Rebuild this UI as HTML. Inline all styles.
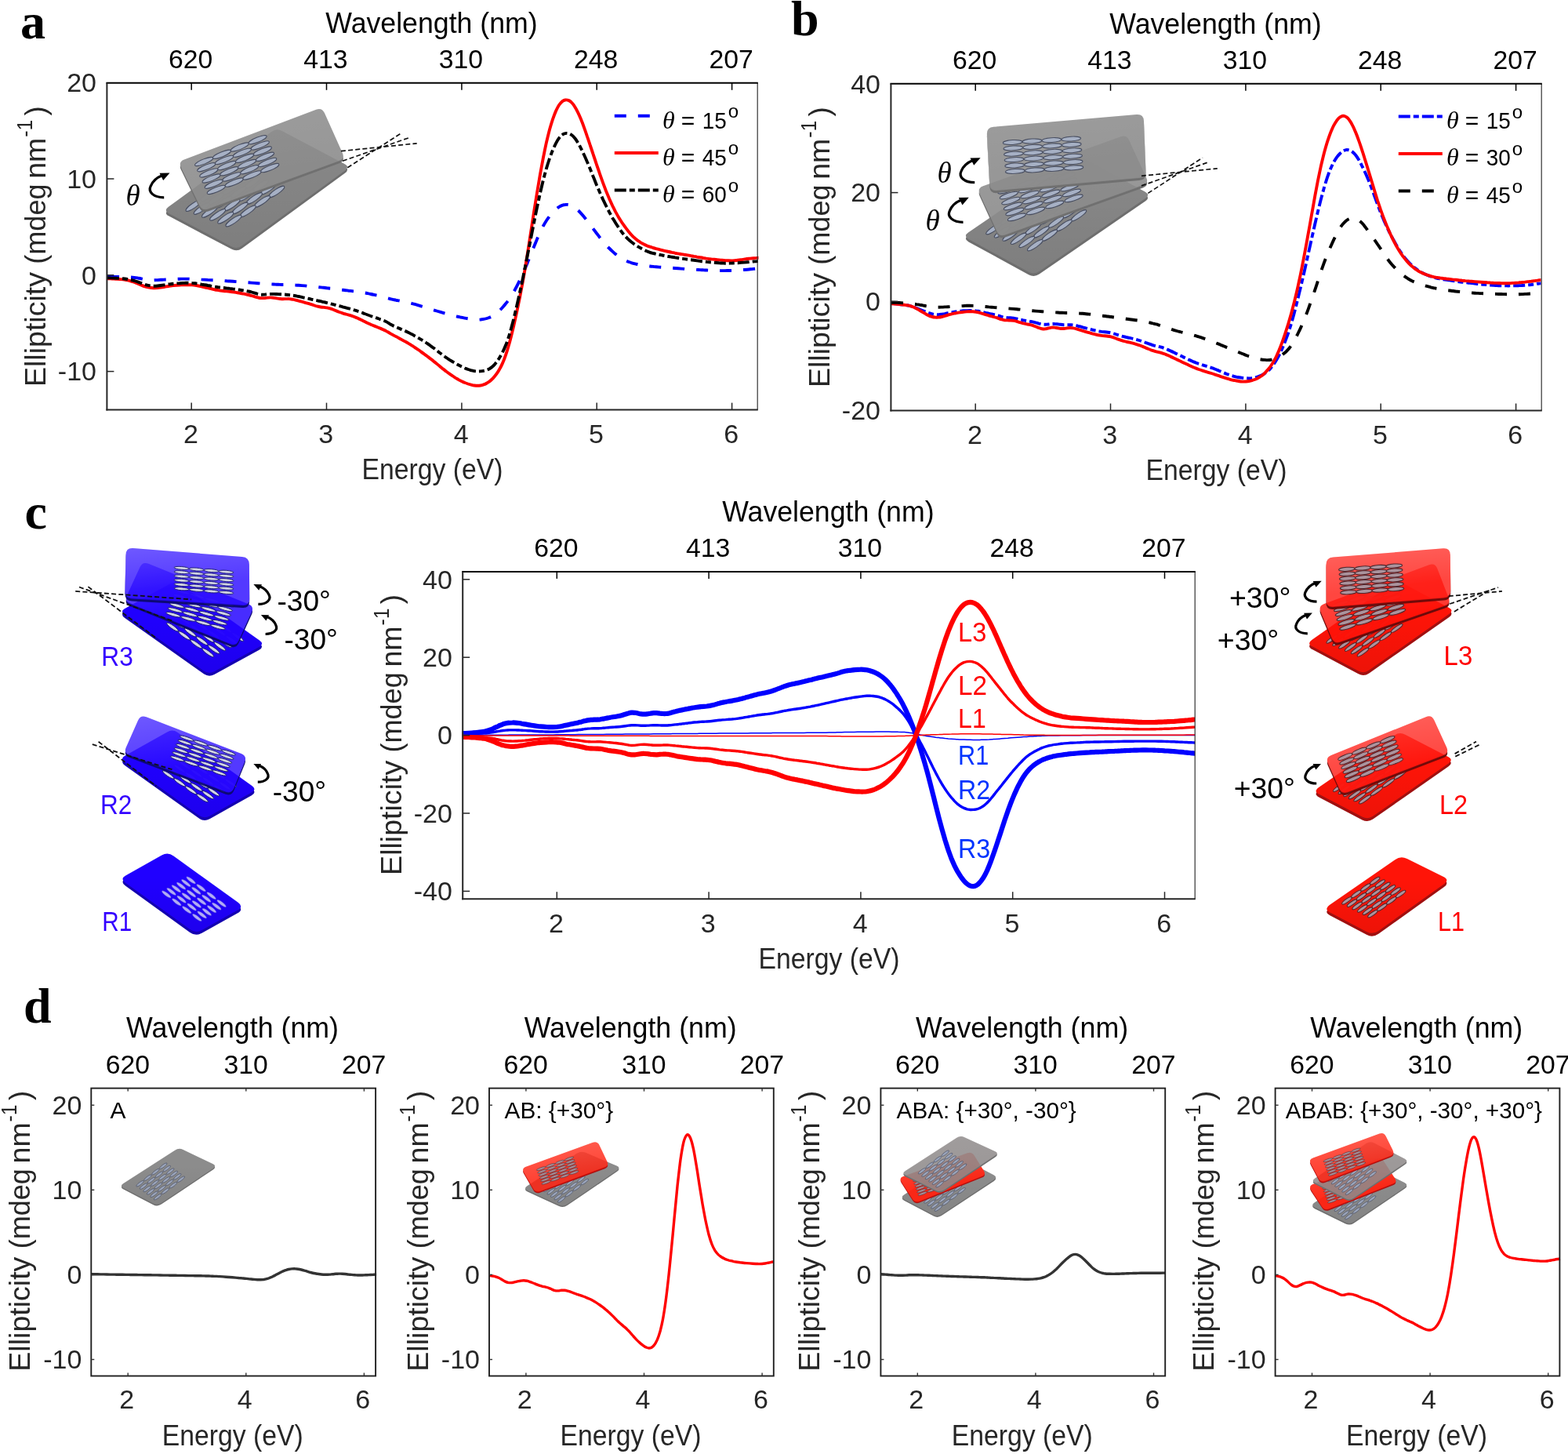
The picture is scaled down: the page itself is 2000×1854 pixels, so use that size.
<!DOCTYPE html>
<html lang="en"><head><meta charset="utf-8"><title>Ellipticity spectra of twisted stacks</title>
<style>
html,body{margin:0;padding:0;background:#fff;}
body{width:2000px;height:1854px;overflow:hidden;font-family:'Liberation Sans',sans-serif;}
svg{display:block;}
text{white-space:pre;}
</style></head><body>
<svg width="2000" height="1854" viewBox="0 0 2000 1854">
<rect x="0" y="0" width="2000" height="1854" fill="#ffffff"/>
<text x="26.0" y="48.5" font-family="'Liberation Serif', serif" font-size="64" text-anchor="start" fill="#000" font-weight="bold">a</text>
<defs><linearGradient id="shine" x1="0" y1="0" x2="0.25" y2="1"><stop offset="0" stop-color="#fff" stop-opacity="1"/><stop offset="0.75" stop-color="#fff" stop-opacity="0"/></linearGradient><linearGradient id="shade" x1="0" y1="0" x2="0" y2="1"><stop offset="0.3" stop-color="#000" stop-opacity="0"/><stop offset="1" stop-color="#000" stop-opacity="1"/></linearGradient></defs>
<path d="M215.5 272.2Q208.4 268.5 214.9 263.8L346.3 167.9Q352.7 163.2 359.8 166.9L439.4 208.9Q446.4 212.7 440.0 217.4L308.6 313.3Q302.2 318.0 295.1 314.2Z" transform="translate(0 3.4)" fill="#6e6e6e"/>
<path d="M215.5 272.2Q208.4 268.5 214.9 263.8L346.3 167.9Q352.7 163.2 359.8 166.9L439.4 208.9Q446.4 212.7 440.0 217.4L308.6 313.3Q302.2 318.0 295.1 314.2Z" fill="#868686" opacity="1"/>
<path d="M215.5 272.2Q208.4 268.5 214.9 263.8L346.3 167.9Q352.7 163.2 359.8 166.9L439.4 208.9Q446.4 212.7 440.0 217.4L308.6 313.3Q302.2 318.0 295.1 314.2Z" fill="url(#shade)" opacity="0.06"/>
<mask id="m1" maskUnits="userSpaceOnUse" x="142.8" y="34.5" width="420.0" height="420.0"><rect x="142.8" y="34.5" width="420.0" height="420.0" fill="#fff"/><path d="M230.9 213.5Q227.4 206.4 234.9 203.5L403.2 139.7Q410.6 136.8 413.9 144.1L436.9 195.3Q440.1 202.6 432.6 205.3L265.5 266.4Q257.9 269.1 254.4 261.9Z" fill="#333"/></mask>
<g fill="#a6b0c4" stroke="#474d60" stroke-width="1.0" opacity="1.0" mask="url(#m1)"><ellipse cx="352.8" cy="244.5" rx="12.0" ry="3.1" transform="rotate(-34.2 352.8 244.5)"/><ellipse cx="334.5" cy="256.9" rx="12.0" ry="3.1" transform="rotate(-34.2 334.5 256.9)"/><ellipse cx="316.3" cy="269.3" rx="12.0" ry="3.1" transform="rotate(-34.2 316.3 269.3)"/><ellipse cx="298.0" cy="281.6" rx="12.0" ry="3.1" transform="rotate(-34.2 298.0 281.6)"/><ellipse cx="342.6" cy="240.6" rx="12.0" ry="3.1" transform="rotate(-34.2 342.6 240.6)"/><ellipse cx="324.3" cy="253.0" rx="12.0" ry="3.1" transform="rotate(-34.2 324.3 253.0)"/><ellipse cx="306.1" cy="265.4" rx="12.0" ry="3.1" transform="rotate(-34.2 306.1 265.4)"/><ellipse cx="287.8" cy="277.7" rx="12.0" ry="3.1" transform="rotate(-34.2 287.8 277.7)"/><ellipse cx="332.4" cy="236.7" rx="12.0" ry="3.1" transform="rotate(-34.2 332.4 236.7)"/><ellipse cx="314.2" cy="249.1" rx="12.0" ry="3.1" transform="rotate(-34.2 314.2 249.1)"/><ellipse cx="295.9" cy="261.4" rx="12.0" ry="3.1" transform="rotate(-34.2 295.9 261.4)"/><ellipse cx="277.7" cy="273.8" rx="12.0" ry="3.1" transform="rotate(-34.2 277.7 273.8)"/><ellipse cx="322.3" cy="232.8" rx="12.0" ry="3.1" transform="rotate(-34.2 322.3 232.8)"/><ellipse cx="304.0" cy="245.1" rx="12.0" ry="3.1" transform="rotate(-34.2 304.0 245.1)"/><ellipse cx="285.7" cy="257.5" rx="12.0" ry="3.1" transform="rotate(-34.2 285.7 257.5)"/><ellipse cx="267.5" cy="269.9" rx="12.0" ry="3.1" transform="rotate(-34.2 267.5 269.9)"/><ellipse cx="312.1" cy="228.8" rx="12.0" ry="3.1" transform="rotate(-34.2 312.1 228.8)"/><ellipse cx="293.8" cy="241.2" rx="12.0" ry="3.1" transform="rotate(-34.2 293.8 241.2)"/><ellipse cx="275.6" cy="253.6" rx="12.0" ry="3.1" transform="rotate(-34.2 275.6 253.6)"/><ellipse cx="257.3" cy="266.0" rx="12.0" ry="3.1" transform="rotate(-34.2 257.3 266.0)"/><ellipse cx="301.9" cy="224.9" rx="12.0" ry="3.1" transform="rotate(-34.2 301.9 224.9)"/><ellipse cx="283.7" cy="237.3" rx="12.0" ry="3.1" transform="rotate(-34.2 283.7 237.3)"/><ellipse cx="265.4" cy="249.7" rx="12.0" ry="3.1" transform="rotate(-34.2 265.4 249.7)"/><ellipse cx="247.1" cy="262.1" rx="12.0" ry="3.1" transform="rotate(-34.2 247.1 262.1)"/></g>
<mask id="m2" maskUnits="userSpaceOnUse" x="219.4" y="128.8" width="228.7" height="148.3"><rect x="219.4" y="128.8" width="228.7" height="148.3" fill="#fff"/><path d="M230.9 213.5Q227.4 206.4 234.9 203.5L403.2 139.7Q410.6 136.8 413.9 144.1L436.9 195.3Q440.1 202.6 432.6 205.3L265.5 266.4Q257.9 269.1 254.4 261.9Z" fill="#000" transform="translate(0 -0.8)"/></mask>
<g mask="url(#m2)"><path d="M230.9 213.5Q227.4 206.4 234.9 203.5L403.2 139.7Q410.6 136.8 413.9 144.1L436.9 195.3Q440.1 202.6 432.6 205.3L265.5 266.4Q257.9 269.1 254.4 261.9Z" transform="translate(0 3.0)" fill="#707070" opacity="1"/></g>
<path d="M230.9 213.5Q227.4 206.4 234.9 203.5L403.2 139.7Q410.6 136.8 413.9 144.1L436.9 195.3Q440.1 202.6 432.6 205.3L265.5 266.4Q257.9 269.1 254.4 261.9Z" fill="#8c8c8c" opacity="0.9"/>
<path d="M230.9 213.5Q227.4 206.4 234.9 203.5L403.2 139.7Q410.6 136.8 413.9 144.1L436.9 195.3Q440.1 202.6 432.6 205.3L265.5 266.4Q257.9 269.1 254.4 261.9Z" fill="url(#shine)" opacity="0.05"/>
<g fill="#a6b0c4" stroke="#474d60" stroke-width="1.0" opacity="1.0"><ellipse cx="260.2" cy="206.0" rx="12.5" ry="3.1" transform="rotate(-22.1 260.2 206.0)"/><ellipse cx="283.0" cy="196.8" rx="12.5" ry="3.1" transform="rotate(-22.1 283.0 196.8)"/><ellipse cx="305.8" cy="187.5" rx="12.5" ry="3.1" transform="rotate(-22.1 305.8 187.5)"/><ellipse cx="328.6" cy="178.2" rx="12.5" ry="3.1" transform="rotate(-22.1 328.6 178.2)"/><ellipse cx="263.3" cy="213.2" rx="12.5" ry="3.1" transform="rotate(-22.1 263.3 213.2)"/><ellipse cx="286.1" cy="203.9" rx="12.5" ry="3.1" transform="rotate(-22.1 286.1 203.9)"/><ellipse cx="309.0" cy="194.7" rx="12.5" ry="3.1" transform="rotate(-22.1 309.0 194.7)"/><ellipse cx="331.8" cy="185.4" rx="12.5" ry="3.1" transform="rotate(-22.1 331.8 185.4)"/><ellipse cx="266.4" cy="220.4" rx="12.5" ry="3.1" transform="rotate(-22.1 266.4 220.4)"/><ellipse cx="289.3" cy="211.1" rx="12.5" ry="3.1" transform="rotate(-22.1 289.3 211.1)"/><ellipse cx="312.1" cy="201.8" rx="12.5" ry="3.1" transform="rotate(-22.1 312.1 201.8)"/><ellipse cx="334.9" cy="192.6" rx="12.5" ry="3.1" transform="rotate(-22.1 334.9 192.6)"/><ellipse cx="269.6" cy="227.5" rx="12.5" ry="3.1" transform="rotate(-22.1 269.6 227.5)"/><ellipse cx="292.4" cy="218.3" rx="12.5" ry="3.1" transform="rotate(-22.1 292.4 218.3)"/><ellipse cx="315.2" cy="209.0" rx="12.5" ry="3.1" transform="rotate(-22.1 315.2 209.0)"/><ellipse cx="338.0" cy="199.8" rx="12.5" ry="3.1" transform="rotate(-22.1 338.0 199.8)"/><ellipse cx="272.7" cy="234.7" rx="12.5" ry="3.1" transform="rotate(-22.1 272.7 234.7)"/><ellipse cx="295.5" cy="225.4" rx="12.5" ry="3.1" transform="rotate(-22.1 295.5 225.4)"/><ellipse cx="318.3" cy="216.2" rx="12.5" ry="3.1" transform="rotate(-22.1 318.3 216.2)"/><ellipse cx="341.2" cy="206.9" rx="12.5" ry="3.1" transform="rotate(-22.1 341.2 206.9)"/><ellipse cx="275.8" cy="241.9" rx="12.5" ry="3.1" transform="rotate(-22.1 275.8 241.9)"/><ellipse cx="298.7" cy="232.6" rx="12.5" ry="3.1" transform="rotate(-22.1 298.7 232.6)"/><ellipse cx="321.5" cy="223.4" rx="12.5" ry="3.1" transform="rotate(-22.1 321.5 223.4)"/><ellipse cx="344.3" cy="214.1" rx="12.5" ry="3.1" transform="rotate(-22.1 344.3 214.1)"/></g>
<line x1="434.9" y1="192.7" x2="531.7" y2="182.8" stroke="#111" stroke-width="1.7" stroke-dasharray="6 3.2"/>
<line x1="437.0" y1="205.3" x2="521.2" y2="175.8" stroke="#111" stroke-width="1.7" stroke-dasharray="6 3.2"/>
<line x1="443.3" y1="213.7" x2="510.7" y2="170.5" stroke="#111" stroke-width="1.7" stroke-dasharray="6 3.2"/>
<path d="M209.2 251.8 C195.9 251.8 188.4 244.9 192.2 237.3 C194.7 231.0 201.0 226.0 206.7 223.7" fill="none" stroke="#000" stroke-width="3.2"/>
<path d="M216.5 220.4 L203.5 220.7 L208.2 230.0 Z" fill="#000"/>
<text x="160.5" y="262.0" font-family="'Liberation Serif', serif" font-size="37" text-anchor="start" fill="#000" font-style="italic">θ</text>
<path d="M137.0 352.6C137.7 352.6 139.7 352.6 141.0 352.7C142.4 352.7 143.7 352.7 145.0 352.8C146.4 352.8 147.7 352.8 149.0 352.9C150.4 352.9 151.7 352.9 153.0 353.0C154.4 353.0 155.7 353.0 157.0 353.1C158.4 353.1 159.7 353.2 161.0 353.2C162.4 353.3 163.7 353.4 165.0 353.4C166.4 353.5 167.7 353.6 169.0 353.7C170.4 353.8 171.7 353.9 173.0 354.1C174.4 354.3 175.7 354.5 177.0 354.8C178.4 355.0 179.7 355.3 181.0 355.6C182.4 355.9 183.7 356.2 185.0 356.4C186.4 356.6 187.7 356.9 189.0 357.0C190.4 357.1 191.7 357.2 193.0 357.3C194.4 357.3 195.7 357.3 197.0 357.2C198.4 357.2 199.7 357.1 201.0 357.1C202.4 357.0 203.7 356.9 205.0 356.8C206.4 356.8 207.7 356.7 209.0 356.6C210.4 356.6 211.7 356.5 213.0 356.5C214.4 356.4 215.7 356.3 217.0 356.3C218.4 356.2 219.7 356.1 221.0 356.1C222.4 356.0 223.7 355.9 225.0 355.9C226.4 355.8 227.7 355.8 229.0 355.7C230.4 355.7 231.7 355.6 233.0 355.6C234.4 355.6 235.7 355.6 237.0 355.6C238.4 355.6 239.7 355.6 241.0 355.6C242.4 355.7 243.7 355.7 245.0 355.7C246.4 355.8 247.7 355.9 249.0 355.9C250.4 356.0 251.7 356.1 253.0 356.1C254.4 356.2 255.7 356.3 257.0 356.4C258.4 356.4 259.7 356.5 261.0 356.6C262.4 356.7 263.7 356.8 265.0 356.9C266.4 356.9 267.7 357.0 269.0 357.1C270.4 357.2 271.7 357.2 273.0 357.3C274.4 357.4 275.7 357.5 277.0 357.5C278.4 357.6 279.7 357.7 281.0 357.8C282.4 357.9 283.7 357.9 285.0 358.0C286.4 358.1 287.7 358.2 289.0 358.3C290.4 358.4 291.7 358.5 293.0 358.5C294.4 358.6 295.7 358.7 297.0 358.8C298.4 358.9 299.7 359.0 301.0 359.1C302.4 359.2 303.7 359.3 305.0 359.4C306.4 359.5 307.7 359.6 309.0 359.7C310.4 359.8 311.7 359.9 313.0 360.0C314.4 360.1 315.7 360.2 317.0 360.3C318.4 360.4 319.7 360.5 321.0 360.6C322.4 360.7 323.7 360.8 325.0 360.9C326.4 361.0 327.7 361.1 329.0 361.2C330.4 361.3 331.7 361.4 333.0 361.5C334.4 361.6 335.7 361.7 337.0 361.7C338.4 361.8 339.7 361.9 341.0 362.0C342.4 362.1 343.7 362.2 345.0 362.3C346.4 362.3 347.7 362.4 349.0 362.5C350.4 362.6 351.7 362.6 353.0 362.7C354.4 362.8 355.7 362.8 357.0 362.9C358.4 362.9 359.7 363.0 361.0 363.0C362.4 363.0 363.7 363.1 365.0 363.1C366.4 363.2 367.7 363.2 369.0 363.2C370.4 363.3 371.7 363.3 373.0 363.4C374.4 363.5 375.7 363.5 377.0 363.6C378.4 363.7 379.7 363.7 381.0 363.8C382.4 363.9 383.7 364.0 385.0 364.1C386.4 364.2 387.7 364.3 389.0 364.4C390.4 364.5 391.7 364.7 393.0 364.8C394.4 364.9 395.7 365.0 397.0 365.2C398.4 365.3 399.7 365.4 401.0 365.6C402.4 365.7 403.7 365.8 405.0 366.0C406.4 366.1 407.7 366.3 409.0 366.4C410.4 366.5 411.7 366.7 413.0 366.8C414.4 367.0 415.7 367.1 417.0 367.3C418.4 367.4 419.7 367.6 421.0 367.8C422.4 367.9 423.7 368.1 425.0 368.2C426.4 368.4 427.7 368.6 429.0 368.7C430.4 368.9 431.7 369.1 433.0 369.2C434.4 369.4 435.7 369.6 437.0 369.7C438.4 369.9 439.7 370.1 441.0 370.2C442.4 370.4 443.7 370.5 445.0 370.7C446.4 370.8 447.7 371.0 449.0 371.1C450.4 371.3 451.7 371.4 453.0 371.5C454.4 371.7 455.7 371.9 457.0 372.0C458.4 372.2 459.7 372.4 461.0 372.6C462.4 372.9 463.7 373.1 465.0 373.4C466.4 373.6 467.7 373.9 469.0 374.1C470.4 374.4 471.7 374.7 473.0 375.0C474.4 375.3 475.7 375.6 477.0 375.9C478.4 376.2 479.7 376.5 481.0 376.8C482.4 377.2 483.7 377.5 485.0 377.8C486.4 378.2 487.7 378.5 489.0 378.9C490.4 379.2 491.7 379.6 493.0 379.9C494.4 380.3 495.7 380.6 497.0 381.0C498.4 381.3 499.7 381.6 501.0 381.9C502.4 382.2 503.7 382.4 505.0 382.7C506.4 382.9 507.7 383.2 509.0 383.4C510.4 383.7 511.7 383.9 513.0 384.2C514.4 384.4 515.7 384.7 517.0 384.9C518.4 385.2 519.7 385.5 521.0 385.8C522.4 386.1 523.7 386.4 525.0 386.8C526.4 387.1 527.7 387.5 529.0 387.9C530.4 388.3 531.7 388.7 533.0 389.1C534.4 389.5 535.7 389.9 537.0 390.3C538.4 390.7 539.7 391.1 541.0 391.6C542.4 392.0 543.7 392.4 545.0 392.8C546.4 393.2 547.7 393.6 549.0 394.0C550.4 394.4 551.7 394.9 553.0 395.3C554.4 395.7 555.7 396.1 557.0 396.5C558.4 396.9 559.7 397.3 561.0 397.7C562.4 398.1 563.7 398.5 565.0 398.9C566.4 399.3 567.7 399.7 569.0 400.1C570.4 400.4 571.7 400.8 573.0 401.1C574.4 401.5 575.7 401.8 577.0 402.1C578.4 402.4 579.7 402.8 581.0 403.1C582.4 403.4 583.7 403.7 585.0 404.0C586.4 404.3 587.7 404.6 589.0 404.8C590.4 405.1 591.7 405.4 593.0 405.6C594.4 405.9 595.7 406.1 597.0 406.3C598.4 406.5 599.7 406.8 601.0 407.0C602.4 407.2 603.7 407.3 605.0 407.5C606.4 407.6 607.7 407.7 609.0 407.7C610.4 407.7 611.7 407.6 613.0 407.5C614.4 407.3 615.7 407.1 617.0 406.9C618.4 406.7 619.7 406.4 621.0 406.0C622.4 405.6 623.7 405.2 625.0 404.6C626.4 404.0 627.7 403.4 629.0 402.6C630.4 401.8 631.7 400.8 633.0 399.8C634.4 398.7 635.7 397.5 637.0 396.2C638.4 394.9 639.7 393.5 641.0 392.0C642.4 390.5 643.7 389.0 645.0 387.3C646.4 385.7 647.7 384.0 649.0 382.1C650.4 380.2 651.7 378.2 653.0 376.1C654.4 373.9 655.7 371.6 657.0 369.1C658.4 366.7 659.7 364.1 661.0 361.4C662.4 358.7 663.7 355.9 665.0 353.0C666.4 350.1 667.7 347.1 669.0 344.0C670.4 340.9 671.7 337.6 673.0 334.4C674.4 331.2 675.7 327.9 677.0 324.6C678.4 321.3 679.7 318.0 681.0 314.7C682.4 311.5 683.7 308.0 685.0 304.9C686.4 301.7 687.7 298.6 689.0 295.7C690.4 292.9 691.7 290.3 693.0 287.9C694.4 285.5 695.7 283.4 697.0 281.3C698.4 279.3 699.7 277.4 701.0 275.7C702.4 273.9 703.7 272.3 705.0 270.9C706.4 269.5 707.7 268.2 709.0 267.0C710.4 265.8 711.7 264.8 713.0 263.9C714.4 263.1 715.7 262.4 717.0 261.9C718.4 261.4 719.7 261.1 721.0 261.0C722.4 260.8 723.7 260.9 725.0 261.1C726.4 261.2 727.7 261.6 729.0 262.1C730.4 262.7 731.7 263.5 733.0 264.4C734.4 265.4 735.7 266.6 737.0 267.8C738.4 269.1 739.7 270.5 741.0 272.0C742.4 273.4 743.7 275.0 745.0 276.6C746.4 278.2 747.7 279.9 749.0 281.6C750.4 283.3 751.7 285.1 753.0 286.9C754.4 288.6 755.7 290.4 757.0 292.2C758.4 293.9 759.7 295.7 761.0 297.5C762.4 299.2 763.7 301.0 765.0 302.7C766.4 304.4 767.7 306.0 769.0 307.6C770.4 309.2 771.7 310.7 773.0 312.2C774.4 313.7 775.7 315.2 777.0 316.5C778.4 317.9 779.7 319.2 781.0 320.4C782.4 321.7 783.7 322.8 785.0 323.9C786.4 325.0 787.7 326.0 789.0 327.0C790.4 327.9 791.7 328.8 793.0 329.6C794.4 330.3 795.7 331.1 797.0 331.8C798.4 332.4 799.7 333.0 801.0 333.6C802.4 334.1 803.7 334.6 805.0 335.0C806.4 335.4 807.7 335.8 809.0 336.1C810.4 336.5 811.7 336.8 813.0 337.0C814.4 337.3 815.7 337.6 817.0 337.8C818.4 338.0 819.7 338.2 821.0 338.4C822.4 338.6 823.7 338.8 825.0 339.0C826.4 339.2 827.7 339.3 829.0 339.5C830.4 339.7 831.7 339.8 833.0 339.9C834.4 340.1 835.7 340.2 837.0 340.3C838.4 340.4 839.7 340.5 841.0 340.6C842.4 340.7 843.7 340.8 845.0 340.9C846.4 341.0 847.7 341.1 849.0 341.2C850.4 341.3 851.7 341.4 853.0 341.5C854.4 341.5 855.7 341.6 857.0 341.7C858.4 341.8 859.7 341.9 861.0 342.0C862.4 342.1 863.7 342.2 865.0 342.3C866.4 342.4 867.7 342.5 869.0 342.6C870.4 342.7 871.7 342.8 873.0 342.9C874.4 343.0 875.7 343.1 877.0 343.1C878.4 343.2 879.7 343.3 881.0 343.4C882.4 343.5 883.7 343.6 885.0 343.6C886.4 343.7 887.7 343.8 889.0 343.9C890.4 344.0 891.7 344.0 893.0 344.1C894.4 344.2 895.7 344.2 897.0 344.3C898.4 344.4 899.7 344.5 901.0 344.5C902.4 344.6 903.7 344.7 905.0 344.7C906.4 344.8 907.7 344.8 909.0 344.9C910.4 344.9 911.7 345.0 913.0 345.0C914.4 345.0 915.7 345.1 917.0 345.1C918.4 345.1 919.7 345.1 921.0 345.1C922.4 345.1 923.7 345.1 925.0 345.1C926.4 345.1 927.7 345.0 929.0 345.0C930.4 345.0 931.7 344.9 933.0 344.9C934.4 344.8 935.7 344.7 937.0 344.7C938.4 344.6 939.7 344.5 941.0 344.5C942.4 344.4 943.7 344.3 945.0 344.2C946.4 344.1 947.7 344.1 949.0 344.0C950.4 343.9 951.7 343.8 953.0 343.7C954.4 343.6 955.7 343.5 957.0 343.3C958.4 343.2 959.7 343.1 961.0 342.9C962.4 342.8 964.0 342.6 965.0 342.5C966.0 342.5 966.7 342.4 967.0 342.4" fill="none" stroke="#0000ff" stroke-width="3.9" stroke-dasharray="15 15" stroke-linejoin="round"/>
<path d="M137.0 355.2C137.7 355.3 139.7 355.3 141.0 355.4C142.4 355.5 143.7 355.5 145.0 355.6C146.4 355.7 147.7 355.8 149.0 355.8C150.4 355.9 151.7 356.0 153.0 356.1C154.4 356.2 155.7 356.3 157.0 356.4C158.4 356.6 159.7 356.7 161.0 357.0C162.4 357.2 163.7 357.5 165.0 357.8C166.4 358.2 167.7 358.6 169.0 359.1C170.4 359.5 171.7 360.0 173.0 360.6C174.4 361.1 175.7 361.7 177.0 362.2C178.4 362.8 179.7 363.4 181.0 363.9C182.4 364.5 183.7 365.0 185.0 365.4C186.4 365.8 187.7 366.1 189.0 366.4C190.4 366.6 191.7 366.8 193.0 367.0C194.4 367.1 195.7 367.2 197.0 367.2C198.4 367.2 199.7 367.2 201.0 367.1C202.4 367.0 203.7 366.8 205.0 366.6C206.4 366.4 207.7 366.2 209.0 366.0C210.4 365.7 211.7 365.5 213.0 365.2C214.4 365.0 215.7 364.8 217.0 364.6C218.4 364.4 219.7 364.3 221.0 364.1C222.4 364.0 223.7 363.9 225.0 363.8C226.4 363.7 227.7 363.6 229.0 363.5C230.4 363.4 231.7 363.4 233.0 363.3C234.4 363.2 235.7 363.2 237.0 363.2C238.4 363.1 239.7 363.1 241.0 363.1C242.4 363.2 243.7 363.2 245.0 363.3C246.4 363.4 247.7 363.5 249.0 363.7C250.4 363.9 251.7 364.2 253.0 364.5C254.4 364.8 255.7 365.1 257.0 365.4C258.4 365.7 259.7 366.0 261.0 366.3C262.4 366.6 263.7 366.9 265.0 367.2C266.4 367.6 267.7 367.9 269.0 368.2C270.4 368.5 271.7 368.8 273.0 369.1C274.4 369.4 275.7 369.7 277.0 369.9C278.4 370.2 279.7 370.4 281.0 370.6C282.4 370.7 283.7 370.9 285.0 371.0C286.4 371.2 287.7 371.3 289.0 371.4C290.4 371.5 291.7 371.6 293.0 371.8C294.4 372.0 295.7 372.1 297.0 372.3C298.4 372.5 299.7 372.7 301.0 372.9C302.4 373.1 303.7 373.4 305.0 373.6C306.4 373.8 307.7 374.1 309.0 374.3C310.4 374.6 311.7 374.8 313.0 375.1C314.4 375.4 315.7 375.7 317.0 376.0C318.4 376.3 319.7 376.7 321.0 377.1C322.4 377.4 323.7 377.9 325.0 378.3C326.4 378.7 327.7 379.1 329.0 379.4C330.4 379.7 331.7 380.0 333.0 380.1C334.4 380.2 335.7 380.2 337.0 380.1C338.4 380.0 339.7 379.7 341.0 379.6C342.4 379.5 343.7 379.4 345.0 379.4C346.4 379.4 347.7 379.6 349.0 379.8C350.4 379.9 351.7 380.2 353.0 380.4C354.4 380.6 355.7 380.9 357.0 381.0C358.4 381.1 359.7 381.2 361.0 381.2C362.4 381.2 363.7 381.1 365.0 381.1C366.4 381.1 367.7 381.0 369.0 381.1C370.4 381.3 371.7 381.5 373.0 381.7C374.4 382.0 375.7 382.3 377.0 382.6C378.4 382.9 379.7 383.2 381.0 383.6C382.4 383.9 383.7 384.3 385.0 384.7C386.4 385.0 387.7 385.4 389.0 385.8C390.4 386.2 391.7 386.5 393.0 386.9C394.4 387.4 395.7 387.8 397.0 388.2C398.4 388.7 399.7 389.1 401.0 389.5C402.4 390.0 403.7 390.4 405.0 390.7C406.4 391.1 407.7 391.3 409.0 391.5C410.4 391.7 411.7 391.8 413.0 391.9C414.4 392.1 415.7 392.2 417.0 392.4C418.4 392.7 419.7 393.0 421.0 393.4C422.4 393.8 423.7 394.3 425.0 394.8C426.4 395.4 427.7 395.9 429.0 396.4C430.4 397.0 431.7 397.5 433.0 398.0C434.4 398.5 435.7 398.9 437.0 399.3C438.4 399.8 439.7 400.2 441.0 400.5C442.4 400.9 443.7 401.3 445.0 401.7C446.4 402.1 447.7 402.5 449.0 402.9C450.4 403.4 451.7 403.9 453.0 404.4C454.4 404.9 455.7 405.5 457.0 406.1C458.4 406.7 459.7 407.4 461.0 408.0C462.4 408.7 463.7 409.4 465.0 410.0C466.4 410.7 467.7 411.4 469.0 412.0C470.4 412.6 471.7 413.2 473.0 413.8C474.4 414.3 475.7 414.9 477.0 415.4C478.4 416.0 479.7 416.5 481.0 417.0C482.4 417.6 483.7 418.1 485.0 418.6C486.4 419.2 487.7 419.8 489.0 420.4C490.4 421.0 491.7 421.7 493.0 422.4C494.4 423.2 495.7 424.0 497.0 424.7C498.4 425.5 499.7 426.3 501.0 427.0C502.4 427.7 503.7 428.4 505.0 429.1C506.4 429.8 507.7 430.5 509.0 431.2C510.4 432.0 511.7 432.7 513.0 433.4C514.4 434.1 515.7 434.8 517.0 435.6C518.4 436.3 519.7 437.1 521.0 437.9C522.4 438.7 523.7 439.5 525.0 440.4C526.4 441.2 527.7 442.1 529.0 443.0C530.4 443.9 531.7 444.8 533.0 445.7C534.4 446.6 535.7 447.5 537.0 448.5C538.4 449.4 539.7 450.4 541.0 451.4C542.4 452.4 543.7 453.3 545.0 454.3C546.4 455.3 547.7 456.3 549.0 457.4C550.4 458.4 551.7 459.5 553.0 460.6C554.4 461.6 555.7 462.7 557.0 463.8C558.4 464.9 559.7 466.0 561.0 467.1C562.4 468.2 563.7 469.3 565.0 470.4C566.4 471.4 567.7 472.5 569.0 473.5C570.4 474.5 571.7 475.5 573.0 476.4C574.4 477.4 575.7 478.3 577.0 479.2C578.4 480.1 579.7 481.0 581.0 481.9C582.4 482.7 583.7 483.5 585.0 484.2C586.4 484.9 587.7 485.6 589.0 486.3C590.4 486.9 591.7 487.5 593.0 488.0C594.4 488.5 595.7 489.0 597.0 489.5C598.4 489.9 599.7 490.3 601.0 490.7C602.4 491.0 603.7 491.3 605.0 491.5C606.4 491.7 607.7 491.9 609.0 491.8C610.4 491.8 611.7 491.7 613.0 491.5C614.4 491.3 615.7 490.9 617.0 490.4C618.4 489.9 619.7 489.3 621.0 488.5C622.4 487.8 623.7 486.9 625.0 485.9C626.4 484.8 627.7 483.6 629.0 482.2C630.4 480.7 631.7 479.1 633.0 477.2C634.4 475.4 635.7 473.4 637.0 471.0C638.4 468.7 639.7 466.1 641.0 463.1C642.4 460.1 643.7 456.8 645.0 452.9C646.4 449.0 647.7 444.7 649.0 440.0C650.4 435.3 651.7 430.1 653.0 424.7C654.4 419.3 655.7 413.6 657.0 407.6C658.4 401.6 659.7 395.4 661.0 388.9C662.4 382.4 663.7 375.8 665.0 368.7C666.4 361.7 667.7 354.4 669.0 346.7C670.4 339.0 671.7 330.7 673.0 322.4C674.4 314.0 675.7 305.1 677.0 296.5C678.4 287.9 679.7 279.1 681.0 270.6C682.4 262.2 683.7 253.8 685.0 245.7C686.4 237.6 687.7 229.7 689.0 222.1C690.4 214.6 691.7 207.4 693.0 200.6C694.4 193.8 695.7 187.3 697.0 181.4C698.4 175.5 699.7 170.1 701.0 165.2C702.4 160.3 703.7 156.0 705.0 152.1C706.4 148.1 707.7 144.6 709.0 141.6C710.4 138.6 711.7 136.0 713.0 134.0C714.4 132.0 715.7 130.5 717.0 129.4C718.4 128.4 719.7 127.8 721.0 127.5C722.4 127.3 723.7 127.4 725.0 127.9C726.4 128.5 727.7 129.3 729.0 130.6C730.4 131.9 731.7 133.7 733.0 135.8C734.4 137.9 735.7 140.4 737.0 143.1C738.4 145.9 739.7 148.9 741.0 152.1C742.4 155.4 743.7 159.0 745.0 162.6C746.4 166.3 747.7 170.2 749.0 174.1C750.4 178.0 751.7 182.0 753.0 186.0C754.4 190.0 755.7 194.0 757.0 198.0C758.4 202.0 759.7 206.0 761.0 210.0C762.4 213.9 763.7 217.8 765.0 221.6C766.4 225.5 767.7 229.3 769.0 232.9C770.4 236.6 771.7 240.1 773.0 243.5C774.4 246.8 775.7 250.0 777.0 253.1C778.4 256.2 779.7 259.1 781.0 261.9C782.4 264.7 783.7 267.4 785.0 269.9C786.4 272.4 787.7 274.7 789.0 276.9C790.4 279.2 791.7 281.2 793.0 283.3C794.4 285.3 795.7 287.2 797.0 289.0C798.4 290.9 799.7 292.7 801.0 294.3C802.4 296.0 803.7 297.6 805.0 299.1C806.4 300.5 807.7 301.9 809.0 303.1C810.4 304.3 811.7 305.4 813.0 306.4C814.4 307.4 815.7 308.2 817.0 309.1C818.4 309.9 819.7 310.6 821.0 311.3C822.4 312.0 823.7 312.7 825.0 313.2C826.4 313.8 827.7 314.3 829.0 314.7C830.4 315.2 831.7 315.6 833.0 316.0C834.4 316.3 835.7 316.7 837.0 317.1C838.4 317.4 839.7 317.8 841.0 318.1C842.4 318.5 843.7 318.8 845.0 319.1C846.4 319.5 847.7 319.8 849.0 320.1C850.4 320.4 851.7 320.7 853.0 321.0C854.4 321.3 855.7 321.6 857.0 321.9C858.4 322.1 859.7 322.4 861.0 322.7C862.4 322.9 863.7 323.2 865.0 323.4C866.4 323.6 867.7 323.9 869.0 324.1C870.4 324.3 871.7 324.5 873.0 324.8C874.4 325.0 875.7 325.2 877.0 325.4C878.4 325.7 879.7 325.9 881.0 326.1C882.4 326.4 883.7 326.6 885.0 326.9C886.4 327.1 887.7 327.3 889.0 327.6C890.4 327.8 891.7 328.1 893.0 328.3C894.4 328.5 895.7 328.7 897.0 329.0C898.4 329.2 899.7 329.4 901.0 329.6C902.4 329.8 903.7 329.9 905.0 330.1C906.4 330.3 907.7 330.4 909.0 330.6C910.4 330.7 911.7 330.9 913.0 331.0C914.4 331.2 915.7 331.3 917.0 331.4C918.4 331.5 919.7 331.7 921.0 331.8C922.4 331.9 923.7 332.0 925.0 332.1C926.4 332.2 927.7 332.3 929.0 332.3C930.4 332.4 931.7 332.4 933.0 332.4C934.4 332.4 935.7 332.3 937.0 332.2C938.4 332.1 939.7 332.0 941.0 331.8C942.4 331.6 943.7 331.4 945.0 331.2C946.4 331.1 947.7 330.8 949.0 330.6C950.4 330.4 951.7 330.2 953.0 330.0C954.4 329.9 955.7 329.7 957.0 329.6C958.4 329.4 959.7 329.3 961.0 329.2C962.4 329.1 963.9 328.9 965.0 328.9C966.1 328.8 967.1 328.7 967.5 328.7" fill="none" stroke="#ff0000" stroke-width="3.9" stroke-linejoin="round"/>
<path d="M137.0 354.2C137.7 354.2 139.7 354.3 141.0 354.4C142.4 354.4 143.7 354.5 145.0 354.6C146.4 354.6 147.7 354.7 149.0 354.8C150.4 354.8 151.7 354.9 153.0 355.0C154.4 355.1 155.7 355.2 157.0 355.3C158.4 355.4 159.7 355.5 161.0 355.7C162.4 355.9 163.7 356.1 165.0 356.4C166.4 356.6 167.7 356.9 169.0 357.3C170.4 357.7 171.7 358.1 173.0 358.5C174.4 358.9 175.7 359.4 177.0 359.9C178.4 360.4 179.7 360.9 181.0 361.4C182.4 361.9 183.7 362.4 185.0 362.8C186.4 363.2 187.7 363.6 189.0 363.9C190.4 364.2 191.7 364.4 193.0 364.5C194.4 364.7 195.7 364.7 197.0 364.7C198.4 364.7 199.7 364.6 201.0 364.5C202.4 364.4 203.7 364.2 205.0 364.0C206.4 363.8 207.7 363.6 209.0 363.4C210.4 363.2 211.7 362.9 213.0 362.7C214.4 362.5 215.7 362.3 217.0 362.2C218.4 362.0 219.7 361.9 221.0 361.7C222.4 361.6 223.7 361.5 225.0 361.4C226.4 361.3 227.7 361.2 229.0 361.2C230.4 361.1 231.7 361.0 233.0 360.9C234.4 360.9 235.7 360.8 237.0 360.8C238.4 360.8 239.7 360.7 241.0 360.8C242.4 360.8 243.7 360.8 245.0 360.9C246.4 360.9 247.7 361.0 249.0 361.2C250.4 361.4 251.7 361.6 253.0 361.8C254.4 362.0 255.7 362.3 257.0 362.6C258.4 362.8 259.7 363.1 261.0 363.3C262.4 363.5 263.7 363.7 265.0 364.0C266.4 364.2 267.7 364.4 269.0 364.7C270.4 364.9 271.7 365.1 273.0 365.4C274.4 365.6 275.7 365.8 277.0 366.0C278.4 366.2 279.7 366.4 281.0 366.5C282.4 366.7 283.7 366.9 285.0 367.0C286.4 367.2 287.7 367.3 289.0 367.5C290.4 367.6 291.7 367.7 293.0 367.9C294.4 368.0 295.7 368.2 297.0 368.4C298.4 368.5 299.7 368.7 301.0 368.9C302.4 369.1 303.7 369.3 305.0 369.5C306.4 369.7 307.7 369.9 309.0 370.1C310.4 370.3 311.7 370.5 313.0 370.7C314.4 371.0 315.7 371.2 317.0 371.5C318.4 371.8 319.7 372.1 321.0 372.5C322.4 372.9 323.7 373.3 325.0 373.7C326.4 374.2 327.7 374.6 329.0 375.0C330.4 375.3 331.7 375.6 333.0 375.7C334.4 375.8 335.7 375.7 337.0 375.6C338.4 375.5 339.7 375.2 341.0 375.1C342.4 375.0 343.7 374.9 345.0 374.9C346.4 374.8 347.7 374.9 349.0 374.9C350.4 374.9 351.7 375.0 353.0 375.0C354.4 375.1 355.7 375.1 357.0 375.2C358.4 375.3 359.7 375.3 361.0 375.4C362.4 375.5 363.7 375.6 365.0 375.7C366.4 375.8 367.7 375.9 369.0 376.1C370.4 376.2 371.7 376.4 373.0 376.6C374.4 376.8 375.7 377.0 377.0 377.2C378.4 377.5 379.7 377.8 381.0 378.0C382.4 378.3 383.7 378.6 385.0 378.9C386.4 379.2 387.7 379.6 389.0 379.8C390.4 380.1 391.7 380.4 393.0 380.7C394.4 381.0 395.7 381.3 397.0 381.6C398.4 381.9 399.7 382.1 401.0 382.4C402.4 382.7 403.7 383.0 405.0 383.3C406.4 383.6 407.7 383.9 409.0 384.2C410.4 384.5 411.7 384.9 413.0 385.2C414.4 385.5 415.7 385.8 417.0 386.1C418.4 386.5 419.7 386.8 421.0 387.1C422.4 387.5 423.7 387.8 425.0 388.1C426.4 388.5 427.7 388.8 429.0 389.2C430.4 389.5 431.7 389.9 433.0 390.2C434.4 390.6 435.7 390.9 437.0 391.3C438.4 391.6 439.7 392.0 441.0 392.3C442.4 392.7 443.7 393.1 445.0 393.4C446.4 393.8 447.7 394.2 449.0 394.5C450.4 394.9 451.7 395.3 453.0 395.7C454.4 396.1 455.7 396.5 457.0 397.0C458.4 397.4 459.7 397.9 461.0 398.4C462.4 398.9 463.7 399.5 465.0 400.0C466.4 400.5 467.7 401.0 469.0 401.5C470.4 402.0 471.7 402.5 473.0 403.0C474.4 403.5 475.7 403.9 477.0 404.4C478.4 404.8 479.7 405.3 481.0 405.7C482.4 406.2 483.7 406.6 485.0 407.1C486.4 407.5 487.7 408.0 489.0 408.6C490.4 409.1 491.7 409.7 493.0 410.4C494.4 411.2 495.7 412.1 497.0 412.9C498.4 413.6 499.7 414.4 501.0 415.1C502.4 415.8 503.7 416.3 505.0 416.9C506.4 417.5 507.7 418.1 509.0 418.6C510.4 419.2 511.7 419.8 513.0 420.4C514.4 420.9 515.7 421.5 517.0 422.1C518.4 422.7 519.7 423.4 521.0 424.0C522.4 424.7 523.7 425.4 525.0 426.1C526.4 426.8 527.7 427.5 529.0 428.3C530.4 429.0 531.7 429.8 533.0 430.5C534.4 431.3 535.7 432.1 537.0 432.9C538.4 433.7 539.7 434.6 541.0 435.4C542.4 436.3 543.7 437.1 545.0 438.0C546.4 438.9 547.7 439.8 549.0 440.8C550.4 441.7 551.7 442.7 553.0 443.7C554.4 444.7 555.7 445.8 557.0 446.8C558.4 447.9 559.7 448.9 561.0 450.0C562.4 451.0 563.7 452.0 565.0 453.0C566.4 454.0 567.7 455.0 569.0 455.9C570.4 456.8 571.7 457.7 573.0 458.6C574.4 459.4 575.7 460.2 577.0 461.0C578.4 461.8 579.7 462.6 581.0 463.4C582.4 464.1 583.7 464.9 585.0 465.6C586.4 466.3 587.7 467.0 589.0 467.6C590.4 468.3 591.7 468.9 593.0 469.5C594.4 470.0 595.7 470.6 597.0 471.0C598.4 471.5 599.7 471.9 601.0 472.3C602.4 472.6 603.7 472.9 605.0 473.1C606.4 473.3 607.7 473.5 609.0 473.5C610.4 473.6 611.7 473.5 613.0 473.4C614.4 473.3 615.7 473.2 617.0 472.9C618.4 472.6 619.7 472.3 621.0 471.8C622.4 471.3 623.7 470.7 625.0 469.8C626.4 469.0 627.7 468.0 629.0 466.7C630.4 465.4 631.7 463.9 633.0 462.1C634.4 460.4 635.7 458.4 637.0 456.2C638.4 454.0 639.7 451.8 641.0 449.1C642.4 446.5 643.7 443.7 645.0 440.3C646.4 437.0 647.7 433.2 649.0 429.0C650.4 424.8 651.7 420.0 653.0 415.0C654.4 410.0 655.7 404.6 657.0 399.1C658.4 393.6 659.7 387.8 661.0 381.9C662.4 376.0 663.7 369.9 665.0 363.7C666.4 357.5 667.7 351.1 669.0 344.6C670.4 338.0 671.7 331.3 673.0 324.6C674.4 317.9 675.7 311.1 677.0 304.4C678.4 297.6 679.7 290.8 681.0 284.1C682.4 277.5 683.7 270.8 685.0 264.5C686.4 258.1 687.7 252.0 689.0 246.1C690.4 240.2 691.7 234.5 693.0 229.3C694.4 224.0 695.7 219.1 697.0 214.6C698.4 210.0 699.7 205.9 701.0 202.0C702.4 198.2 703.7 194.7 705.0 191.5C706.4 188.3 707.7 185.3 709.0 182.8C710.4 180.2 711.7 178.0 713.0 176.2C714.4 174.4 715.7 173.0 717.0 172.0C718.4 170.9 719.7 170.4 721.0 170.1C722.4 169.7 723.7 169.8 725.0 170.1C726.4 170.4 727.7 171.1 729.0 172.0C730.4 173.0 731.7 174.3 733.0 175.9C734.4 177.5 735.7 179.6 737.0 181.8C738.4 184.0 739.7 186.6 741.0 189.2C742.4 191.9 743.7 194.6 745.0 197.5C746.4 200.4 747.7 203.4 749.0 206.5C750.4 209.6 751.7 212.9 753.0 216.1C754.4 219.4 755.7 222.8 757.0 226.1C758.4 229.4 759.7 232.8 761.0 236.0C762.4 239.2 763.7 242.2 765.0 245.3C766.4 248.3 767.7 251.2 769.0 254.1C770.4 257.0 771.7 259.8 773.0 262.4C774.4 265.1 775.7 267.7 777.0 270.2C778.4 272.7 779.7 275.1 781.0 277.4C782.4 279.7 783.7 281.9 785.0 284.0C786.4 286.2 787.7 288.2 789.0 290.2C790.4 292.1 791.7 294.0 793.0 295.7C794.4 297.5 795.7 299.1 797.0 300.6C798.4 302.1 799.7 303.5 801.0 304.8C802.4 306.0 803.7 307.2 805.0 308.3C806.4 309.4 807.7 310.4 809.0 311.3C810.4 312.3 811.7 313.2 813.0 314.0C814.4 314.8 815.7 315.6 817.0 316.3C818.4 317.1 819.7 317.8 821.0 318.4C822.4 319.1 823.7 319.7 825.0 320.3C826.4 320.9 827.7 321.4 829.0 321.8C830.4 322.3 831.7 322.6 833.0 323.0C834.4 323.3 835.7 323.6 837.0 323.9C838.4 324.2 839.7 324.5 841.0 324.8C842.4 325.0 843.7 325.3 845.0 325.5C846.4 325.8 847.7 326.0 849.0 326.3C850.4 326.5 851.7 326.8 853.0 327.0C854.4 327.2 855.7 327.5 857.0 327.7C858.4 327.9 859.7 328.1 861.0 328.4C862.4 328.6 863.7 328.8 865.0 329.0C866.4 329.2 867.7 329.4 869.0 329.6C870.4 329.8 871.7 329.9 873.0 330.1C874.4 330.3 875.7 330.5 877.0 330.7C878.4 330.9 879.7 331.1 881.0 331.3C882.4 331.4 883.7 331.6 885.0 331.8C886.4 332.0 887.7 332.2 889.0 332.4C890.4 332.6 891.7 332.7 893.0 332.9C894.4 333.1 895.7 333.3 897.0 333.4C898.4 333.6 899.7 333.7 901.0 333.9C902.4 334.0 903.7 334.2 905.0 334.3C906.4 334.4 907.7 334.5 909.0 334.7C910.4 334.8 911.7 334.9 913.0 335.0C914.4 335.1 915.7 335.2 917.0 335.3C918.4 335.4 919.7 335.5 921.0 335.5C922.4 335.6 923.7 335.6 925.0 335.7C926.4 335.7 927.7 335.7 929.0 335.7C930.4 335.7 931.7 335.6 933.0 335.6C934.4 335.5 935.7 335.5 937.0 335.4C938.4 335.3 939.7 335.2 941.0 335.2C942.4 335.1 943.7 335.0 945.0 334.9C946.4 334.8 947.7 334.7 949.0 334.6C950.4 334.5 951.7 334.4 953.0 334.3C954.4 334.2 955.7 334.1 957.0 333.9C958.4 333.8 959.7 333.7 961.0 333.5C962.4 333.4 963.9 333.2 965.0 333.2C966.1 333.1 967.1 333.0 967.5 333.0" fill="none" stroke="#000" stroke-width="3.9" stroke-dasharray="15 4 7 4" stroke-linejoin="round"/>
<g>
<line x1="966.2" y1="105.8" x2="966.2" y2="522.6" stroke="#333" stroke-width="1.2"/>
<line x1="135.4" y1="105.8" x2="966.8" y2="105.8" stroke="#000" stroke-width="2.0"/>
<line x1="136.4" y1="105.8" x2="136.4" y2="523.6" stroke="#262626" stroke-width="2.0"/>
<line x1="135.4" y1="522.6" x2="966.8" y2="522.6" stroke="#262626" stroke-width="2.0"/>
<line x1="244.2" y1="522.6" x2="244.2" y2="513.6" stroke="#262626" stroke-width="1.5"/>
<line x1="244.2" y1="105.8" x2="244.2" y2="114.8" stroke="#000" stroke-width="1.5"/>
<text x="243.4" y="565.1" font-family="'Liberation Sans', sans-serif" font-size="34" text-anchor="middle" fill="#262626">2</text>
<text x="243.2" y="87.1" font-family="'Liberation Sans', sans-serif" font-size="34" text-anchor="middle" fill="#000" textLength="56.3" lengthAdjust="spacingAndGlyphs">620</text>
<line x1="416.5" y1="522.6" x2="416.5" y2="513.6" stroke="#262626" stroke-width="1.5"/>
<line x1="416.5" y1="105.8" x2="416.5" y2="114.8" stroke="#000" stroke-width="1.5"/>
<text x="415.7" y="565.1" font-family="'Liberation Sans', sans-serif" font-size="34" text-anchor="middle" fill="#262626">3</text>
<text x="415.5" y="87.1" font-family="'Liberation Sans', sans-serif" font-size="34" text-anchor="middle" fill="#000" textLength="56.3" lengthAdjust="spacingAndGlyphs">413</text>
<line x1="588.9" y1="522.6" x2="588.9" y2="513.6" stroke="#262626" stroke-width="1.5"/>
<line x1="588.9" y1="105.8" x2="588.9" y2="114.8" stroke="#000" stroke-width="1.5"/>
<text x="588.1" y="565.1" font-family="'Liberation Sans', sans-serif" font-size="34" text-anchor="middle" fill="#262626">4</text>
<text x="587.9" y="87.1" font-family="'Liberation Sans', sans-serif" font-size="34" text-anchor="middle" fill="#000" textLength="56.3" lengthAdjust="spacingAndGlyphs">310</text>
<line x1="761.2" y1="522.6" x2="761.2" y2="513.6" stroke="#262626" stroke-width="1.5"/>
<line x1="761.2" y1="105.8" x2="761.2" y2="114.8" stroke="#000" stroke-width="1.5"/>
<text x="760.5" y="565.1" font-family="'Liberation Sans', sans-serif" font-size="34" text-anchor="middle" fill="#262626">5</text>
<text x="760.2" y="87.1" font-family="'Liberation Sans', sans-serif" font-size="34" text-anchor="middle" fill="#000" textLength="56.3" lengthAdjust="spacingAndGlyphs">248</text>
<line x1="933.6" y1="522.6" x2="933.6" y2="513.6" stroke="#262626" stroke-width="1.5"/>
<line x1="933.6" y1="105.8" x2="933.6" y2="114.8" stroke="#000" stroke-width="1.5"/>
<text x="932.8" y="565.1" font-family="'Liberation Sans', sans-serif" font-size="34" text-anchor="middle" fill="#262626">6</text>
<text x="932.6" y="87.1" font-family="'Liberation Sans', sans-serif" font-size="34" text-anchor="middle" fill="#000" textLength="56.3" lengthAdjust="spacingAndGlyphs">207</text>
<text x="123.0" y="117.0" font-family="'Liberation Sans', sans-serif" font-size="34" text-anchor="end" fill="#262626">20</text>
<line x1="136.4" y1="228.0" x2="145.4" y2="228.0" stroke="#262626" stroke-width="1.5"/>
<text x="123.0" y="239.8" font-family="'Liberation Sans', sans-serif" font-size="34" text-anchor="end" fill="#262626">10</text>
<line x1="136.4" y1="350.8" x2="145.4" y2="350.8" stroke="#262626" stroke-width="1.5"/>
<text x="123.0" y="362.6" font-family="'Liberation Sans', sans-serif" font-size="34" text-anchor="end" fill="#262626">0</text>
<line x1="136.4" y1="473.6" x2="145.4" y2="473.6" stroke="#262626" stroke-width="1.5"/>
<text x="123.0" y="485.4" font-family="'Liberation Sans', sans-serif" font-size="34" text-anchor="end" fill="#262626">-10</text>
<text x="550.5" y="42.1" font-family="'Liberation Sans', sans-serif" font-size="36.5" text-anchor="middle" fill="#000" textLength="270.4" lengthAdjust="spacingAndGlyphs">Wavelength (nm)</text>
<text x="551.5" y="611.4" font-family="'Liberation Sans', sans-serif" font-size="36.5" text-anchor="middle" fill="#262626" textLength="180.0" lengthAdjust="spacingAndGlyphs">Energy (eV)</text>
</g>
<text font-family="'Liberation Sans', sans-serif" font-size="36.5" fill="#262626" transform="translate(57.8 314.5) rotate(-90)"><tspan x="-178.6" y="0.0" font-size="36.5" textLength="146.1" lengthAdjust="spacingAndGlyphs">Ellipticity</tspan><tspan font-size="1"> </tspan><tspan x="-22.2" y="0.0" font-size="36.5" textLength="102.2" lengthAdjust="spacingAndGlyphs">(mdeg</tspan><tspan font-size="1"> </tspan><tspan x="86.7" y="0.0" font-size="36.5" textLength="52.2" lengthAdjust="spacingAndGlyphs">nm</tspan><tspan x="139.7" y="-16.7" font-size="28" textLength="22.1" lengthAdjust="spacingAndGlyphs">-1</tspan><tspan x="167.0" y="0" font-size="36.5">)</tspan></text>
<line x1="783.8" y1="147.7" x2="839.8" y2="147.7" stroke="#0000ff" stroke-width="4.0" stroke-dasharray="15 15"/>
<text y="163.6" font-size="30" fill="#000" font-family="'Liberation Sans', sans-serif"><tspan x="845.0" font-family="'Liberation Serif', serif" font-style="italic" font-size="32">θ</tspan><tspan font-size="1"> </tspan><tspan x="868.7">=</tspan><tspan font-size="1"> </tspan><tspan x="895.7" textLength="31" lengthAdjust="spacingAndGlyphs">15</tspan><tspan x="928.8" font-size="24" dy="-13.5">o</tspan></text>
<line x1="783.8" y1="195.0" x2="839.8" y2="195.0" stroke="#ff0000" stroke-width="4.0"/>
<text y="210.6" font-size="30" fill="#000" font-family="'Liberation Sans', sans-serif"><tspan x="845.0" font-family="'Liberation Serif', serif" font-style="italic" font-size="32">θ</tspan><tspan font-size="1"> </tspan><tspan x="868.7">=</tspan><tspan font-size="1"> </tspan><tspan x="895.7" textLength="31" lengthAdjust="spacingAndGlyphs">45</tspan><tspan x="928.8" font-size="24" dy="-13.5">o</tspan></text>
<line x1="783.8" y1="242.4" x2="839.8" y2="242.4" stroke="#000" stroke-width="4.0" stroke-dasharray="15 4 7 4"/>
<text y="258.3" font-size="30" fill="#000" font-family="'Liberation Sans', sans-serif"><tspan x="845.0" font-family="'Liberation Serif', serif" font-style="italic" font-size="32">θ</tspan><tspan font-size="1"> </tspan><tspan x="868.7">=</tspan><tspan font-size="1"> </tspan><tspan x="895.7" textLength="31" lengthAdjust="spacingAndGlyphs">60</tspan><tspan x="928.8" font-size="24" dy="-13.5">o</tspan></text>
<text x="1009.0" y="44.8" font-family="'Liberation Serif', serif" font-size="64" text-anchor="start" fill="#000" font-weight="bold">b</text>
<path d="M1235.5 305.0Q1228.5 301.1 1235.0 296.6L1370.4 203.5Q1376.9 199.0 1384.0 202.8L1460.5 244.6Q1467.5 248.5 1460.9 253.0L1325.6 346.1Q1319.0 350.6 1312.0 346.8Z" transform="translate(0 3.4)" fill="#6e6e6e"/>
<path d="M1235.5 305.0Q1228.5 301.1 1235.0 296.6L1370.4 203.5Q1376.9 199.0 1384.0 202.8L1460.5 244.6Q1467.5 248.5 1460.9 253.0L1325.6 346.1Q1319.0 350.6 1312.0 346.8Z" fill="#868686" opacity="1"/>
<path d="M1235.5 305.0Q1228.5 301.1 1235.0 296.6L1370.4 203.5Q1376.9 199.0 1384.0 202.8L1460.5 244.6Q1467.5 248.5 1460.9 253.0L1325.6 346.1Q1319.0 350.6 1312.0 346.8Z" fill="url(#shade)" opacity="0.06"/>
<mask id="m3" maskUnits="userSpaceOnUse" x="1165.9" y="64.8" width="420.0" height="420.0"><rect x="1165.9" y="64.8" width="420.0" height="420.0" fill="#fff"/><path d="M1249.7 247.3Q1246.4 240.1 1253.9 237.3L1429.4 174.3Q1437.0 171.6 1440.3 178.9L1462.1 226.5Q1465.4 233.7 1457.9 236.4L1282.3 299.5Q1274.8 302.2 1271.5 294.9Z" fill="#333"/><path d="M1258.9 171.5Q1258.4 162.5 1267.3 161.8L1449.7 146.0Q1458.7 145.3 1459.0 154.3L1461.5 217.4Q1461.8 226.4 1452.9 227.1L1271.8 243.1Q1262.8 243.8 1262.3 234.9Z" fill="#333"/></mask>
<g fill="#a6b0c4" stroke="#474d60" stroke-width="1.0" opacity="1.0" mask="url(#m3)"><ellipse cx="1375.9" cy="274.8" rx="11.8" ry="2.9" transform="rotate(-34.3 1375.9 274.8)"/><ellipse cx="1357.4" cy="287.4" rx="11.8" ry="2.9" transform="rotate(-34.3 1357.4 287.4)"/><ellipse cx="1338.8" cy="300.1" rx="11.8" ry="2.9" transform="rotate(-34.3 1338.8 300.1)"/><ellipse cx="1320.3" cy="312.7" rx="11.8" ry="2.9" transform="rotate(-34.3 1320.3 312.7)"/><ellipse cx="1365.4" cy="270.6" rx="11.8" ry="2.9" transform="rotate(-34.3 1365.4 270.6)"/><ellipse cx="1346.8" cy="283.2" rx="11.8" ry="2.9" transform="rotate(-34.3 1346.8 283.2)"/><ellipse cx="1328.3" cy="295.9" rx="11.8" ry="2.9" transform="rotate(-34.3 1328.3 295.9)"/><ellipse cx="1309.8" cy="308.5" rx="11.8" ry="2.9" transform="rotate(-34.3 1309.8 308.5)"/><ellipse cx="1354.8" cy="266.4" rx="11.8" ry="2.9" transform="rotate(-34.3 1354.8 266.4)"/><ellipse cx="1336.3" cy="279.0" rx="11.8" ry="2.9" transform="rotate(-34.3 1336.3 279.0)"/><ellipse cx="1317.8" cy="291.7" rx="11.8" ry="2.9" transform="rotate(-34.3 1317.8 291.7)"/><ellipse cx="1299.2" cy="304.3" rx="11.8" ry="2.9" transform="rotate(-34.3 1299.2 304.3)"/><ellipse cx="1344.3" cy="262.2" rx="11.8" ry="2.9" transform="rotate(-34.3 1344.3 262.2)"/><ellipse cx="1325.8" cy="274.8" rx="11.8" ry="2.9" transform="rotate(-34.3 1325.8 274.8)"/><ellipse cx="1307.2" cy="287.4" rx="11.8" ry="2.9" transform="rotate(-34.3 1307.2 287.4)"/><ellipse cx="1288.7" cy="300.1" rx="11.8" ry="2.9" transform="rotate(-34.3 1288.7 300.1)"/><ellipse cx="1333.8" cy="258.0" rx="11.8" ry="2.9" transform="rotate(-34.3 1333.8 258.0)"/><ellipse cx="1315.2" cy="270.6" rx="11.8" ry="2.9" transform="rotate(-34.3 1315.2 270.6)"/><ellipse cx="1296.7" cy="283.2" rx="11.8" ry="2.9" transform="rotate(-34.3 1296.7 283.2)"/><ellipse cx="1278.2" cy="295.9" rx="11.8" ry="2.9" transform="rotate(-34.3 1278.2 295.9)"/><ellipse cx="1323.2" cy="253.7" rx="11.8" ry="2.9" transform="rotate(-34.3 1323.2 253.7)"/><ellipse cx="1304.7" cy="266.4" rx="11.8" ry="2.9" transform="rotate(-34.3 1304.7 266.4)"/><ellipse cx="1286.2" cy="279.0" rx="11.8" ry="2.9" transform="rotate(-34.3 1286.2 279.0)"/><ellipse cx="1267.6" cy="291.7" rx="11.8" ry="2.9" transform="rotate(-34.3 1267.6 291.7)"/></g>
<mask id="m4" maskUnits="userSpaceOnUse" x="1238.4" y="163.6" width="235.0" height="146.6"><rect x="1238.4" y="163.6" width="235.0" height="146.6" fill="#fff"/><path d="M1249.7 247.3Q1246.4 240.1 1253.9 237.3L1429.4 174.3Q1437.0 171.6 1440.3 178.9L1462.1 226.5Q1465.4 233.7 1457.9 236.4L1282.3 299.5Q1274.8 302.2 1271.5 294.9Z" fill="#000" transform="translate(0 -0.8)"/></mask>
<g mask="url(#m4)"><path d="M1249.7 247.3Q1246.4 240.1 1253.9 237.3L1429.4 174.3Q1437.0 171.6 1440.3 178.9L1462.1 226.5Q1465.4 233.7 1457.9 236.4L1282.3 299.5Q1274.8 302.2 1271.5 294.9Z" transform="translate(0 3.0)" fill="#707070" opacity="1"/></g>
<path d="M1249.7 247.3Q1246.4 240.1 1253.9 237.3L1429.4 174.3Q1437.0 171.6 1440.3 178.9L1462.1 226.5Q1465.4 233.7 1457.9 236.4L1282.3 299.5Q1274.8 302.2 1271.5 294.9Z" fill="#8c8c8c" opacity="0.9"/>
<path d="M1249.7 247.3Q1246.4 240.1 1253.9 237.3L1429.4 174.3Q1437.0 171.6 1440.3 178.9L1462.1 226.5Q1465.4 233.7 1457.9 236.4L1282.3 299.5Q1274.8 302.2 1271.5 294.9Z" fill="url(#shine)" opacity="0.05"/>
<mask id="m5" maskUnits="userSpaceOnUse" x="1074.3" y="32.2" width="420.0" height="420.0"><rect x="1074.3" y="32.2" width="420.0" height="420.0" fill="#fff"/><path d="M1258.9 171.5Q1258.4 162.5 1267.3 161.8L1449.7 146.0Q1458.7 145.3 1459.0 154.3L1461.5 217.4Q1461.8 226.4 1452.9 227.1L1271.8 243.1Q1262.8 243.8 1262.3 234.9Z" fill="#333"/></mask>
<g fill="#a6b0c4" stroke="#474d60" stroke-width="1.0" opacity="1.0" mask="url(#m5)"><ellipse cx="1284.3" cy="242.2" rx="12.2" ry="2.9" transform="rotate(-18.3 1284.3 242.2)"/><ellipse cx="1308.5" cy="234.2" rx="12.2" ry="2.9" transform="rotate(-18.3 1308.5 234.2)"/><ellipse cx="1332.7" cy="226.1" rx="12.2" ry="2.9" transform="rotate(-18.3 1332.7 226.1)"/><ellipse cx="1356.9" cy="218.1" rx="12.2" ry="2.9" transform="rotate(-18.3 1356.9 218.1)"/><ellipse cx="1286.8" cy="249.1" rx="12.2" ry="2.9" transform="rotate(-18.3 1286.8 249.1)"/><ellipse cx="1311.0" cy="241.1" rx="12.2" ry="2.9" transform="rotate(-18.3 1311.0 241.1)"/><ellipse cx="1335.2" cy="233.1" rx="12.2" ry="2.9" transform="rotate(-18.3 1335.2 233.1)"/><ellipse cx="1359.5" cy="225.1" rx="12.2" ry="2.9" transform="rotate(-18.3 1359.5 225.1)"/><ellipse cx="1289.3" cy="256.1" rx="12.2" ry="2.9" transform="rotate(-18.3 1289.3 256.1)"/><ellipse cx="1313.5" cy="248.1" rx="12.2" ry="2.9" transform="rotate(-18.3 1313.5 248.1)"/><ellipse cx="1337.8" cy="240.1" rx="12.2" ry="2.9" transform="rotate(-18.3 1337.8 240.1)"/><ellipse cx="1362.0" cy="232.0" rx="12.2" ry="2.9" transform="rotate(-18.3 1362.0 232.0)"/><ellipse cx="1291.9" cy="263.0" rx="12.2" ry="2.9" transform="rotate(-18.3 1291.9 263.0)"/><ellipse cx="1316.1" cy="255.0" rx="12.2" ry="2.9" transform="rotate(-18.3 1316.1 255.0)"/><ellipse cx="1340.3" cy="247.0" rx="12.2" ry="2.9" transform="rotate(-18.3 1340.3 247.0)"/><ellipse cx="1364.5" cy="239.0" rx="12.2" ry="2.9" transform="rotate(-18.3 1364.5 239.0)"/><ellipse cx="1294.4" cy="270.0" rx="12.2" ry="2.9" transform="rotate(-18.3 1294.4 270.0)"/><ellipse cx="1318.6" cy="262.0" rx="12.2" ry="2.9" transform="rotate(-18.3 1318.6 262.0)"/><ellipse cx="1342.8" cy="254.0" rx="12.2" ry="2.9" transform="rotate(-18.3 1342.8 254.0)"/><ellipse cx="1367.0" cy="245.9" rx="12.2" ry="2.9" transform="rotate(-18.3 1367.0 245.9)"/><ellipse cx="1296.9" cy="276.9" rx="12.2" ry="2.9" transform="rotate(-18.3 1296.9 276.9)"/><ellipse cx="1321.1" cy="268.9" rx="12.2" ry="2.9" transform="rotate(-18.3 1321.1 268.9)"/><ellipse cx="1345.3" cy="260.9" rx="12.2" ry="2.9" transform="rotate(-18.3 1345.3 260.9)"/><ellipse cx="1369.6" cy="252.9" rx="12.2" ry="2.9" transform="rotate(-18.3 1369.6 252.9)"/></g>
<mask id="m6" maskUnits="userSpaceOnUse" x="1250.4" y="137.3" width="219.5" height="114.6"><rect x="1250.4" y="137.3" width="219.5" height="114.6" fill="#fff"/><path d="M1258.9 171.5Q1258.4 162.5 1267.3 161.8L1449.7 146.0Q1458.7 145.3 1459.0 154.3L1461.5 217.4Q1461.8 226.4 1452.9 227.1L1271.8 243.1Q1262.8 243.8 1262.3 234.9Z" fill="#000" transform="translate(0 -0.8)"/></mask>
<g mask="url(#m6)"><path d="M1258.9 171.5Q1258.4 162.5 1267.3 161.8L1449.7 146.0Q1458.7 145.3 1459.0 154.3L1461.5 217.4Q1461.8 226.4 1452.9 227.1L1271.8 243.1Q1262.8 243.8 1262.3 234.9Z" transform="translate(0 3.0)" fill="#707070" opacity="1"/></g>
<path d="M1258.9 171.5Q1258.4 162.5 1267.3 161.8L1449.7 146.0Q1458.7 145.3 1459.0 154.3L1461.5 217.4Q1461.8 226.4 1452.9 227.1L1271.8 243.1Q1262.8 243.8 1262.3 234.9Z" fill="#8c8c8c" opacity="0.9"/>
<path d="M1258.9 171.5Q1258.4 162.5 1267.3 161.8L1449.7 146.0Q1458.7 145.3 1459.0 154.3L1461.5 217.4Q1461.8 226.4 1452.9 227.1L1271.8 243.1Q1262.8 243.8 1262.3 234.9Z" fill="url(#shine)" opacity="0.05"/>
<g fill="#a6b0c4" stroke="#474d60" stroke-width="1.0" opacity="1.0"><ellipse cx="1291.6" cy="181.5" rx="12.4" ry="2.9" transform="rotate(-3.4 1291.6 181.5)"/><ellipse cx="1316.5" cy="180.0" rx="12.4" ry="2.9" transform="rotate(-3.4 1316.5 180.0)"/><ellipse cx="1341.3" cy="178.6" rx="12.4" ry="2.9" transform="rotate(-3.4 1341.3 178.6)"/><ellipse cx="1366.2" cy="177.1" rx="12.4" ry="2.9" transform="rotate(-3.4 1366.2 177.1)"/><ellipse cx="1292.3" cy="188.9" rx="12.4" ry="2.9" transform="rotate(-3.4 1292.3 188.9)"/><ellipse cx="1317.1" cy="187.4" rx="12.4" ry="2.9" transform="rotate(-3.4 1317.1 187.4)"/><ellipse cx="1342.0" cy="185.9" rx="12.4" ry="2.9" transform="rotate(-3.4 1342.0 185.9)"/><ellipse cx="1366.8" cy="184.4" rx="12.4" ry="2.9" transform="rotate(-3.4 1366.8 184.4)"/><ellipse cx="1292.9" cy="196.2" rx="12.4" ry="2.9" transform="rotate(-3.4 1292.9 196.2)"/><ellipse cx="1317.8" cy="194.8" rx="12.4" ry="2.9" transform="rotate(-3.4 1317.8 194.8)"/><ellipse cx="1342.6" cy="193.3" rx="12.4" ry="2.9" transform="rotate(-3.4 1342.6 193.3)"/><ellipse cx="1367.5" cy="191.8" rx="12.4" ry="2.9" transform="rotate(-3.4 1367.5 191.8)"/><ellipse cx="1293.5" cy="203.6" rx="12.4" ry="2.9" transform="rotate(-3.4 1293.5 203.6)"/><ellipse cx="1318.4" cy="202.1" rx="12.4" ry="2.9" transform="rotate(-3.4 1318.4 202.1)"/><ellipse cx="1343.2" cy="200.7" rx="12.4" ry="2.9" transform="rotate(-3.4 1343.2 200.7)"/><ellipse cx="1368.1" cy="199.2" rx="12.4" ry="2.9" transform="rotate(-3.4 1368.1 199.2)"/><ellipse cx="1294.2" cy="211.0" rx="12.4" ry="2.9" transform="rotate(-3.4 1294.2 211.0)"/><ellipse cx="1319.0" cy="209.5" rx="12.4" ry="2.9" transform="rotate(-3.4 1319.0 209.5)"/><ellipse cx="1343.9" cy="208.0" rx="12.4" ry="2.9" transform="rotate(-3.4 1343.9 208.0)"/><ellipse cx="1368.7" cy="206.6" rx="12.4" ry="2.9" transform="rotate(-3.4 1368.7 206.6)"/><ellipse cx="1294.8" cy="218.4" rx="12.4" ry="2.9" transform="rotate(-3.4 1294.8 218.4)"/><ellipse cx="1319.7" cy="216.9" rx="12.4" ry="2.9" transform="rotate(-3.4 1319.7 216.9)"/><ellipse cx="1344.5" cy="215.4" rx="12.4" ry="2.9" transform="rotate(-3.4 1344.5 215.4)"/><ellipse cx="1369.4" cy="213.9" rx="12.4" ry="2.9" transform="rotate(-3.4 1369.4 213.9)"/></g>
<line x1="1455.9" y1="224.3" x2="1552.8" y2="214.8" stroke="#111" stroke-width="1.7" stroke-dasharray="6 3.2"/>
<line x1="1455.9" y1="236.9" x2="1542.3" y2="206.4" stroke="#111" stroke-width="1.7" stroke-dasharray="6 3.2"/>
<line x1="1464.3" y1="246.4" x2="1533.9" y2="201.1" stroke="#111" stroke-width="1.7" stroke-dasharray="6 3.2"/>
<path d="M1243.2 232.7 C1229.9 232.7 1222.3 225.7 1226.1 218.1 C1228.7 211.8 1235.0 206.8 1240.7 204.5" fill="none" stroke="#000" stroke-width="3.2"/>
<path d="M1250.6 201.2 L1237.5 201.4 L1242.2 210.8 Z" fill="#000"/>
<path d="M1228.5 283.3 C1215.2 283.3 1207.6 276.3 1211.4 268.7 C1213.9 262.4 1220.3 257.3 1226.0 255.0" fill="none" stroke="#000" stroke-width="3.2"/>
<path d="M1235.8 251.7 L1222.8 252.0 L1227.5 261.4 Z" fill="#000"/>
<text x="1195.5" y="232.7" font-family="'Liberation Serif', serif" font-size="37" text-anchor="start" fill="#000" font-style="italic">θ</text>
<text x="1180.5" y="293.8" font-family="'Liberation Serif', serif" font-size="37" text-anchor="start" fill="#000" font-style="italic">θ</text>
<path d="M1137.0 386.9C1137.7 386.9 1139.7 387.1 1141.0 387.2C1142.4 387.4 1143.7 387.5 1145.0 387.7C1146.4 387.8 1147.7 388.0 1149.0 388.2C1150.4 388.3 1151.7 388.5 1153.0 388.7C1154.4 388.8 1155.7 389.0 1157.0 389.3C1158.4 389.5 1159.7 389.7 1161.0 390.1C1162.4 390.4 1163.7 390.8 1165.0 391.3C1166.4 391.8 1167.7 392.3 1169.0 392.9C1170.4 393.4 1171.7 394.0 1173.0 394.5C1174.4 395.1 1175.7 395.6 1177.0 396.1C1178.4 396.6 1179.7 397.2 1181.0 397.7C1182.4 398.2 1183.7 398.7 1185.0 399.2C1186.4 399.6 1187.7 400.0 1189.0 400.4C1190.4 400.7 1191.7 401.0 1193.0 401.1C1194.4 401.2 1195.7 401.3 1197.0 401.2C1198.4 401.2 1199.7 401.0 1201.0 400.8C1202.4 400.6 1203.7 400.3 1205.0 400.1C1206.4 399.8 1207.7 399.5 1209.0 399.2C1210.4 399.0 1211.7 398.7 1213.0 398.4C1214.4 398.2 1215.7 398.0 1217.0 397.8C1218.4 397.6 1219.7 397.4 1221.0 397.2C1222.4 397.0 1223.7 396.9 1225.0 396.7C1226.4 396.6 1227.7 396.4 1229.0 396.3C1230.4 396.2 1231.7 396.1 1233.0 396.1C1234.4 396.0 1235.7 395.9 1237.0 395.9C1238.4 395.9 1239.7 395.9 1241.0 396.0C1242.4 396.1 1243.7 396.2 1245.0 396.4C1246.4 396.5 1247.7 396.8 1249.0 397.0C1250.4 397.3 1251.7 397.6 1253.0 397.9C1254.4 398.2 1255.7 398.6 1257.0 398.9C1258.4 399.2 1259.7 399.4 1261.0 399.7C1262.4 400.0 1263.7 400.2 1265.0 400.5C1266.4 400.8 1267.7 401.0 1269.0 401.3C1270.4 401.7 1271.7 402.0 1273.0 402.4C1274.4 402.8 1275.7 403.3 1277.0 403.7C1278.4 404.0 1279.7 404.4 1281.0 404.6C1282.4 404.8 1283.7 404.9 1285.0 405.1C1286.4 405.2 1287.7 405.2 1289.0 405.3C1290.4 405.4 1291.7 405.6 1293.0 405.8C1294.4 406.0 1295.7 406.3 1297.0 406.5C1298.4 406.8 1299.7 407.2 1301.0 407.5C1302.4 407.7 1303.7 408.0 1305.0 408.3C1306.4 408.6 1307.7 408.8 1309.0 409.0C1310.4 409.2 1311.7 409.4 1313.0 409.6C1314.4 409.9 1315.7 410.1 1317.0 410.4C1318.4 410.7 1319.7 411.0 1321.0 411.4C1322.4 411.7 1323.7 412.2 1325.0 412.6C1326.4 412.9 1327.7 413.3 1329.0 413.5C1330.4 413.7 1331.7 413.8 1333.0 413.8C1334.4 413.8 1335.7 413.6 1337.0 413.5C1338.4 413.4 1339.7 413.2 1341.0 413.1C1342.4 413.0 1343.7 412.9 1345.0 413.0C1346.4 413.0 1347.7 413.1 1349.0 413.3C1350.4 413.4 1351.7 413.7 1353.0 413.8C1354.4 414.0 1355.7 414.1 1357.0 414.2C1358.4 414.2 1359.7 414.2 1361.0 414.2C1362.4 414.2 1363.7 414.1 1365.0 414.1C1366.4 414.2 1367.7 414.2 1369.0 414.4C1370.4 414.6 1371.7 414.9 1373.0 415.2C1374.4 415.5 1375.7 415.9 1377.0 416.2C1378.4 416.6 1379.7 417.0 1381.0 417.3C1382.4 417.7 1383.7 418.0 1385.0 418.4C1386.4 418.7 1387.7 419.1 1389.0 419.4C1390.4 419.8 1391.7 420.1 1393.0 420.5C1394.4 420.8 1395.7 421.1 1397.0 421.4C1398.4 421.7 1399.7 422.0 1401.0 422.3C1402.4 422.5 1403.7 422.7 1405.0 422.9C1406.4 423.0 1407.7 423.2 1409.0 423.3C1410.4 423.4 1411.7 423.5 1413.0 423.7C1414.4 423.9 1415.7 424.1 1417.0 424.4C1418.4 424.7 1419.7 425.1 1421.0 425.5C1422.4 425.9 1423.7 426.4 1425.0 426.8C1426.4 427.3 1427.7 427.7 1429.0 428.1C1430.4 428.5 1431.7 428.9 1433.0 429.2C1434.4 429.5 1435.7 429.8 1437.0 430.1C1438.4 430.4 1439.7 430.7 1441.0 430.9C1442.4 431.2 1443.7 431.5 1445.0 431.8C1446.4 432.1 1447.7 432.5 1449.0 432.8C1450.4 433.2 1451.7 433.6 1453.0 434.0C1454.4 434.4 1455.7 434.8 1457.0 435.3C1458.4 435.8 1459.7 436.3 1461.0 436.8C1462.4 437.2 1463.7 437.7 1465.0 438.2C1466.4 438.7 1467.7 439.2 1469.0 439.6C1470.4 440.1 1471.7 440.5 1473.0 440.8C1474.4 441.2 1475.7 441.4 1477.0 441.7C1478.4 442.1 1479.7 442.3 1481.0 442.7C1482.4 443.1 1483.7 443.5 1485.0 444.0C1486.4 444.5 1487.7 445.0 1489.0 445.6C1490.4 446.2 1491.7 446.8 1493.0 447.4C1494.4 448.0 1495.7 448.6 1497.0 449.3C1498.4 449.9 1499.7 450.6 1501.0 451.2C1502.4 451.9 1503.7 452.5 1505.0 453.1C1506.4 453.8 1507.7 454.4 1509.0 455.1C1510.4 455.7 1511.7 456.4 1513.0 457.0C1514.4 457.6 1515.7 458.3 1517.0 458.9C1518.4 459.5 1519.7 460.1 1521.0 460.7C1522.4 461.3 1523.7 461.8 1525.0 462.4C1526.4 462.9 1527.7 463.4 1529.0 463.9C1530.4 464.3 1531.7 464.8 1533.0 465.2C1534.4 465.6 1535.7 466.0 1537.0 466.4C1538.4 466.8 1539.7 467.2 1541.0 467.6C1542.4 468.0 1543.7 468.4 1545.0 468.9C1546.4 469.3 1547.7 469.8 1549.0 470.3C1550.4 470.8 1551.7 471.4 1553.0 471.9C1554.4 472.5 1555.7 473.1 1557.0 473.6C1558.4 474.2 1559.7 474.8 1561.0 475.3C1562.4 475.9 1563.7 476.5 1565.0 477.0C1566.4 477.5 1567.7 478.0 1569.0 478.4C1570.4 478.9 1571.7 479.3 1573.0 479.6C1574.4 480.0 1575.7 480.3 1577.0 480.6C1578.4 480.8 1579.7 481.1 1581.0 481.3C1582.4 481.5 1583.7 481.7 1585.0 481.9C1586.4 482.0 1587.7 482.1 1589.0 482.2C1590.4 482.3 1591.7 482.4 1593.0 482.4C1594.4 482.4 1595.7 482.4 1597.0 482.2C1598.4 482.0 1599.7 481.7 1601.0 481.4C1602.4 481.1 1603.7 480.6 1605.0 480.2C1606.4 479.7 1607.7 479.2 1609.0 478.5C1610.4 477.9 1611.7 477.2 1613.0 476.3C1614.4 475.5 1615.7 474.5 1617.0 473.3C1618.4 472.0 1619.7 470.6 1621.0 469.1C1622.4 467.5 1623.7 465.8 1625.0 463.8C1626.4 461.9 1627.7 459.8 1629.0 457.5C1630.4 455.2 1631.7 452.6 1633.0 449.8C1634.4 447.1 1635.7 444.0 1637.0 440.8C1638.4 437.6 1639.7 434.3 1641.0 430.7C1642.4 427.0 1643.7 423.2 1645.0 419.0C1646.4 414.8 1647.7 410.3 1649.0 405.6C1650.4 400.8 1651.7 395.7 1653.0 390.5C1654.4 385.3 1655.7 379.9 1657.0 374.4C1658.4 368.9 1659.7 363.3 1661.0 357.6C1662.4 351.9 1663.7 346.1 1665.0 340.2C1666.4 334.3 1667.7 328.3 1669.0 322.3C1670.4 316.3 1671.7 310.3 1673.0 304.3C1674.4 298.4 1675.7 292.4 1677.0 286.7C1678.4 280.9 1679.7 275.1 1681.0 269.6C1682.4 264.1 1683.7 258.7 1685.0 253.6C1686.4 248.5 1687.7 243.6 1689.0 239.0C1690.4 234.4 1691.7 230.1 1693.0 226.1C1694.4 222.2 1695.7 218.7 1697.0 215.6C1698.4 212.4 1699.7 209.6 1701.0 207.1C1702.4 204.6 1703.7 202.5 1705.0 200.6C1706.4 198.8 1707.7 197.3 1709.0 196.0C1710.4 194.7 1711.7 193.5 1713.0 192.7C1714.4 191.9 1715.7 191.3 1717.0 191.1C1718.4 190.9 1719.7 191.1 1721.0 191.5C1722.4 192.0 1723.7 192.6 1725.0 193.6C1726.4 194.7 1727.7 195.9 1729.0 197.6C1730.4 199.2 1731.7 201.4 1733.0 203.6C1734.4 205.9 1735.7 208.5 1737.0 211.1C1738.4 213.8 1739.7 216.5 1741.0 219.4C1742.4 222.3 1743.7 225.3 1745.0 228.5C1746.4 231.7 1747.7 235.1 1749.0 238.5C1750.4 242.0 1751.7 245.8 1753.0 249.5C1754.4 253.1 1755.7 256.9 1757.0 260.4C1758.4 264.0 1759.7 267.5 1761.0 270.9C1762.4 274.3 1763.7 277.5 1765.0 280.6C1766.4 283.7 1767.7 286.7 1769.0 289.5C1770.4 292.3 1771.7 295.0 1773.0 297.7C1774.4 300.3 1775.7 302.8 1777.0 305.3C1778.4 307.8 1779.7 310.1 1781.0 312.4C1782.4 314.7 1783.7 316.9 1785.0 319.0C1786.4 321.1 1787.7 323.0 1789.0 324.9C1790.4 326.8 1791.7 328.5 1793.0 330.1C1794.4 331.7 1795.7 333.2 1797.0 334.6C1798.4 336.0 1799.7 337.3 1801.0 338.5C1802.4 339.8 1803.7 340.9 1805.0 341.9C1806.4 343.0 1807.7 343.9 1809.0 344.8C1810.4 345.7 1811.7 346.5 1813.0 347.2C1814.4 347.9 1815.7 348.6 1817.0 349.2C1818.4 349.9 1819.7 350.5 1821.0 351.0C1822.4 351.6 1823.7 352.1 1825.0 352.5C1826.4 353.0 1827.7 353.4 1829.0 353.8C1830.4 354.2 1831.7 354.5 1833.0 354.8C1834.4 355.1 1835.7 355.3 1837.0 355.6C1838.4 355.8 1839.7 356.0 1841.0 356.3C1842.4 356.5 1843.7 356.7 1845.0 356.9C1846.4 357.1 1847.7 357.2 1849.0 357.4C1850.4 357.6 1851.7 357.8 1853.0 358.0C1854.4 358.2 1855.7 358.4 1857.0 358.6C1858.4 358.8 1859.7 359.0 1861.0 359.2C1862.4 359.3 1863.7 359.5 1865.0 359.7C1866.4 359.9 1867.7 360.0 1869.0 360.2C1870.4 360.4 1871.7 360.5 1873.0 360.7C1874.4 360.8 1875.7 361.0 1877.0 361.1C1878.4 361.3 1879.7 361.5 1881.0 361.6C1882.4 361.8 1883.7 361.9 1885.0 362.1C1886.4 362.2 1887.7 362.3 1889.0 362.5C1890.4 362.6 1891.7 362.7 1893.0 362.9C1894.4 363.0 1895.7 363.1 1897.0 363.2C1898.4 363.3 1899.7 363.4 1901.0 363.5C1902.4 363.6 1903.7 363.7 1905.0 363.8C1906.4 363.9 1907.7 364.0 1909.0 364.0C1910.4 364.1 1911.7 364.2 1913.0 364.2C1914.4 364.3 1915.7 364.3 1917.0 364.3C1918.4 364.4 1919.7 364.4 1921.0 364.4C1922.4 364.4 1923.7 364.5 1925.0 364.4C1926.4 364.4 1927.7 364.4 1929.0 364.4C1930.4 364.4 1931.7 364.4 1933.0 364.3C1934.4 364.3 1935.7 364.2 1937.0 364.2C1938.4 364.1 1939.7 364.0 1941.0 364.0C1942.4 363.9 1943.7 363.8 1945.0 363.7C1946.4 363.6 1947.7 363.5 1949.0 363.4C1950.4 363.3 1951.7 363.1 1953.0 363.0C1954.4 362.8 1955.7 362.6 1957.0 362.4C1958.4 362.3 1959.7 362.0 1961.0 361.8C1962.4 361.7 1964.3 361.4 1965.0 361.4C1965.8 361.3 1965.4 361.3 1965.5 361.3" fill="none" stroke="#0000ff" stroke-width="3.9" stroke-dasharray="15 4 7 4" stroke-linejoin="round"/>
<path d="M1137.0 387.3C1137.7 387.3 1139.7 387.4 1141.0 387.5C1142.4 387.6 1143.7 387.8 1145.0 387.9C1146.4 388.0 1147.7 388.1 1149.0 388.3C1150.4 388.4 1151.7 388.5 1153.0 388.7C1154.4 388.9 1155.7 389.0 1157.0 389.3C1158.4 389.5 1159.7 389.7 1161.0 390.1C1162.4 390.5 1163.7 390.9 1165.0 391.5C1166.4 392.1 1167.7 392.8 1169.0 393.5C1170.4 394.2 1171.7 395.0 1173.0 395.7C1174.4 396.5 1175.7 397.3 1177.0 398.1C1178.4 398.9 1179.7 399.8 1181.0 400.5C1182.4 401.3 1183.7 402.0 1185.0 402.6C1186.4 403.2 1187.7 403.6 1189.0 404.0C1190.4 404.3 1191.7 404.5 1193.0 404.6C1194.4 404.8 1195.7 404.7 1197.0 404.6C1198.4 404.5 1199.7 404.3 1201.0 404.0C1202.4 403.7 1203.7 403.3 1205.0 402.9C1206.4 402.6 1207.7 402.1 1209.0 401.7C1210.4 401.3 1211.7 400.9 1213.0 400.6C1214.4 400.2 1215.7 399.9 1217.0 399.6C1218.4 399.4 1219.7 399.1 1221.0 398.9C1222.4 398.7 1223.7 398.4 1225.0 398.3C1226.4 398.1 1227.7 397.9 1229.0 397.8C1230.4 397.6 1231.7 397.5 1233.0 397.4C1234.4 397.3 1235.7 397.3 1237.0 397.2C1238.4 397.2 1239.7 397.2 1241.0 397.3C1242.4 397.4 1243.7 397.6 1245.0 397.8C1246.4 398.0 1247.7 398.4 1249.0 398.7C1250.4 399.1 1251.7 399.5 1253.0 399.9C1254.4 400.3 1255.7 400.8 1257.0 401.2C1258.4 401.6 1259.7 401.9 1261.0 402.3C1262.4 402.7 1263.7 403.0 1265.0 403.4C1266.4 403.7 1267.7 404.1 1269.0 404.5C1270.4 404.9 1271.7 405.3 1273.0 405.8C1274.4 406.2 1275.7 406.8 1277.0 407.2C1278.4 407.6 1279.7 407.9 1281.0 408.2C1282.4 408.4 1283.7 408.4 1285.0 408.4C1286.4 408.5 1287.7 408.4 1289.0 408.5C1290.4 408.5 1291.7 408.6 1293.0 408.9C1294.4 409.1 1295.7 409.5 1297.0 409.9C1298.4 410.3 1299.7 410.7 1301.0 411.2C1302.4 411.6 1303.7 412.0 1305.0 412.3C1306.4 412.6 1307.7 412.9 1309.0 413.1C1310.4 413.4 1311.7 413.6 1313.0 413.9C1314.4 414.2 1315.7 414.5 1317.0 414.9C1318.4 415.3 1319.7 415.9 1321.0 416.4C1322.4 416.9 1323.7 417.5 1325.0 418.0C1326.4 418.5 1327.7 419.0 1329.0 419.2C1330.4 419.4 1331.7 419.5 1333.0 419.4C1334.4 419.3 1335.7 418.8 1337.0 418.5C1338.4 418.3 1339.7 417.8 1341.0 417.6C1342.4 417.5 1343.7 417.5 1345.0 417.6C1346.4 417.7 1347.7 418.1 1349.0 418.3C1350.4 418.5 1351.7 418.9 1353.0 419.0C1354.4 419.1 1355.7 419.1 1357.0 419.0C1358.4 418.9 1359.7 418.6 1361.0 418.4C1362.4 418.2 1363.7 418.0 1365.0 418.0C1366.4 418.0 1367.7 418.1 1369.0 418.4C1370.4 418.6 1371.7 419.0 1373.0 419.4C1374.4 419.8 1375.7 420.3 1377.0 420.7C1378.4 421.1 1379.7 421.5 1381.0 421.9C1382.4 422.3 1383.7 422.7 1385.0 423.1C1386.4 423.5 1387.7 423.9 1389.0 424.2C1390.4 424.6 1391.7 425.0 1393.0 425.4C1394.4 425.7 1395.7 426.1 1397.0 426.4C1398.4 426.7 1399.7 427.0 1401.0 427.3C1402.4 427.5 1403.7 427.7 1405.0 427.9C1406.4 428.1 1407.7 428.2 1409.0 428.3C1410.4 428.4 1411.7 428.5 1413.0 428.7C1414.4 428.9 1415.7 429.1 1417.0 429.4C1418.4 429.8 1419.7 430.2 1421.0 430.6C1422.4 431.1 1423.7 431.7 1425.0 432.2C1426.4 432.7 1427.7 433.2 1429.0 433.6C1430.4 434.1 1431.7 434.5 1433.0 434.9C1434.4 435.2 1435.7 435.5 1437.0 435.8C1438.4 436.1 1439.7 436.4 1441.0 436.7C1442.4 437.1 1443.7 437.4 1445.0 437.7C1446.4 438.0 1447.7 438.4 1449.0 438.8C1450.4 439.2 1451.7 439.6 1453.0 440.1C1454.4 440.6 1455.7 441.1 1457.0 441.6C1458.4 442.1 1459.7 442.7 1461.0 443.3C1462.4 443.8 1463.7 444.4 1465.0 445.0C1466.4 445.5 1467.7 446.1 1469.0 446.6C1470.4 447.1 1471.7 447.5 1473.0 447.9C1474.4 448.3 1475.7 448.6 1477.0 448.9C1478.4 449.2 1479.7 449.5 1481.0 449.9C1482.4 450.3 1483.7 450.7 1485.0 451.2C1486.4 451.7 1487.7 452.3 1489.0 452.8C1490.4 453.4 1491.7 454.0 1493.0 454.6C1494.4 455.2 1495.7 455.8 1497.0 456.5C1498.4 457.1 1499.7 457.7 1501.0 458.4C1502.4 459.0 1503.7 459.7 1505.0 460.3C1506.4 460.9 1507.7 461.6 1509.0 462.2C1510.4 462.9 1511.7 463.5 1513.0 464.1C1514.4 464.8 1515.7 465.4 1517.0 466.0C1518.4 466.6 1519.7 467.2 1521.0 467.8C1522.4 468.3 1523.7 468.9 1525.0 469.4C1526.4 470.0 1527.7 470.5 1529.0 471.0C1530.4 471.4 1531.7 471.9 1533.0 472.3C1534.4 472.8 1535.7 473.2 1537.0 473.6C1538.4 474.0 1539.7 474.4 1541.0 474.8C1542.4 475.2 1543.7 475.6 1545.0 476.0C1546.4 476.4 1547.7 476.9 1549.0 477.3C1550.4 477.8 1551.7 478.2 1553.0 478.7C1554.4 479.1 1555.7 479.6 1557.0 480.1C1558.4 480.5 1559.7 481.0 1561.0 481.4C1562.4 481.9 1563.7 482.3 1565.0 482.7C1566.4 483.1 1567.7 483.5 1569.0 483.8C1570.4 484.2 1571.7 484.5 1573.0 484.8C1574.4 485.0 1575.7 485.3 1577.0 485.5C1578.4 485.8 1579.7 486.0 1581.0 486.2C1582.4 486.4 1583.7 486.5 1585.0 486.6C1586.4 486.6 1587.7 486.6 1589.0 486.5C1590.4 486.4 1591.7 486.3 1593.0 486.0C1594.4 485.8 1595.7 485.5 1597.0 485.1C1598.4 484.8 1599.7 484.3 1601.0 483.8C1602.4 483.2 1603.7 482.6 1605.0 481.8C1606.4 481.1 1607.7 480.3 1609.0 479.3C1610.4 478.3 1611.7 477.2 1613.0 475.9C1614.4 474.6 1615.7 473.2 1617.0 471.6C1618.4 470.0 1619.7 468.4 1621.0 466.5C1622.4 464.5 1623.7 462.5 1625.0 460.1C1626.4 457.8 1627.7 455.1 1629.0 452.2C1630.4 449.3 1631.7 446.1 1633.0 442.7C1634.4 439.3 1635.7 435.7 1637.0 431.9C1638.4 428.1 1639.7 424.1 1641.0 419.9C1642.4 415.7 1643.7 411.3 1645.0 406.7C1646.4 402.1 1647.7 397.3 1649.0 392.2C1650.4 387.1 1651.7 381.8 1653.0 376.2C1654.4 370.6 1655.7 364.6 1657.0 358.4C1658.4 352.2 1659.7 345.7 1661.0 339.0C1662.4 332.2 1663.7 325.2 1665.0 318.1C1666.4 311.0 1667.7 303.5 1669.0 296.1C1670.4 288.7 1671.7 281.2 1673.0 273.7C1674.4 266.3 1675.7 258.6 1677.0 251.3C1678.4 244.1 1679.7 236.8 1681.0 230.1C1682.4 223.5 1683.7 217.1 1685.0 211.2C1686.4 205.3 1687.7 199.8 1689.0 194.7C1690.4 189.7 1691.7 185.1 1693.0 180.9C1694.4 176.7 1695.7 172.9 1697.0 169.5C1698.4 166.1 1699.7 163.0 1701.0 160.4C1702.4 157.8 1703.7 155.6 1705.0 153.8C1706.4 152.0 1707.7 150.5 1709.0 149.5C1710.4 148.4 1711.7 147.8 1713.0 147.7C1714.4 147.6 1715.7 148.1 1717.0 149.0C1718.4 149.8 1719.7 151.1 1721.0 152.9C1722.4 154.6 1723.7 157.0 1725.0 159.6C1726.4 162.2 1727.7 165.2 1729.0 168.4C1730.4 171.6 1731.7 175.2 1733.0 178.9C1734.4 182.6 1735.7 186.7 1737.0 190.7C1738.4 194.8 1739.7 199.1 1741.0 203.3C1742.4 207.5 1743.7 211.9 1745.0 216.2C1746.4 220.5 1747.7 224.9 1749.0 229.3C1750.4 233.7 1751.7 238.2 1753.0 242.6C1754.4 247.0 1755.7 251.4 1757.0 255.5C1758.4 259.7 1759.7 263.6 1761.0 267.4C1762.4 271.2 1763.7 274.8 1765.0 278.3C1766.4 281.7 1767.7 285.1 1769.0 288.3C1770.4 291.5 1771.7 294.6 1773.0 297.5C1774.4 300.5 1775.7 303.3 1777.0 305.9C1778.4 308.6 1779.7 311.1 1781.0 313.5C1782.4 315.9 1783.7 318.1 1785.0 320.2C1786.4 322.4 1787.7 324.3 1789.0 326.2C1790.4 328.0 1791.7 329.7 1793.0 331.3C1794.4 332.9 1795.7 334.4 1797.0 335.8C1798.4 337.2 1799.7 338.5 1801.0 339.6C1802.4 340.8 1803.7 341.9 1805.0 342.9C1806.4 343.8 1807.7 344.7 1809.0 345.5C1810.4 346.3 1811.7 347.0 1813.0 347.6C1814.4 348.2 1815.7 348.8 1817.0 349.4C1818.4 349.9 1819.7 350.4 1821.0 350.9C1822.4 351.4 1823.7 351.8 1825.0 352.2C1826.4 352.6 1827.7 352.9 1829.0 353.2C1830.4 353.4 1831.7 353.7 1833.0 353.9C1834.4 354.1 1835.7 354.3 1837.0 354.5C1838.4 354.6 1839.7 354.8 1841.0 355.0C1842.4 355.1 1843.7 355.3 1845.0 355.5C1846.4 355.6 1847.7 355.8 1849.0 355.9C1850.4 356.1 1851.7 356.2 1853.0 356.4C1854.4 356.5 1855.7 356.7 1857.0 356.8C1858.4 357.0 1859.7 357.1 1861.0 357.3C1862.4 357.4 1863.7 357.5 1865.0 357.7C1866.4 357.8 1867.7 357.9 1869.0 358.1C1870.4 358.2 1871.7 358.3 1873.0 358.4C1874.4 358.6 1875.7 358.7 1877.0 358.8C1878.4 358.9 1879.7 359.0 1881.0 359.1C1882.4 359.2 1883.7 359.3 1885.0 359.4C1886.4 359.5 1887.7 359.6 1889.0 359.7C1890.4 359.8 1891.7 359.9 1893.0 360.0C1894.4 360.1 1895.7 360.2 1897.0 360.3C1898.4 360.3 1899.7 360.4 1901.0 360.5C1902.4 360.5 1903.7 360.6 1905.0 360.7C1906.4 360.7 1907.7 360.8 1909.0 360.9C1910.4 360.9 1911.7 361.0 1913.0 361.0C1914.4 361.1 1915.7 361.1 1917.0 361.2C1918.4 361.2 1919.7 361.2 1921.0 361.2C1922.4 361.2 1923.7 361.2 1925.0 361.1C1926.4 361.1 1927.7 361.0 1929.0 360.9C1930.4 360.9 1931.7 360.8 1933.0 360.7C1934.4 360.6 1935.7 360.5 1937.0 360.4C1938.4 360.2 1939.7 360.1 1941.0 360.0C1942.4 359.8 1943.7 359.7 1945.0 359.6C1946.4 359.4 1947.7 359.3 1949.0 359.1C1950.4 359.0 1951.7 358.8 1953.0 358.7C1954.4 358.5 1955.7 358.3 1957.0 358.1C1958.4 358.0 1959.7 357.7 1961.0 357.6C1962.4 357.4 1964.3 357.2 1965.0 357.1C1965.8 357.0 1965.4 357.0 1965.5 357.0" fill="none" stroke="#ff0000" stroke-width="3.9" stroke-linejoin="round"/>
<path d="M1137.0 385.8C1137.7 385.8 1139.7 385.8 1141.0 385.8C1142.4 385.9 1143.7 385.9 1145.0 385.9C1146.4 386.0 1147.7 386.0 1149.0 386.1C1150.4 386.2 1151.7 386.3 1153.0 386.4C1154.4 386.5 1155.7 386.6 1157.0 386.7C1158.4 386.9 1159.7 387.0 1161.0 387.1C1162.4 387.3 1163.7 387.4 1165.0 387.6C1166.4 387.7 1167.7 387.9 1169.0 388.1C1170.4 388.2 1171.7 388.4 1173.0 388.7C1174.4 388.9 1175.7 389.1 1177.0 389.4C1178.4 389.7 1179.7 389.9 1181.0 390.2C1182.4 390.4 1183.7 390.7 1185.0 390.9C1186.4 391.1 1187.7 391.3 1189.0 391.4C1190.4 391.6 1191.7 391.6 1193.0 391.7C1194.4 391.7 1195.7 391.7 1197.0 391.7C1198.4 391.7 1199.7 391.7 1201.0 391.6C1202.4 391.6 1203.7 391.5 1205.0 391.4C1206.4 391.4 1207.7 391.3 1209.0 391.2C1210.4 391.2 1211.7 391.1 1213.0 391.0C1214.4 391.0 1215.7 390.9 1217.0 390.8C1218.4 390.7 1219.7 390.6 1221.0 390.5C1222.4 390.4 1223.7 390.3 1225.0 390.2C1226.4 390.1 1227.7 390.0 1229.0 390.0C1230.4 389.9 1231.7 389.9 1233.0 389.8C1234.4 389.8 1235.7 389.8 1237.0 389.8C1238.4 389.8 1239.7 389.8 1241.0 389.9C1242.4 389.9 1243.7 390.0 1245.0 390.1C1246.4 390.1 1247.7 390.2 1249.0 390.3C1250.4 390.4 1251.7 390.5 1253.0 390.6C1254.4 390.8 1255.7 390.9 1257.0 391.0C1258.4 391.1 1259.7 391.2 1261.0 391.4C1262.4 391.5 1263.7 391.6 1265.0 391.7C1266.4 391.8 1267.7 392.0 1269.0 392.1C1270.4 392.2 1271.7 392.3 1273.0 392.4C1274.4 392.5 1275.7 392.6 1277.0 392.7C1278.4 392.8 1279.7 392.9 1281.0 393.0C1282.4 393.1 1283.7 393.2 1285.0 393.3C1286.4 393.4 1287.7 393.5 1289.0 393.6C1290.4 393.7 1291.7 393.8 1293.0 393.9C1294.4 394.0 1295.7 394.1 1297.0 394.2C1298.4 394.4 1299.7 394.5 1301.0 394.6C1302.4 394.8 1303.7 394.9 1305.0 395.0C1306.4 395.2 1307.7 395.3 1309.0 395.5C1310.4 395.6 1311.7 395.8 1313.0 395.9C1314.4 396.0 1315.7 396.2 1317.0 396.3C1318.4 396.4 1319.7 396.5 1321.0 396.6C1322.4 396.7 1323.7 396.8 1325.0 396.9C1326.4 397.0 1327.7 397.1 1329.0 397.2C1330.4 397.3 1331.7 397.4 1333.0 397.5C1334.4 397.6 1335.7 397.7 1337.0 397.8C1338.4 397.9 1339.7 398.0 1341.0 398.0C1342.4 398.1 1343.7 398.2 1345.0 398.3C1346.4 398.4 1347.7 398.4 1349.0 398.5C1350.4 398.6 1351.7 398.7 1353.0 398.7C1354.4 398.8 1355.7 398.8 1357.0 398.9C1358.4 398.9 1359.7 399.0 1361.0 399.0C1362.4 399.0 1363.7 399.1 1365.0 399.1C1366.4 399.1 1367.7 399.2 1369.0 399.2C1370.4 399.3 1371.7 399.3 1373.0 399.4C1374.4 399.4 1375.7 399.5 1377.0 399.6C1378.4 399.7 1379.7 399.7 1381.0 399.8C1382.4 399.9 1383.7 400.1 1385.0 400.2C1386.4 400.3 1387.7 400.4 1389.0 400.6C1390.4 400.7 1391.7 400.9 1393.0 401.0C1394.4 401.2 1395.7 401.3 1397.0 401.5C1398.4 401.7 1399.7 401.8 1401.0 402.0C1402.4 402.2 1403.7 402.3 1405.0 402.5C1406.4 402.7 1407.7 402.8 1409.0 403.0C1410.4 403.2 1411.7 403.3 1413.0 403.5C1414.4 403.7 1415.7 403.8 1417.0 404.0C1418.4 404.2 1419.7 404.3 1421.0 404.5C1422.4 404.7 1423.7 404.9 1425.0 405.1C1426.4 405.2 1427.7 405.4 1429.0 405.6C1430.4 405.8 1431.7 406.0 1433.0 406.1C1434.4 406.3 1435.7 406.5 1437.0 406.7C1438.4 406.9 1439.7 407.1 1441.0 407.2C1442.4 407.4 1443.7 407.6 1445.0 407.8C1446.4 408.0 1447.7 408.1 1449.0 408.3C1450.4 408.5 1451.7 408.7 1453.0 408.9C1454.4 409.1 1455.7 409.3 1457.0 409.5C1458.4 409.8 1459.7 410.0 1461.0 410.3C1462.4 410.5 1463.7 410.8 1465.0 411.1C1466.4 411.4 1467.7 411.7 1469.0 412.0C1470.4 412.4 1471.7 412.7 1473.0 413.0C1474.4 413.4 1475.7 413.7 1477.0 414.1C1478.4 414.5 1479.7 414.9 1481.0 415.3C1482.4 415.7 1483.7 416.1 1485.0 416.6C1486.4 417.0 1487.7 417.5 1489.0 418.0C1490.4 418.5 1491.7 419.0 1493.0 419.4C1494.4 419.9 1495.7 420.4 1497.0 420.8C1498.4 421.2 1499.7 421.6 1501.0 422.0C1502.4 422.4 1503.7 422.7 1505.0 423.0C1506.4 423.4 1507.7 423.7 1509.0 424.0C1510.4 424.3 1511.7 424.6 1513.0 424.9C1514.4 425.2 1515.7 425.6 1517.0 425.9C1518.4 426.2 1519.7 426.6 1521.0 426.9C1522.4 427.3 1523.7 427.7 1525.0 428.1C1526.4 428.5 1527.7 428.9 1529.0 429.4C1530.4 429.8 1531.7 430.3 1533.0 430.7C1534.4 431.2 1535.7 431.7 1537.0 432.1C1538.4 432.6 1539.7 433.1 1541.0 433.6C1542.4 434.1 1543.7 434.6 1545.0 435.1C1546.4 435.6 1547.7 436.1 1549.0 436.6C1550.4 437.1 1551.7 437.6 1553.0 438.2C1554.4 438.7 1555.7 439.2 1557.0 439.8C1558.4 440.3 1559.7 440.8 1561.0 441.4C1562.4 441.9 1563.7 442.5 1565.0 443.0C1566.4 443.5 1567.7 444.1 1569.0 444.6C1570.4 445.2 1571.7 445.7 1573.0 446.3C1574.4 446.8 1575.7 447.4 1577.0 447.9C1578.4 448.5 1579.7 449.0 1581.0 449.6C1582.4 450.1 1583.7 450.7 1585.0 451.2C1586.4 451.7 1587.7 452.3 1589.0 452.8C1590.4 453.3 1591.7 453.8 1593.0 454.3C1594.4 454.7 1595.7 455.2 1597.0 455.6C1598.4 456.0 1599.7 456.4 1601.0 456.8C1602.4 457.2 1603.7 457.5 1605.0 457.8C1606.4 458.1 1607.7 458.3 1609.0 458.5C1610.4 458.7 1611.7 458.8 1613.0 458.9C1614.4 459.0 1615.7 459.1 1617.0 459.1C1618.4 459.0 1619.7 458.9 1621.0 458.7C1622.4 458.5 1623.7 458.1 1625.0 457.7C1626.4 457.2 1627.7 456.6 1629.0 456.0C1630.4 455.4 1631.7 454.7 1633.0 453.9C1634.4 453.1 1635.7 452.2 1637.0 451.2C1638.4 450.2 1639.7 449.2 1641.0 447.8C1642.4 446.5 1643.7 445.0 1645.0 443.3C1646.4 441.5 1647.7 439.5 1649.0 437.3C1650.4 435.1 1651.7 432.7 1653.0 430.2C1654.4 427.7 1655.7 425.1 1657.0 422.3C1658.4 419.5 1659.7 416.6 1661.0 413.5C1662.4 410.4 1663.7 407.2 1665.0 403.8C1666.4 400.4 1667.7 396.9 1669.0 393.3C1670.4 389.6 1671.7 385.8 1673.0 382.0C1674.4 378.1 1675.7 374.2 1677.0 370.3C1678.4 366.3 1679.7 362.2 1681.0 358.2C1682.4 354.2 1683.7 350.0 1685.0 346.1C1686.4 342.1 1687.7 338.3 1689.0 334.7C1690.4 331.1 1691.7 327.6 1693.0 324.3C1694.4 321.0 1695.7 317.9 1697.0 314.9C1698.4 311.8 1699.7 308.9 1701.0 306.1C1702.4 303.3 1703.7 300.6 1705.0 298.1C1706.4 295.6 1707.7 293.1 1709.0 291.0C1710.4 288.9 1711.7 287.0 1713.0 285.5C1714.4 283.9 1715.7 282.6 1717.0 281.5C1718.4 280.4 1719.7 279.6 1721.0 279.1C1722.4 278.5 1723.7 278.2 1725.0 278.2C1726.4 278.1 1727.7 278.4 1729.0 278.8C1730.4 279.3 1731.7 279.9 1733.0 280.9C1734.4 281.8 1735.7 282.9 1737.0 284.2C1738.4 285.6 1739.7 287.2 1741.0 289.0C1742.4 290.7 1743.7 292.6 1745.0 294.5C1746.4 296.3 1747.7 298.2 1749.0 300.1C1750.4 301.9 1751.7 303.7 1753.0 305.6C1754.4 307.5 1755.7 309.4 1757.0 311.3C1758.4 313.2 1759.7 315.2 1761.0 317.2C1762.4 319.2 1763.7 321.3 1765.0 323.3C1766.4 325.3 1767.7 327.4 1769.0 329.2C1770.4 331.1 1771.7 332.9 1773.0 334.5C1774.4 336.2 1775.7 337.7 1777.0 339.1C1778.4 340.6 1779.7 342.0 1781.0 343.3C1782.4 344.6 1783.7 345.9 1785.0 347.1C1786.4 348.3 1787.7 349.4 1789.0 350.4C1790.4 351.5 1791.7 352.5 1793.0 353.4C1794.4 354.3 1795.7 355.2 1797.0 356.0C1798.4 356.8 1799.7 357.5 1801.0 358.2C1802.4 358.8 1803.7 359.4 1805.0 359.9C1806.4 360.4 1807.7 360.9 1809.0 361.4C1810.4 361.8 1811.7 362.3 1813.0 362.7C1814.4 363.2 1815.7 363.6 1817.0 364.0C1818.4 364.4 1819.7 364.8 1821.0 365.2C1822.4 365.6 1823.7 365.9 1825.0 366.3C1826.4 366.6 1827.7 367.0 1829.0 367.3C1830.4 367.6 1831.7 367.9 1833.0 368.1C1834.4 368.4 1835.7 368.6 1837.0 368.9C1838.4 369.1 1839.7 369.3 1841.0 369.5C1842.4 369.7 1843.7 369.8 1845.0 370.0C1846.4 370.2 1847.7 370.3 1849.0 370.5C1850.4 370.7 1851.7 370.8 1853.0 371.0C1854.4 371.2 1855.7 371.3 1857.0 371.5C1858.4 371.6 1859.7 371.8 1861.0 371.9C1862.4 372.1 1863.7 372.2 1865.0 372.3C1866.4 372.5 1867.7 372.6 1869.0 372.7C1870.4 372.9 1871.7 373.0 1873.0 373.1C1874.4 373.2 1875.7 373.3 1877.0 373.4C1878.4 373.5 1879.7 373.6 1881.0 373.7C1882.4 373.8 1883.7 373.9 1885.0 373.9C1886.4 374.0 1887.7 374.1 1889.0 374.1C1890.4 374.2 1891.7 374.3 1893.0 374.3C1894.4 374.4 1895.7 374.4 1897.0 374.5C1898.4 374.5 1899.7 374.6 1901.0 374.6C1902.4 374.7 1903.7 374.7 1905.0 374.7C1906.4 374.8 1907.7 374.8 1909.0 374.9C1910.4 374.9 1911.7 375.0 1913.0 375.0C1914.4 375.0 1915.7 375.1 1917.0 375.1C1918.4 375.1 1919.7 375.2 1921.0 375.2C1922.4 375.2 1923.7 375.3 1925.0 375.3C1926.4 375.3 1927.7 375.3 1929.0 375.3C1930.4 375.3 1931.7 375.3 1933.0 375.3C1934.4 375.3 1935.7 375.3 1937.0 375.3C1938.4 375.2 1939.7 375.2 1941.0 375.1C1942.4 375.1 1943.7 375.0 1945.0 374.9C1946.4 374.9 1947.7 374.8 1949.0 374.7C1950.4 374.6 1951.7 374.5 1953.0 374.4C1954.4 374.3 1955.7 374.2 1957.0 374.1C1958.4 374.0 1959.7 373.9 1961.0 373.8C1962.4 373.7 1964.3 373.6 1965.0 373.5C1965.8 373.5 1965.4 373.5 1965.5 373.5" fill="none" stroke="#000" stroke-width="3.9" stroke-dasharray="15 15" stroke-linejoin="round"/>
<g>
<line x1="1966.2" y1="106.8" x2="1966.2" y2="523.5" stroke="#333" stroke-width="1.2"/>
<line x1="1135.4" y1="106.8" x2="1966.8" y2="106.8" stroke="#000" stroke-width="2.0"/>
<line x1="1136.4" y1="106.8" x2="1136.4" y2="524.5" stroke="#262626" stroke-width="2.0"/>
<line x1="1135.4" y1="523.5" x2="1966.8" y2="523.5" stroke="#262626" stroke-width="2.0"/>
<line x1="1244.2" y1="523.5" x2="1244.2" y2="514.5" stroke="#262626" stroke-width="1.5"/>
<line x1="1244.2" y1="106.8" x2="1244.2" y2="115.8" stroke="#000" stroke-width="1.5"/>
<text x="1243.4" y="566.0" font-family="'Liberation Sans', sans-serif" font-size="34" text-anchor="middle" fill="#262626">2</text>
<text x="1243.2" y="88.1" font-family="'Liberation Sans', sans-serif" font-size="34" text-anchor="middle" fill="#000" textLength="56.3" lengthAdjust="spacingAndGlyphs">620</text>
<line x1="1416.5" y1="523.5" x2="1416.5" y2="514.5" stroke="#262626" stroke-width="1.5"/>
<line x1="1416.5" y1="106.8" x2="1416.5" y2="115.8" stroke="#000" stroke-width="1.5"/>
<text x="1415.8" y="566.0" font-family="'Liberation Sans', sans-serif" font-size="34" text-anchor="middle" fill="#262626">3</text>
<text x="1415.5" y="88.1" font-family="'Liberation Sans', sans-serif" font-size="34" text-anchor="middle" fill="#000" textLength="56.3" lengthAdjust="spacingAndGlyphs">413</text>
<line x1="1588.9" y1="523.5" x2="1588.9" y2="514.5" stroke="#262626" stroke-width="1.5"/>
<line x1="1588.9" y1="106.8" x2="1588.9" y2="115.8" stroke="#000" stroke-width="1.5"/>
<text x="1588.1" y="566.0" font-family="'Liberation Sans', sans-serif" font-size="34" text-anchor="middle" fill="#262626">4</text>
<text x="1587.9" y="88.1" font-family="'Liberation Sans', sans-serif" font-size="34" text-anchor="middle" fill="#000" textLength="56.3" lengthAdjust="spacingAndGlyphs">310</text>
<line x1="1761.2" y1="523.5" x2="1761.2" y2="514.5" stroke="#262626" stroke-width="1.5"/>
<line x1="1761.2" y1="106.8" x2="1761.2" y2="115.8" stroke="#000" stroke-width="1.5"/>
<text x="1760.5" y="566.0" font-family="'Liberation Sans', sans-serif" font-size="34" text-anchor="middle" fill="#262626">5</text>
<text x="1760.2" y="88.1" font-family="'Liberation Sans', sans-serif" font-size="34" text-anchor="middle" fill="#000" textLength="56.3" lengthAdjust="spacingAndGlyphs">248</text>
<line x1="1933.6" y1="523.5" x2="1933.6" y2="514.5" stroke="#262626" stroke-width="1.5"/>
<line x1="1933.6" y1="106.8" x2="1933.6" y2="115.8" stroke="#000" stroke-width="1.5"/>
<text x="1932.8" y="566.0" font-family="'Liberation Sans', sans-serif" font-size="34" text-anchor="middle" fill="#262626">6</text>
<text x="1932.6" y="88.1" font-family="'Liberation Sans', sans-serif" font-size="34" text-anchor="middle" fill="#000" textLength="56.3" lengthAdjust="spacingAndGlyphs">207</text>
<text x="1123.0" y="118.6" font-family="'Liberation Sans', sans-serif" font-size="34" text-anchor="end" fill="#262626">40</text>
<line x1="1136.4" y1="245.6" x2="1145.4" y2="245.6" stroke="#262626" stroke-width="1.5"/>
<text x="1123.0" y="257.4" font-family="'Liberation Sans', sans-serif" font-size="34" text-anchor="end" fill="#262626">20</text>
<line x1="1136.4" y1="384.3" x2="1145.4" y2="384.3" stroke="#262626" stroke-width="1.5"/>
<text x="1123.0" y="396.1" font-family="'Liberation Sans', sans-serif" font-size="34" text-anchor="end" fill="#262626">0</text>
<text x="1123.0" y="534.8" font-family="'Liberation Sans', sans-serif" font-size="34" text-anchor="end" fill="#262626">-20</text>
<text x="1550.5" y="43.1" font-family="'Liberation Sans', sans-serif" font-size="36.5" text-anchor="middle" fill="#000" textLength="270.4" lengthAdjust="spacingAndGlyphs">Wavelength (nm)</text>
<text x="1551.5" y="612.3" font-family="'Liberation Sans', sans-serif" font-size="36.5" text-anchor="middle" fill="#262626" textLength="180.0" lengthAdjust="spacingAndGlyphs">Energy (eV)</text>
</g>
<text font-family="'Liberation Sans', sans-serif" font-size="36.5" fill="#262626" transform="translate(1057.8 315.5) rotate(-90)"><tspan x="-178.6" y="0.0" font-size="36.5" textLength="146.1" lengthAdjust="spacingAndGlyphs">Ellipticity</tspan><tspan font-size="1"> </tspan><tspan x="-22.2" y="0.0" font-size="36.5" textLength="102.2" lengthAdjust="spacingAndGlyphs">(mdeg</tspan><tspan font-size="1"> </tspan><tspan x="86.7" y="0.0" font-size="36.5" textLength="52.2" lengthAdjust="spacingAndGlyphs">nm</tspan><tspan x="139.7" y="-16.7" font-size="28" textLength="22.1" lengthAdjust="spacingAndGlyphs">-1</tspan><tspan x="167.0" y="0" font-size="36.5">)</tspan></text>
<line x1="1783.8" y1="148.5" x2="1839.8" y2="148.5" stroke="#0000ff" stroke-width="4.0" stroke-dasharray="15 4 7 4"/>
<text y="164.4" font-size="30" fill="#000" font-family="'Liberation Sans', sans-serif"><tspan x="1845.0" font-family="'Liberation Serif', serif" font-style="italic" font-size="32">θ</tspan><tspan font-size="1"> </tspan><tspan x="1868.7">=</tspan><tspan font-size="1"> </tspan><tspan x="1895.7" textLength="31" lengthAdjust="spacingAndGlyphs">15</tspan><tspan x="1928.8" font-size="24" dy="-13.5">o</tspan></text>
<line x1="1783.8" y1="195.9" x2="1839.8" y2="195.9" stroke="#ff0000" stroke-width="4.0"/>
<text y="211.4" font-size="30" fill="#000" font-family="'Liberation Sans', sans-serif"><tspan x="1845.0" font-family="'Liberation Serif', serif" font-style="italic" font-size="32">θ</tspan><tspan font-size="1"> </tspan><tspan x="1868.7">=</tspan><tspan font-size="1"> </tspan><tspan x="1895.7" textLength="31" lengthAdjust="spacingAndGlyphs">30</tspan><tspan x="1928.8" font-size="24" dy="-13.5">o</tspan></text>
<line x1="1783.8" y1="243.5" x2="1839.8" y2="243.5" stroke="#000" stroke-width="4.0" stroke-dasharray="15 15"/>
<text y="259.4" font-size="30" fill="#000" font-family="'Liberation Sans', sans-serif"><tspan x="1845.0" font-family="'Liberation Serif', serif" font-style="italic" font-size="32">θ</tspan><tspan font-size="1"> </tspan><tspan x="1868.7">=</tspan><tspan font-size="1"> </tspan><tspan x="1895.7" textLength="31" lengthAdjust="spacingAndGlyphs">45</tspan><tspan x="1928.8" font-size="24" dy="-13.5">o</tspan></text>
<text x="31.5" y="673.5" font-family="'Liberation Serif', serif" font-size="64" text-anchor="start" fill="#000" font-weight="bold">c</text>
<path d="M589.6 935.4C590.3 935.3 592.3 935.2 593.6 935.1C595.0 935.0 596.3 934.9 597.6 934.8C599.0 934.7 600.3 934.6 601.6 934.5C603.0 934.4 604.3 934.3 605.6 934.2C607.0 934.0 608.3 933.9 609.6 933.8C611.0 933.7 612.3 933.5 613.6 933.3C615.0 933.2 616.3 933.0 617.6 932.7C619.0 932.5 620.3 932.2 621.6 931.8C623.0 931.4 624.3 930.9 625.6 930.4C627.0 929.9 628.3 929.3 629.6 928.7C631.0 928.1 632.3 927.5 633.6 926.8C635.0 926.2 636.3 925.5 637.6 924.9C639.0 924.3 640.3 923.8 641.6 923.3C643.0 922.9 644.3 922.6 645.6 922.3C647.0 922.0 648.3 921.8 649.6 921.7C651.0 921.5 652.3 921.5 653.6 921.5C655.0 921.4 656.3 921.5 657.6 921.6C659.0 921.7 660.3 921.8 661.6 922.0C663.0 922.2 664.3 922.4 665.6 922.7C667.0 922.9 668.3 923.2 669.6 923.4C671.0 923.7 672.3 923.9 673.6 924.1C675.0 924.4 676.3 924.6 677.6 924.8C679.0 925.0 680.3 925.2 681.6 925.4C683.0 925.6 684.3 925.8 685.6 926.0C687.0 926.2 688.3 926.3 689.6 926.4C691.0 926.5 692.3 926.6 693.6 926.7C695.0 926.8 696.3 926.9 697.6 927.0C699.0 927.0 700.3 927.1 701.6 927.1C703.0 927.1 704.3 927.2 705.6 927.1C707.0 927.1 708.3 927.1 709.6 927.0C711.0 926.9 712.3 926.7 713.6 926.5C715.0 926.3 716.3 926.0 717.6 925.7C719.0 925.4 720.3 925.1 721.6 924.8C723.0 924.5 724.3 924.2 725.6 923.9C727.0 923.6 728.3 923.4 729.6 923.1C731.0 922.9 732.3 922.6 733.6 922.3C735.0 922.0 736.3 921.7 737.6 921.4C739.0 921.1 740.3 920.7 741.6 920.4C743.0 920.0 744.3 919.6 745.6 919.3C747.0 919.0 748.3 918.6 749.6 918.4C751.0 918.2 752.3 918.0 753.6 917.9C755.0 917.8 756.3 917.8 757.6 917.7C759.0 917.7 760.3 917.7 761.6 917.6C763.0 917.5 764.3 917.4 765.6 917.3C767.0 917.1 768.3 916.9 769.6 916.6C771.0 916.4 772.3 916.1 773.6 915.8C775.0 915.5 776.3 915.2 777.6 915.0C779.0 914.7 780.3 914.5 781.6 914.3C783.0 914.1 784.3 913.9 785.6 913.7C787.0 913.5 788.3 913.3 789.6 913.0C791.0 912.7 792.3 912.4 793.6 912.0C795.0 911.6 796.3 911.2 797.6 910.7C799.0 910.3 800.3 909.8 801.6 909.5C803.0 909.1 804.3 908.8 805.6 908.7C807.0 908.6 808.3 908.7 809.6 908.8C811.0 909.0 812.3 909.3 813.6 909.6C815.0 909.9 816.3 910.2 817.6 910.4C819.0 910.6 820.3 910.7 821.6 910.7C823.0 910.7 824.3 910.6 825.6 910.4C827.0 910.2 828.3 909.9 829.6 909.7C831.0 909.5 832.3 909.3 833.6 909.2C835.0 909.1 836.3 909.1 837.6 909.1C839.0 909.2 840.3 909.4 841.6 909.6C843.0 909.7 844.3 909.9 845.6 910.0C847.0 910.1 848.3 910.1 849.6 910.0C851.0 909.9 852.3 909.7 853.6 909.4C855.0 909.1 856.3 908.7 857.6 908.3C859.0 907.9 860.3 907.5 861.6 907.2C863.0 906.8 864.3 906.5 865.6 906.2C867.0 905.9 868.3 905.6 869.6 905.4C871.0 905.1 872.3 904.8 873.6 904.5C875.0 904.2 876.3 904.0 877.6 903.7C879.0 903.4 880.3 903.2 881.6 902.9C883.0 902.7 884.3 902.4 885.6 902.2C887.0 902.0 888.3 901.7 889.6 901.6C891.0 901.4 892.3 901.3 893.6 901.1C895.0 901.0 896.3 900.9 897.6 900.8C899.0 900.7 900.3 900.6 901.6 900.5C903.0 900.3 904.3 900.1 905.6 899.9C907.0 899.6 908.3 899.3 909.6 899.0C911.0 898.7 912.3 898.3 913.6 897.9C915.0 897.5 916.3 897.1 917.6 896.8C919.0 896.4 920.3 896.1 921.6 895.8C923.0 895.5 924.3 895.2 925.6 895.0C927.0 894.7 928.3 894.5 929.6 894.3C931.0 894.1 932.3 893.8 933.6 893.6C935.0 893.4 936.3 893.1 937.6 892.8C939.0 892.6 940.3 892.3 941.6 892.0C943.0 891.6 944.3 891.3 945.6 891.0C947.0 890.6 948.3 890.2 949.6 889.9C951.0 889.5 952.3 889.1 953.6 888.8C955.0 888.4 956.3 888.0 957.6 887.6C959.0 887.3 960.3 886.9 961.6 886.5C963.0 886.2 964.3 885.8 965.6 885.5C967.0 885.2 968.3 884.9 969.6 884.6C971.0 884.3 972.3 884.1 973.6 883.8C975.0 883.5 976.3 883.3 977.6 883.0C979.0 882.7 980.3 882.4 981.6 882.0C983.0 881.7 984.3 881.3 985.6 880.8C987.0 880.4 988.3 879.9 989.6 879.4C991.0 878.9 992.3 878.4 993.6 877.8C995.0 877.3 996.3 876.8 997.6 876.2C999.0 875.7 1000.3 875.2 1001.6 874.8C1003.0 874.3 1004.3 873.9 1005.6 873.5C1007.0 873.2 1008.3 872.9 1009.6 872.6C1011.0 872.2 1012.3 872.0 1013.6 871.7C1015.0 871.4 1016.3 871.1 1017.6 870.9C1019.0 870.6 1020.3 870.3 1021.6 870.0C1023.0 869.7 1024.3 869.4 1025.6 869.1C1027.0 868.7 1028.3 868.4 1029.6 868.1C1031.0 867.7 1032.3 867.4 1033.6 867.1C1035.0 866.7 1036.3 866.4 1037.6 866.0C1039.0 865.7 1040.3 865.4 1041.6 865.1C1043.0 864.7 1044.3 864.4 1045.6 864.1C1047.0 863.8 1048.3 863.5 1049.6 863.2C1051.0 862.8 1052.3 862.5 1053.6 862.2C1055.0 861.9 1056.3 861.6 1057.6 861.3C1059.0 861.0 1060.3 860.6 1061.6 860.3C1063.0 860.0 1064.3 859.6 1065.6 859.3C1067.0 858.9 1068.3 858.5 1069.6 858.1C1071.0 857.7 1072.3 857.2 1073.6 856.8C1075.0 856.5 1076.3 856.1 1077.6 855.8C1079.0 855.5 1080.3 855.3 1081.6 855.1C1083.0 854.9 1084.3 854.7 1085.6 854.6C1087.0 854.4 1088.3 854.3 1089.6 854.1C1091.0 854.0 1092.3 853.9 1093.6 853.8C1095.0 853.7 1096.3 853.7 1097.6 853.7C1099.0 853.6 1100.3 853.7 1101.6 853.8C1103.0 853.9 1104.3 854.0 1105.6 854.2C1107.0 854.5 1108.3 854.8 1109.6 855.2C1111.0 855.6 1112.3 856.0 1113.6 856.5C1115.0 857.0 1116.3 857.6 1117.6 858.3C1119.0 858.9 1120.3 859.7 1121.6 860.6C1123.0 861.4 1124.3 862.4 1125.6 863.4C1127.0 864.5 1128.3 865.7 1129.6 866.9C1131.0 868.2 1132.3 869.6 1133.6 871.1C1135.0 872.6 1136.3 874.2 1137.6 875.9C1139.0 877.7 1140.3 879.5 1141.6 881.5C1143.0 883.4 1144.3 885.4 1145.6 887.6C1147.0 889.7 1148.3 891.9 1149.6 894.3C1151.0 896.7 1152.3 899.3 1153.6 902.0C1155.0 904.6 1156.3 907.5 1157.6 910.4C1159.0 913.3 1160.3 916.4 1161.6 919.6C1163.0 922.9 1164.3 926.3 1165.6 929.9C1167.0 933.5 1168.3 937.3 1169.6 941.2C1171.0 945.1 1172.3 949.2 1173.6 953.5C1175.0 957.7 1176.3 962.1 1177.6 966.6C1179.0 971.1 1180.3 975.7 1181.6 980.5C1183.0 985.3 1184.3 990.3 1185.6 995.4C1187.0 1000.5 1188.3 1005.9 1189.6 1011.2C1191.0 1016.5 1192.3 1022.0 1193.6 1027.2C1195.0 1032.5 1196.3 1037.8 1197.6 1042.9C1199.0 1048.0 1200.3 1053.0 1201.6 1057.8C1203.0 1062.6 1204.3 1067.2 1205.6 1071.6C1207.0 1076.0 1208.3 1080.2 1209.6 1084.1C1211.0 1088.0 1212.3 1091.7 1213.6 1095.0C1215.0 1098.3 1216.3 1101.4 1217.6 1104.1C1219.0 1106.9 1220.3 1109.4 1221.6 1111.7C1223.0 1114.0 1224.3 1116.1 1225.6 1118.0C1227.0 1119.9 1228.3 1121.7 1229.6 1123.2C1231.0 1124.7 1232.3 1126.1 1233.6 1127.1C1235.0 1128.2 1236.3 1129.0 1237.6 1129.5C1239.0 1130.1 1240.3 1130.3 1241.6 1130.2C1243.0 1130.1 1244.3 1129.7 1245.6 1128.9C1247.0 1128.1 1248.3 1126.9 1249.6 1125.4C1251.0 1124.0 1252.3 1122.3 1253.6 1120.2C1255.0 1118.1 1256.3 1115.8 1257.6 1113.1C1259.0 1110.4 1260.3 1107.3 1261.6 1104.0C1263.0 1100.7 1264.3 1097.1 1265.6 1093.4C1267.0 1089.7 1268.3 1085.9 1269.6 1082.0C1271.0 1078.1 1272.3 1074.0 1273.6 1069.9C1275.0 1065.9 1276.3 1061.8 1277.6 1057.7C1279.0 1053.6 1280.3 1049.5 1281.6 1045.6C1283.0 1041.6 1284.3 1037.6 1285.6 1033.9C1287.0 1030.2 1288.3 1026.6 1289.6 1023.2C1291.0 1019.8 1292.3 1016.5 1293.6 1013.4C1295.0 1010.3 1296.3 1007.4 1297.6 1004.6C1299.0 1001.9 1300.3 999.3 1301.6 996.9C1303.0 994.6 1304.3 992.3 1305.6 990.3C1307.0 988.2 1308.3 986.4 1309.6 984.7C1311.0 983.0 1312.3 981.5 1313.6 980.1C1315.0 978.7 1316.3 977.6 1317.6 976.5C1319.0 975.4 1320.3 974.4 1321.6 973.5C1323.0 972.7 1324.3 971.8 1325.6 971.1C1327.0 970.3 1328.3 969.6 1329.6 969.0C1331.0 968.4 1332.3 967.8 1333.6 967.3C1335.0 966.8 1336.3 966.4 1337.6 966.0C1339.0 965.5 1340.3 965.2 1341.6 964.9C1343.0 964.5 1344.3 964.3 1345.6 964.0C1347.0 963.8 1348.3 963.6 1349.6 963.3C1351.0 963.1 1352.3 962.9 1353.6 962.7C1355.0 962.5 1356.3 962.3 1357.6 962.1C1359.0 961.9 1360.3 961.7 1361.6 961.6C1363.0 961.4 1364.3 961.3 1365.6 961.2C1367.0 961.1 1368.3 961.0 1369.6 960.8C1371.0 960.7 1372.3 960.6 1373.6 960.5C1375.0 960.4 1376.3 960.3 1377.6 960.2C1379.0 960.1 1380.3 960.0 1381.6 959.9C1383.0 959.8 1384.3 959.7 1385.6 959.6C1387.0 959.5 1388.3 959.4 1389.6 959.4C1391.0 959.3 1392.3 959.2 1393.6 959.1C1395.0 959.1 1396.3 959.0 1397.6 958.9C1399.0 958.9 1400.3 958.8 1401.6 958.8C1403.0 958.7 1404.3 958.6 1405.6 958.6C1407.0 958.5 1408.3 958.4 1409.6 958.4C1411.0 958.3 1412.3 958.3 1413.6 958.2C1415.0 958.1 1416.3 958.0 1417.6 958.0C1419.0 957.9 1420.3 957.8 1421.6 957.8C1423.0 957.7 1424.3 957.6 1425.6 957.6C1427.0 957.5 1428.3 957.4 1429.6 957.4C1431.0 957.3 1432.3 957.2 1433.6 957.2C1435.0 957.1 1436.3 957.1 1437.6 957.0C1439.0 957.0 1440.3 956.9 1441.6 956.8C1443.0 956.8 1444.3 956.7 1445.6 956.7C1447.0 956.6 1448.3 956.6 1449.6 956.6C1451.0 956.5 1452.3 956.5 1453.6 956.5C1455.0 956.4 1456.3 956.4 1457.6 956.4C1459.0 956.4 1460.3 956.4 1461.6 956.4C1463.0 956.4 1464.3 956.4 1465.6 956.5C1467.0 956.5 1468.3 956.5 1469.6 956.5C1471.0 956.6 1472.3 956.6 1473.6 956.7C1475.0 956.7 1476.3 956.8 1477.6 956.8C1479.0 956.9 1480.3 957.0 1481.6 957.0C1483.0 957.1 1484.3 957.2 1485.6 957.3C1487.0 957.3 1488.3 957.4 1489.6 957.5C1491.0 957.6 1492.3 957.7 1493.6 957.8C1495.0 957.9 1496.3 958.1 1497.6 958.2C1499.0 958.3 1500.3 958.4 1501.6 958.5C1503.0 958.6 1504.3 958.8 1505.6 958.9C1507.0 959.0 1508.3 959.1 1509.6 959.2C1511.0 959.4 1512.3 959.5 1513.6 959.6C1515.0 959.8 1516.3 959.9 1517.6 960.0C1519.0 960.2 1520.5 960.3 1521.6 960.4C1522.7 960.5 1523.8 960.6 1524.2 960.6" fill="none" stroke="#0000ff" stroke-width="6.2" stroke-linejoin="round"/>
<path d="M589.6 935.9C590.3 935.9 592.3 935.8 593.6 935.8C595.0 935.8 596.3 935.7 597.6 935.7C599.0 935.6 600.3 935.6 601.6 935.5C603.0 935.5 604.3 935.4 605.6 935.4C607.0 935.4 608.3 935.3 609.6 935.3C611.0 935.2 612.3 935.1 613.6 935.1C615.0 935.0 616.3 934.9 617.6 934.9C619.0 934.8 620.3 934.7 621.6 934.5C623.0 934.4 624.3 934.3 625.6 934.1C627.0 933.9 628.3 933.7 629.6 933.5C631.0 933.3 632.3 933.0 633.6 932.8C635.0 932.6 636.3 932.3 637.6 932.1C639.0 931.9 640.3 931.7 641.6 931.5C643.0 931.3 644.3 931.2 645.6 931.1C647.0 931.0 648.3 931.0 649.6 930.9C651.0 930.9 652.3 930.9 653.6 930.9C655.0 930.9 656.3 930.9 657.6 930.9C659.0 930.9 660.3 931.0 661.6 931.0C663.0 931.1 664.3 931.1 665.6 931.2C667.0 931.3 668.3 931.4 669.6 931.4C671.0 931.5 672.3 931.6 673.6 931.7C675.0 931.8 676.3 931.8 677.6 931.9C679.0 932.0 680.3 932.1 681.6 932.2C683.0 932.3 684.3 932.4 685.6 932.5C687.0 932.6 688.3 932.7 689.6 932.7C691.0 932.8 692.3 932.8 693.6 932.9C695.0 932.9 696.3 933.0 697.6 933.0C699.0 933.0 700.3 933.0 701.6 933.1C703.0 933.1 704.3 933.1 705.6 933.1C707.0 933.1 708.3 933.1 709.6 933.0C711.0 933.0 712.3 932.9 713.6 932.8C715.0 932.7 716.3 932.6 717.6 932.5C719.0 932.4 720.3 932.2 721.6 932.1C723.0 932.0 724.3 931.9 725.6 931.8C727.0 931.6 728.3 931.6 729.6 931.5C731.0 931.3 732.3 931.3 733.6 931.1C735.0 931.0 736.3 930.9 737.6 930.7C739.0 930.5 740.3 930.3 741.6 930.2C743.0 930.0 744.3 929.7 745.6 929.6C747.0 929.4 748.3 929.2 749.6 929.1C751.0 929.0 752.3 928.9 753.6 928.9C755.0 928.8 756.3 928.8 757.6 928.8C759.0 928.8 760.3 928.8 761.6 928.8C763.0 928.7 764.3 928.7 765.6 928.6C767.0 928.6 768.3 928.4 769.6 928.3C771.0 928.2 772.3 928.0 773.6 927.9C775.0 927.8 776.3 927.6 777.6 927.5C779.0 927.4 780.3 927.3 781.6 927.2C783.0 927.1 784.3 927.1 785.6 927.0C787.0 926.9 788.3 926.8 789.6 926.7C791.0 926.6 792.3 926.5 793.6 926.3C795.0 926.1 796.3 925.9 797.6 925.7C799.0 925.5 800.3 925.3 801.6 925.1C803.0 924.9 804.3 924.8 805.6 924.7C807.0 924.7 808.3 924.7 809.6 924.7C811.0 924.7 812.3 924.8 813.6 924.9C815.0 925.0 816.3 925.1 817.6 925.2C819.0 925.2 820.3 925.3 821.6 925.3C823.0 925.3 824.3 925.2 825.6 925.1C827.0 925.1 828.3 925.0 829.6 924.9C831.0 924.8 832.3 924.7 833.6 924.7C835.0 924.7 836.3 924.7 837.6 924.7C839.0 924.7 840.3 924.8 841.6 924.9C843.0 924.9 844.3 925.0 845.6 925.0C847.0 925.1 848.3 925.1 849.6 925.0C851.0 925.0 852.3 924.9 853.6 924.8C855.0 924.7 856.3 924.6 857.6 924.4C859.0 924.3 860.3 924.1 861.6 923.9C863.0 923.8 864.3 923.6 865.6 923.5C867.0 923.3 868.3 923.1 869.6 923.0C871.0 922.8 872.3 922.6 873.6 922.5C875.0 922.3 876.3 922.1 877.6 922.0C879.0 921.8 880.3 921.6 881.6 921.5C883.0 921.3 884.3 921.2 885.6 921.0C887.0 920.9 888.3 920.8 889.6 920.7C891.0 920.5 892.3 920.5 893.6 920.4C895.0 920.3 896.3 920.3 897.6 920.2C899.0 920.1 900.3 920.1 901.6 920.0C903.0 919.9 904.3 919.8 905.6 919.7C907.0 919.6 908.3 919.5 909.6 919.3C911.0 919.2 912.3 919.0 913.6 918.8C915.0 918.7 916.3 918.5 917.6 918.3C919.0 918.2 920.3 918.0 921.6 917.9C923.0 917.8 924.3 917.7 925.6 917.6C927.0 917.4 928.3 917.4 929.6 917.3C931.0 917.2 932.3 917.1 933.6 917.0C935.0 916.8 936.3 916.7 937.6 916.6C939.0 916.4 940.3 916.3 941.6 916.1C943.0 915.9 944.3 915.7 945.6 915.5C947.0 915.3 948.3 915.0 949.6 914.8C951.0 914.6 952.3 914.3 953.6 914.1C955.0 913.9 956.3 913.6 957.6 913.4C959.0 913.1 960.3 912.9 961.6 912.7C963.0 912.5 964.3 912.2 965.6 912.0C967.0 911.9 968.3 911.7 969.6 911.5C971.0 911.3 972.3 911.2 973.6 911.0C975.0 910.9 976.3 910.7 977.6 910.6C979.0 910.4 980.3 910.3 981.6 910.1C983.0 909.9 984.3 909.7 985.6 909.5C987.0 909.2 988.3 909.0 989.6 908.7C991.0 908.4 992.3 908.2 993.6 907.9C995.0 907.6 996.3 907.3 997.6 907.0C999.0 906.8 1000.3 906.5 1001.6 906.2C1003.0 906.0 1004.3 905.7 1005.6 905.5C1007.0 905.3 1008.3 905.1 1009.6 904.9C1011.0 904.7 1012.3 904.5 1013.6 904.3C1015.0 904.1 1016.3 904.0 1017.6 903.8C1019.0 903.6 1020.3 903.4 1021.6 903.2C1023.0 902.9 1024.3 902.7 1025.6 902.5C1027.0 902.3 1028.3 902.0 1029.6 901.8C1031.0 901.6 1032.3 901.3 1033.6 901.1C1035.0 900.8 1036.3 900.5 1037.6 900.3C1039.0 900.0 1040.3 899.7 1041.6 899.4C1043.0 899.2 1044.3 898.9 1045.6 898.6C1047.0 898.3 1048.3 898.0 1049.6 897.7C1051.0 897.4 1052.3 897.1 1053.6 896.7C1055.0 896.4 1056.3 896.1 1057.6 895.8C1059.0 895.5 1060.3 895.2 1061.6 894.9C1063.0 894.6 1064.3 894.3 1065.6 894.0C1067.0 893.7 1068.3 893.4 1069.6 893.1C1071.0 892.8 1072.3 892.5 1073.6 892.2C1075.0 891.9 1076.3 891.7 1077.6 891.4C1079.0 891.2 1080.3 890.9 1081.6 890.7C1083.0 890.4 1084.3 890.2 1085.6 890.0C1087.0 889.7 1088.3 889.5 1089.6 889.3C1091.0 889.1 1092.3 888.9 1093.6 888.7C1095.0 888.5 1096.3 888.3 1097.6 888.1C1099.0 887.9 1100.3 887.8 1101.6 887.6C1103.0 887.5 1104.3 887.4 1105.6 887.3C1107.0 887.3 1108.3 887.3 1109.6 887.3C1111.0 887.4 1112.3 887.4 1113.6 887.5C1115.0 887.7 1116.3 887.8 1117.6 888.0C1119.0 888.3 1120.3 888.5 1121.6 888.9C1123.0 889.3 1124.3 889.7 1125.6 890.2C1127.0 890.8 1128.3 891.3 1129.6 892.0C1131.0 892.7 1132.3 893.4 1133.6 894.2C1135.0 895.1 1136.3 896.0 1137.6 896.9C1139.0 897.9 1140.3 899.0 1141.6 900.1C1143.0 901.2 1144.3 902.4 1145.6 903.6C1147.0 904.8 1148.3 906.1 1149.6 907.5C1151.0 908.9 1152.3 910.4 1153.6 912.1C1155.0 913.9 1156.3 915.8 1157.6 917.9C1159.0 920.0 1160.3 922.4 1161.6 924.7C1163.0 927.1 1164.3 929.5 1165.6 931.9C1167.0 934.3 1168.3 936.5 1169.6 938.9C1171.0 941.2 1172.3 943.5 1173.6 946.0C1175.0 948.4 1176.3 950.9 1177.6 953.5C1179.0 956.1 1180.3 958.8 1181.6 961.5C1183.0 964.2 1184.3 966.9 1185.6 969.6C1187.0 972.3 1188.3 975.0 1189.6 977.7C1191.0 980.4 1192.3 983.0 1193.6 985.6C1195.0 988.1 1196.3 990.6 1197.6 993.0C1199.0 995.4 1200.3 997.8 1201.6 1000.0C1203.0 1002.2 1204.3 1004.3 1205.6 1006.3C1207.0 1008.3 1208.3 1010.2 1209.6 1012.0C1211.0 1013.8 1212.3 1015.5 1213.6 1017.1C1215.0 1018.7 1216.3 1020.2 1217.6 1021.6C1219.0 1023.0 1220.3 1024.3 1221.6 1025.4C1223.0 1026.5 1224.3 1027.5 1225.6 1028.3C1227.0 1029.2 1228.3 1029.9 1229.6 1030.4C1231.0 1031.0 1232.3 1031.4 1233.6 1031.8C1235.0 1032.1 1236.3 1032.3 1237.6 1032.5C1239.0 1032.6 1240.3 1032.5 1241.6 1032.4C1243.0 1032.3 1244.3 1032.1 1245.6 1031.8C1247.0 1031.5 1248.3 1031.1 1249.6 1030.5C1251.0 1029.9 1252.3 1029.1 1253.6 1028.2C1255.0 1027.3 1256.3 1026.2 1257.6 1025.0C1259.0 1023.8 1260.3 1022.4 1261.6 1021.0C1263.0 1019.5 1264.3 1018.0 1265.6 1016.3C1267.0 1014.7 1268.3 1012.9 1269.6 1011.2C1271.0 1009.6 1272.3 1007.8 1273.6 1006.2C1275.0 1004.5 1276.3 1002.8 1277.6 1001.2C1279.0 999.5 1280.3 997.8 1281.6 996.1C1283.0 994.5 1284.3 992.8 1285.6 991.1C1287.0 989.4 1288.3 987.8 1289.6 986.2C1291.0 984.5 1292.3 983.0 1293.6 981.4C1295.0 979.9 1296.3 978.4 1297.6 976.9C1299.0 975.5 1300.3 974.0 1301.6 972.6C1303.0 971.2 1304.3 969.8 1305.6 968.5C1307.0 967.2 1308.3 965.9 1309.6 964.8C1311.0 963.7 1312.3 962.7 1313.6 961.8C1315.0 961.0 1316.3 960.2 1317.6 959.4C1319.0 958.7 1320.3 957.9 1321.6 957.2C1323.0 956.5 1324.3 955.8 1325.6 955.2C1327.0 954.5 1328.3 953.9 1329.6 953.4C1331.0 952.9 1332.3 952.4 1333.6 952.0C1335.0 951.6 1336.3 951.3 1337.6 950.9C1339.0 950.6 1340.3 950.3 1341.6 950.1C1343.0 949.8 1344.3 949.6 1345.6 949.4C1347.0 949.2 1348.3 949.0 1349.6 948.9C1351.0 948.7 1352.3 948.5 1353.6 948.3C1355.0 948.2 1356.3 948.0 1357.6 947.9C1359.0 947.8 1360.3 947.7 1361.6 947.6C1363.0 947.5 1364.3 947.4 1365.6 947.3C1367.0 947.2 1368.3 947.2 1369.6 947.1C1371.0 947.0 1372.3 946.9 1373.6 946.9C1375.0 946.8 1376.3 946.7 1377.6 946.7C1379.0 946.6 1380.3 946.5 1381.6 946.5C1383.0 946.4 1384.3 946.4 1385.6 946.3C1387.0 946.3 1388.3 946.2 1389.6 946.2C1391.0 946.2 1392.3 946.1 1393.6 946.1C1395.0 946.1 1396.3 946.0 1397.6 946.0C1399.0 946.0 1400.3 946.0 1401.6 946.0C1403.0 945.9 1404.3 945.9 1405.6 945.9C1407.0 945.9 1408.3 945.8 1409.6 945.8C1411.0 945.8 1412.3 945.8 1413.6 945.7C1415.0 945.7 1416.3 945.7 1417.6 945.7C1419.0 945.6 1420.3 945.6 1421.6 945.6C1423.0 945.5 1424.3 945.5 1425.6 945.5C1427.0 945.5 1428.3 945.4 1429.6 945.4C1431.0 945.4 1432.3 945.4 1433.6 945.3C1435.0 945.3 1436.3 945.3 1437.6 945.3C1439.0 945.3 1440.3 945.2 1441.6 945.2C1443.0 945.2 1444.3 945.2 1445.6 945.2C1447.0 945.2 1448.3 945.1 1449.6 945.1C1451.0 945.1 1452.3 945.1 1453.6 945.1C1455.0 945.1 1456.3 945.1 1457.6 945.1C1459.0 945.1 1460.3 945.1 1461.6 945.1C1463.0 945.1 1464.3 945.1 1465.6 945.1C1467.0 945.1 1468.3 945.1 1469.6 945.1C1471.0 945.1 1472.3 945.1 1473.6 945.1C1475.0 945.2 1476.3 945.2 1477.6 945.2C1479.0 945.2 1480.3 945.3 1481.6 945.3C1483.0 945.3 1484.3 945.3 1485.6 945.4C1487.0 945.4 1488.3 945.5 1489.6 945.5C1491.0 945.6 1492.3 945.6 1493.6 945.7C1495.0 945.7 1496.3 945.8 1497.6 945.8C1499.0 945.9 1500.3 946.0 1501.6 946.0C1503.0 946.1 1504.3 946.1 1505.6 946.2C1507.0 946.3 1508.3 946.3 1509.6 946.4C1511.0 946.4 1512.3 946.5 1513.6 946.5C1515.0 946.6 1516.3 946.7 1517.6 946.7C1519.0 946.8 1520.5 946.8 1521.6 946.9C1522.7 946.9 1523.8 947.0 1524.2 947.0" fill="none" stroke="#0000ff" stroke-width="3.4" stroke-linejoin="round"/>
<path d="M589.6 937.4C590.3 937.4 592.3 937.4 593.6 937.4C595.0 937.4 596.3 937.3 597.6 937.3C599.0 937.3 600.3 937.3 601.6 937.3C603.0 937.3 604.3 937.3 605.6 937.3C607.0 937.3 608.3 937.3 609.6 937.3C611.0 937.3 612.3 937.3 613.6 937.3C615.0 937.3 616.3 937.3 617.6 937.3C619.0 937.3 620.3 937.3 621.6 937.3C623.0 937.2 624.3 937.2 625.6 937.2C627.0 937.2 628.3 937.2 629.6 937.2C631.0 937.2 632.3 937.2 633.6 937.2C635.0 937.2 636.3 937.2 637.6 937.2C639.0 937.2 640.3 937.2 641.6 937.2C643.0 937.2 644.3 937.2 645.6 937.2C647.0 937.2 648.3 937.1 649.6 937.1C651.0 937.1 652.3 937.1 653.6 937.1C655.0 937.1 656.3 937.1 657.6 937.1C659.0 937.1 660.3 937.1 661.6 937.1C663.0 937.1 664.3 937.1 665.6 937.1C667.0 937.1 668.3 937.1 669.6 937.1C671.0 937.0 672.3 937.0 673.6 937.0C675.0 937.0 676.3 937.0 677.6 937.0C679.0 937.0 680.3 937.0 681.6 937.0C683.0 937.0 684.3 937.0 685.6 937.0C687.0 937.0 688.3 937.0 689.6 937.0C691.0 936.9 692.3 936.9 693.6 936.9C695.0 936.9 696.3 936.9 697.6 936.9C699.0 936.9 700.3 936.9 701.6 936.9C703.0 936.9 704.3 936.9 705.6 936.9C707.0 936.8 708.3 936.8 709.6 936.8C711.0 936.8 712.3 936.8 713.6 936.8C715.0 936.8 716.3 936.8 717.6 936.8C719.0 936.8 720.3 936.8 721.6 936.7C723.0 936.7 724.3 936.7 725.6 936.7C727.0 936.7 728.3 936.7 729.6 936.7C731.0 936.7 732.3 936.7 733.6 936.7C735.0 936.6 736.3 936.6 737.6 936.6C739.0 936.6 740.3 936.6 741.6 936.6C743.0 936.6 744.3 936.6 745.6 936.6C747.0 936.5 748.3 936.5 749.6 936.5C751.0 936.5 752.3 936.5 753.6 936.5C755.0 936.5 756.3 936.5 757.6 936.5C759.0 936.4 760.3 936.4 761.6 936.4C763.0 936.4 764.3 936.4 765.6 936.4C767.0 936.4 768.3 936.4 769.6 936.4C771.0 936.3 772.3 936.3 773.6 936.3C775.0 936.3 776.3 936.3 777.6 936.3C779.0 936.3 780.3 936.3 781.6 936.3C783.0 936.2 784.3 936.2 785.6 936.2C787.0 936.2 788.3 936.2 789.6 936.2C791.0 936.2 792.3 936.2 793.6 936.2C795.0 936.1 796.3 936.1 797.6 936.1C799.0 936.1 800.3 936.1 801.6 936.1C803.0 936.1 804.3 936.1 805.6 936.1C807.0 936.0 808.3 936.0 809.6 936.0C811.0 936.0 812.3 936.0 813.6 936.0C815.0 936.0 816.3 936.0 817.6 936.0C819.0 935.9 820.3 935.9 821.6 935.9C823.0 935.9 824.3 935.9 825.6 935.9C827.0 935.9 828.3 935.9 829.6 935.9C831.0 935.8 832.3 935.8 833.6 935.8C835.0 935.8 836.3 935.8 837.6 935.8C839.0 935.8 840.3 935.8 841.6 935.8C843.0 935.7 844.3 935.7 845.6 935.7C847.0 935.7 848.3 935.7 849.6 935.7C851.0 935.7 852.3 935.7 853.6 935.7C855.0 935.7 856.3 935.6 857.6 935.6C859.0 935.6 860.3 935.6 861.6 935.6C863.0 935.6 864.3 935.6 865.6 935.6C867.0 935.6 868.3 935.5 869.6 935.5C871.0 935.5 872.3 935.5 873.6 935.5C875.0 935.5 876.3 935.5 877.6 935.5C879.0 935.5 880.3 935.4 881.6 935.4C883.0 935.4 884.3 935.4 885.6 935.4C887.0 935.4 888.3 935.4 889.6 935.4C891.0 935.4 892.3 935.3 893.6 935.3C895.0 935.3 896.3 935.3 897.6 935.3C899.0 935.3 900.3 935.3 901.6 935.3C903.0 935.3 904.3 935.3 905.6 935.2C907.0 935.2 908.3 935.2 909.6 935.2C911.0 935.2 912.3 935.2 913.6 935.2C915.0 935.2 916.3 935.2 917.6 935.1C919.0 935.1 920.3 935.1 921.6 935.1C923.0 935.1 924.3 935.1 925.6 935.1C927.0 935.1 928.3 935.1 929.6 935.1C931.0 935.0 932.3 935.0 933.6 935.0C935.0 935.0 936.3 935.0 937.6 935.0C939.0 935.0 940.3 935.0 941.6 935.0C943.0 935.0 944.3 934.9 945.6 934.9C947.0 934.9 948.3 934.9 949.6 934.9C951.0 934.9 952.3 934.9 953.6 934.9C955.0 934.9 956.3 934.9 957.6 934.8C959.0 934.8 960.3 934.8 961.6 934.8C963.0 934.8 964.3 934.8 965.6 934.8C967.0 934.8 968.3 934.8 969.6 934.8C971.0 934.7 972.3 934.7 973.6 934.7C975.0 934.7 976.3 934.7 977.6 934.7C979.0 934.7 980.3 934.7 981.6 934.7C983.0 934.7 984.3 934.6 985.6 934.6C987.0 934.6 988.3 934.6 989.6 934.6C991.0 934.6 992.3 934.6 993.6 934.6C995.0 934.6 996.3 934.6 997.6 934.6C999.0 934.5 1000.3 934.5 1001.6 934.5C1003.0 934.5 1004.3 934.5 1005.6 934.5C1007.0 934.5 1008.3 934.5 1009.6 934.5C1011.0 934.5 1012.3 934.4 1013.6 934.4C1015.0 934.4 1016.3 934.4 1017.6 934.4C1019.0 934.4 1020.3 934.4 1021.6 934.4C1023.0 934.4 1024.3 934.4 1025.6 934.4C1027.0 934.3 1028.3 934.3 1029.6 934.3C1031.0 934.3 1032.3 934.3 1033.6 934.3C1035.0 934.3 1036.3 934.3 1037.6 934.3C1039.0 934.3 1040.3 934.3 1041.6 934.2C1043.0 934.2 1044.3 934.2 1045.6 934.2C1047.0 934.2 1048.3 934.2 1049.6 934.2C1051.0 934.2 1052.3 934.2 1053.6 934.2C1055.0 934.1 1056.3 934.1 1057.6 934.1C1059.0 934.1 1060.3 934.0 1061.6 934.0C1063.0 934.0 1064.3 933.9 1065.6 933.9C1067.0 933.9 1068.3 933.8 1069.6 933.8C1071.0 933.8 1072.3 933.7 1073.6 933.7C1075.0 933.7 1076.3 933.7 1077.6 933.6C1079.0 933.6 1080.3 933.6 1081.6 933.5C1083.0 933.5 1084.3 933.5 1085.6 933.5C1087.0 933.4 1088.3 933.4 1089.6 933.4C1091.0 933.4 1092.3 933.4 1093.6 933.3C1095.0 933.3 1096.3 933.3 1097.6 933.3C1099.0 933.3 1100.3 933.3 1101.6 933.2C1103.0 933.2 1104.3 933.2 1105.6 933.2C1107.0 933.2 1108.3 933.2 1109.6 933.2C1111.0 933.2 1112.3 933.2 1113.6 933.2C1115.0 933.1 1116.3 933.1 1117.6 933.1C1119.0 933.1 1120.3 933.1 1121.6 933.1C1123.0 933.1 1124.3 933.1 1125.6 933.1C1127.0 933.1 1128.3 933.1 1129.6 933.1C1131.0 933.1 1132.3 933.1 1133.6 933.1C1135.0 933.1 1136.3 933.1 1137.6 933.2C1139.0 933.2 1140.3 933.2 1141.6 933.2C1143.0 933.2 1144.3 933.2 1145.6 933.3C1147.0 933.3 1148.3 933.3 1149.6 933.4C1151.0 933.5 1152.3 933.5 1153.6 933.6C1155.0 933.7 1156.3 933.8 1157.6 933.9C1159.0 934.1 1160.3 934.2 1161.6 934.4C1163.0 934.6 1164.3 934.8 1165.6 935.0C1167.0 935.3 1168.3 935.6 1169.6 935.9C1171.0 936.2 1172.3 936.7 1173.6 937.0C1175.0 937.3 1176.3 937.5 1177.6 937.8C1179.0 938.0 1180.3 938.2 1181.6 938.5C1183.0 938.7 1184.3 938.9 1185.6 939.1C1187.0 939.3 1188.3 939.4 1189.6 939.6C1191.0 939.8 1192.3 940.0 1193.6 940.2C1195.0 940.3 1196.3 940.5 1197.6 940.6C1199.0 940.8 1200.3 941.0 1201.6 941.1C1203.0 941.3 1204.3 941.4 1205.6 941.6C1207.0 941.7 1208.3 941.8 1209.6 942.0C1211.0 942.1 1212.3 942.2 1213.6 942.3C1215.0 942.4 1216.3 942.5 1217.6 942.6C1219.0 942.7 1220.3 942.8 1221.6 942.8C1223.0 942.9 1224.3 942.9 1225.6 943.0C1227.0 943.0 1228.3 943.1 1229.6 943.1C1231.0 943.2 1232.3 943.2 1233.6 943.2C1235.0 943.3 1236.3 943.3 1237.6 943.3C1239.0 943.3 1240.3 943.3 1241.6 943.4C1243.0 943.4 1244.3 943.4 1245.6 943.4C1247.0 943.4 1248.3 943.4 1249.6 943.4C1251.0 943.4 1252.3 943.3 1253.6 943.3C1255.0 943.3 1256.3 943.2 1257.6 943.2C1259.0 943.1 1260.3 943.0 1261.6 943.0C1263.0 942.9 1264.3 942.8 1265.6 942.7C1267.0 942.6 1268.3 942.6 1269.6 942.5C1271.0 942.4 1272.3 942.3 1273.6 942.2C1275.0 942.1 1276.3 941.9 1277.6 941.8C1279.0 941.7 1280.3 941.6 1281.6 941.5C1283.0 941.4 1284.3 941.3 1285.6 941.2C1287.0 941.0 1288.3 940.9 1289.6 940.8C1291.0 940.7 1292.3 940.6 1293.6 940.5C1295.0 940.4 1296.3 940.3 1297.6 940.2C1299.0 940.1 1300.3 940.0 1301.6 939.9C1303.0 939.8 1304.3 939.7 1305.6 939.6C1307.0 939.5 1308.3 939.5 1309.6 939.4C1311.0 939.3 1312.3 939.2 1313.6 939.1C1315.0 939.0 1316.3 939.0 1317.6 938.9C1319.0 938.8 1320.3 938.8 1321.6 938.7C1323.0 938.6 1324.3 938.6 1325.6 938.5C1327.0 938.4 1328.3 938.4 1329.6 938.3C1331.0 938.3 1332.3 938.3 1333.6 938.2C1335.0 938.2 1336.3 938.2 1337.6 938.1C1339.0 938.1 1340.3 938.1 1341.6 938.0C1343.0 938.0 1344.3 938.0 1345.6 938.0C1347.0 937.9 1348.3 937.9 1349.6 937.9C1351.0 937.9 1352.3 937.9 1353.6 937.8C1355.0 937.8 1356.3 937.8 1357.6 937.8C1359.0 937.8 1360.3 937.8 1361.6 937.8C1363.0 937.7 1364.3 937.7 1365.6 937.7C1367.0 937.7 1368.3 937.7 1369.6 937.7C1371.0 937.7 1372.3 937.7 1373.6 937.7C1375.0 937.7 1376.3 937.7 1377.6 937.7C1379.0 937.6 1380.3 937.6 1381.6 937.6C1383.0 937.6 1384.3 937.6 1385.6 937.6C1387.0 937.6 1388.3 937.6 1389.6 937.6C1391.0 937.6 1392.3 937.6 1393.6 937.6C1395.0 937.6 1396.3 937.6 1397.6 937.6C1399.0 937.6 1400.3 937.6 1401.6 937.6C1403.0 937.6 1404.3 937.6 1405.6 937.6C1407.0 937.6 1408.3 937.6 1409.6 937.5C1411.0 937.5 1412.3 937.5 1413.6 937.5C1415.0 937.5 1416.3 937.5 1417.6 937.5C1419.0 937.5 1420.3 937.5 1421.6 937.5C1423.0 937.5 1424.3 937.5 1425.6 937.5C1427.0 937.5 1428.3 937.5 1429.6 937.5C1431.0 937.5 1432.3 937.5 1433.6 937.5C1435.0 937.5 1436.3 937.5 1437.6 937.5C1439.0 937.5 1440.3 937.5 1441.6 937.5C1443.0 937.5 1444.3 937.5 1445.6 937.5C1447.0 937.5 1448.3 937.5 1449.6 937.5C1451.0 937.5 1452.3 937.5 1453.6 937.5C1455.0 937.5 1456.3 937.5 1457.6 937.5C1459.0 937.5 1460.3 937.5 1461.6 937.5C1463.0 937.5 1464.3 937.5 1465.6 937.5C1467.0 937.5 1468.3 937.4 1469.6 937.4C1471.0 937.4 1472.3 937.4 1473.6 937.4C1475.0 937.4 1476.3 937.4 1477.6 937.4C1479.0 937.4 1480.3 937.4 1481.6 937.4C1483.0 937.4 1484.3 937.4 1485.6 937.4C1487.0 937.4 1488.3 937.4 1489.6 937.4C1491.0 937.4 1492.3 937.4 1493.6 937.4C1495.0 937.4 1496.3 937.4 1497.6 937.4C1499.0 937.4 1500.3 937.4 1501.6 937.4C1503.0 937.4 1504.3 937.4 1505.6 937.4C1507.0 937.4 1508.3 937.4 1509.6 937.4C1511.0 937.4 1512.3 937.4 1513.6 937.4C1515.0 937.4 1516.3 937.4 1517.6 937.4C1519.0 937.4 1520.5 937.4 1521.6 937.4C1522.7 937.4 1523.8 937.4 1524.2 937.4" fill="none" stroke="#0000ff" stroke-width="1.5" stroke-linejoin="round"/>
<path d="M589.6 939.6C590.3 939.6 592.3 939.7 593.6 939.8C595.0 939.9 596.3 939.9 597.6 940.0C599.0 940.1 600.3 940.2 601.6 940.3C603.0 940.3 604.3 940.4 605.6 940.5C607.0 940.6 608.3 940.7 609.6 940.8C611.0 940.9 612.3 941.0 613.6 941.2C615.0 941.4 616.3 941.5 617.6 941.8C619.0 942.0 620.3 942.3 621.6 942.7C623.0 943.1 624.3 943.6 625.6 944.1C627.0 944.6 628.3 945.1 629.6 945.7C631.0 946.2 632.3 946.8 633.6 947.3C635.0 947.9 636.3 948.4 637.6 948.9C639.0 949.4 640.3 949.9 641.6 950.3C643.0 950.6 644.3 950.9 645.6 951.2C647.0 951.4 648.3 951.6 649.6 951.7C651.0 951.8 652.3 951.9 653.6 951.9C655.0 951.9 656.3 951.8 657.6 951.7C659.0 951.6 660.3 951.5 661.6 951.3C663.0 951.1 664.3 950.9 665.6 950.6C667.0 950.4 668.3 950.1 669.6 949.9C671.0 949.6 672.3 949.4 673.6 949.1C675.0 948.9 676.3 948.7 677.6 948.5C679.0 948.3 680.3 948.1 681.6 947.9C683.0 947.7 684.3 947.5 685.6 947.3C687.0 947.1 688.3 947.0 689.6 946.9C691.0 946.8 692.3 946.7 693.6 946.6C695.0 946.5 696.3 946.4 697.6 946.3C699.0 946.3 700.3 946.2 701.6 946.2C703.0 946.2 704.3 946.1 705.6 946.2C707.0 946.2 708.3 946.2 709.6 946.3C711.0 946.4 712.3 946.6 713.6 946.8C715.0 947.0 716.3 947.3 717.6 947.6C719.0 947.9 720.3 948.2 721.6 948.5C723.0 948.8 724.3 949.1 725.6 949.3C727.0 949.6 728.3 949.8 729.6 950.0C731.0 950.2 732.3 950.4 733.6 950.6C735.0 950.9 736.3 951.1 737.6 951.4C739.0 951.6 740.3 952.0 741.6 952.3C743.0 952.6 744.3 952.9 745.6 953.2C747.0 953.5 748.3 953.8 749.6 954.0C751.0 954.2 752.3 954.3 753.6 954.4C755.0 954.5 756.3 954.5 757.6 954.5C759.0 954.5 760.3 954.5 761.6 954.6C763.0 954.6 764.3 954.7 765.6 954.8C767.0 955.0 768.3 955.2 769.6 955.5C771.0 955.7 772.3 956.1 773.6 956.3C775.0 956.6 776.3 956.9 777.6 957.1C779.0 957.3 780.3 957.5 781.6 957.7C783.0 957.8 784.3 958.0 785.6 958.1C787.0 958.3 788.3 958.5 789.6 958.7C791.0 958.9 792.3 959.2 793.6 959.5C795.0 959.8 796.3 960.3 797.6 960.6C799.0 961.0 800.3 961.5 801.6 961.8C803.0 962.1 804.3 962.3 805.6 962.4C807.0 962.5 808.3 962.5 809.6 962.4C811.0 962.3 812.3 962.0 813.6 961.8C815.0 961.6 816.3 961.2 817.6 961.1C819.0 960.9 820.3 960.8 821.6 960.9C823.0 960.9 824.3 961.0 825.6 961.2C827.0 961.3 828.3 961.6 829.6 961.8C831.0 961.9 832.3 962.1 833.6 962.2C835.0 962.3 836.3 962.3 837.6 962.3C839.0 962.2 840.3 962.1 841.6 961.9C843.0 961.8 844.3 961.6 845.6 961.6C847.0 961.5 848.3 961.5 849.6 961.6C851.0 961.6 852.3 961.8 853.6 962.1C855.0 962.3 856.3 962.7 857.6 962.9C859.0 963.2 860.3 963.6 861.6 963.8C863.0 964.1 864.3 964.4 865.6 964.6C867.0 964.8 868.3 965.0 869.6 965.2C871.0 965.5 872.3 965.7 873.6 965.9C875.0 966.1 876.3 966.3 877.6 966.5C879.0 966.7 880.3 966.9 881.6 967.1C883.0 967.3 884.3 967.5 885.6 967.6C887.0 967.8 888.3 967.9 889.6 968.1C891.0 968.2 892.3 968.3 893.6 968.4C895.0 968.5 896.3 968.5 897.6 968.6C899.0 968.7 900.3 968.7 901.6 968.8C903.0 969.0 904.3 969.1 905.6 969.3C907.0 969.5 908.3 969.8 909.6 970.1C911.0 970.3 912.3 970.7 913.6 971.0C915.0 971.3 916.3 971.6 917.6 971.9C919.0 972.2 920.3 972.5 921.6 972.7C923.0 972.9 924.3 973.1 925.6 973.3C927.0 973.4 928.3 973.5 929.6 973.7C931.0 973.8 932.3 973.9 933.6 974.1C935.0 974.3 936.3 974.4 937.6 974.6C939.0 974.8 940.3 975.0 941.6 975.3C943.0 975.6 944.3 975.9 945.6 976.2C947.0 976.5 948.3 976.8 949.6 977.2C951.0 977.5 952.3 977.9 953.6 978.2C955.0 978.6 956.3 979.0 957.6 979.3C959.0 979.6 960.3 980.0 961.6 980.3C963.0 980.7 964.3 981.0 965.6 981.3C967.0 981.5 968.3 981.8 969.6 982.0C971.0 982.3 972.3 982.5 973.6 982.7C975.0 982.9 976.3 983.1 977.6 983.4C979.0 983.6 980.3 983.9 981.6 984.2C983.0 984.5 984.3 984.8 985.6 985.2C987.0 985.6 988.3 986.0 989.6 986.5C991.0 987.0 992.3 987.5 993.6 988.0C995.0 988.5 996.3 989.0 997.6 989.5C999.0 990.0 1000.3 990.4 1001.6 990.9C1003.0 991.3 1004.3 991.7 1005.6 992.0C1007.0 992.4 1008.3 992.7 1009.6 993.0C1011.0 993.3 1012.3 993.5 1013.6 993.8C1015.0 994.1 1016.3 994.3 1017.6 994.6C1019.0 994.8 1020.3 995.1 1021.6 995.4C1023.0 995.6 1024.3 995.9 1025.6 996.2C1027.0 996.5 1028.3 996.8 1029.6 997.1C1031.0 997.4 1032.3 997.7 1033.6 998.0C1035.0 998.3 1036.3 998.6 1037.6 998.9C1039.0 999.2 1040.3 999.5 1041.6 999.8C1043.0 1000.1 1044.3 1000.4 1045.6 1000.7C1047.0 1001.0 1048.3 1001.4 1049.6 1001.7C1051.0 1002.0 1052.3 1002.3 1053.6 1002.6C1055.0 1002.9 1056.3 1003.2 1057.6 1003.5C1059.0 1003.8 1060.3 1004.1 1061.6 1004.4C1063.0 1004.7 1064.3 1005.0 1065.6 1005.3C1067.0 1005.6 1068.3 1005.8 1069.6 1006.1C1071.0 1006.4 1072.3 1006.6 1073.6 1006.8C1075.0 1007.1 1076.3 1007.3 1077.6 1007.5C1079.0 1007.7 1080.3 1007.9 1081.6 1008.1C1083.0 1008.3 1084.3 1008.5 1085.6 1008.6C1087.0 1008.8 1088.3 1008.9 1089.6 1009.1C1091.0 1009.2 1092.3 1009.3 1093.6 1009.4C1095.0 1009.4 1096.3 1009.5 1097.6 1009.5C1099.0 1009.6 1100.3 1009.6 1101.6 1009.5C1103.0 1009.5 1104.3 1009.4 1105.6 1009.2C1107.0 1009.0 1108.3 1008.8 1109.6 1008.4C1111.0 1008.1 1112.3 1007.7 1113.6 1007.3C1115.0 1006.8 1116.3 1006.3 1117.6 1005.7C1119.0 1005.1 1120.3 1004.5 1121.6 1003.7C1123.0 1003.0 1124.3 1002.2 1125.6 1001.3C1127.0 1000.4 1128.3 999.5 1129.6 998.4C1131.0 997.4 1132.3 996.2 1133.6 995.0C1135.0 993.8 1136.3 992.6 1137.6 991.2C1139.0 989.9 1140.3 988.4 1141.6 986.9C1143.0 985.4 1144.3 983.7 1145.6 982.0C1147.0 980.2 1148.3 978.3 1149.6 976.3C1151.0 974.3 1152.3 972.3 1153.6 970.0C1155.0 967.7 1156.3 965.3 1157.6 962.7C1159.0 960.0 1160.3 957.3 1161.6 954.3C1163.0 951.3 1164.3 948.1 1165.6 944.7C1167.0 941.3 1168.3 937.6 1169.6 933.9C1171.0 930.1 1172.3 926.3 1173.6 922.3C1175.0 918.4 1176.3 914.4 1177.6 910.2C1179.0 906.1 1180.3 901.8 1181.6 897.3C1183.0 892.8 1184.3 888.1 1185.6 883.4C1187.0 878.7 1188.3 873.9 1189.6 869.2C1191.0 864.5 1192.3 859.7 1193.6 855.0C1195.0 850.3 1196.3 845.6 1197.6 841.1C1199.0 836.6 1200.3 832.3 1201.6 828.1C1203.0 823.9 1204.3 819.8 1205.6 815.9C1207.0 812.1 1208.3 808.4 1209.6 804.9C1211.0 801.5 1212.3 798.3 1213.6 795.3C1215.0 792.2 1216.3 789.5 1217.6 786.9C1219.0 784.4 1220.3 782.1 1221.6 780.0C1223.0 778.0 1224.3 776.2 1225.6 774.6C1227.0 773.1 1228.3 771.8 1229.6 770.8C1231.0 769.8 1232.3 769.1 1233.6 768.6C1235.0 768.2 1236.3 767.9 1237.6 767.9C1239.0 767.9 1240.3 768.1 1241.6 768.6C1243.0 769.1 1244.3 769.8 1245.6 770.7C1247.0 771.6 1248.3 772.8 1249.6 774.2C1251.0 775.5 1252.3 777.2 1253.6 779.0C1255.0 780.8 1256.3 782.8 1257.6 785.0C1259.0 787.1 1260.3 789.5 1261.6 792.0C1263.0 794.5 1264.3 797.1 1265.6 799.9C1267.0 802.6 1268.3 805.5 1269.6 808.4C1271.0 811.3 1272.3 814.4 1273.6 817.4C1275.0 820.5 1276.3 823.5 1277.6 826.6C1279.0 829.6 1280.3 832.7 1281.6 835.7C1283.0 838.6 1284.3 841.6 1285.6 844.5C1287.0 847.4 1288.3 850.2 1289.6 852.9C1291.0 855.6 1292.3 858.2 1293.6 860.8C1295.0 863.3 1296.3 865.7 1297.6 868.0C1299.0 870.3 1300.3 872.5 1301.6 874.6C1303.0 876.7 1304.3 878.7 1305.6 880.6C1307.0 882.5 1308.3 884.4 1309.6 886.0C1311.0 887.7 1312.3 889.3 1313.6 890.8C1315.0 892.2 1316.3 893.5 1317.6 894.8C1319.0 896.1 1320.3 897.3 1321.6 898.4C1323.0 899.5 1324.3 900.5 1325.6 901.5C1327.0 902.5 1328.3 903.4 1329.6 904.2C1331.0 905.0 1332.3 905.8 1333.6 906.5C1335.0 907.2 1336.3 907.8 1337.6 908.4C1339.0 909.0 1340.3 909.5 1341.6 909.9C1343.0 910.4 1344.3 910.8 1345.6 911.2C1347.0 911.6 1348.3 911.9 1349.6 912.3C1351.0 912.6 1352.3 912.9 1353.6 913.3C1355.0 913.6 1356.3 913.9 1357.6 914.1C1359.0 914.4 1360.3 914.6 1361.6 914.8C1363.0 915.0 1364.3 915.1 1365.6 915.3C1367.0 915.4 1368.3 915.5 1369.6 915.6C1371.0 915.7 1372.3 915.8 1373.6 915.9C1375.0 916.0 1376.3 916.1 1377.6 916.2C1379.0 916.3 1380.3 916.4 1381.6 916.5C1383.0 916.6 1384.3 916.7 1385.6 916.8C1387.0 916.9 1388.3 917.0 1389.6 917.1C1391.0 917.2 1392.3 917.3 1393.6 917.4C1395.0 917.5 1396.3 917.6 1397.6 917.7C1399.0 917.8 1400.3 917.9 1401.6 918.0C1403.0 918.1 1404.3 918.2 1405.6 918.2C1407.0 918.3 1408.3 918.4 1409.6 918.5C1411.0 918.6 1412.3 918.7 1413.6 918.7C1415.0 918.8 1416.3 918.9 1417.6 919.0C1419.0 919.0 1420.3 919.1 1421.6 919.2C1423.0 919.2 1424.3 919.3 1425.6 919.3C1427.0 919.4 1428.3 919.5 1429.6 919.5C1431.0 919.6 1432.3 919.7 1433.6 919.7C1435.0 919.8 1436.3 919.9 1437.6 919.9C1439.0 920.0 1440.3 920.1 1441.6 920.2C1443.0 920.2 1444.3 920.3 1445.6 920.4C1447.0 920.5 1448.3 920.6 1449.6 920.6C1451.0 920.7 1452.3 920.8 1453.6 920.8C1455.0 920.9 1456.3 920.9 1457.6 921.0C1459.0 921.0 1460.3 921.0 1461.6 921.0C1463.0 921.0 1464.3 921.0 1465.6 921.0C1467.0 921.0 1468.3 921.0 1469.6 921.0C1471.0 920.9 1472.3 920.9 1473.6 920.9C1475.0 920.8 1476.3 920.8 1477.6 920.7C1479.0 920.7 1480.3 920.6 1481.6 920.6C1483.0 920.5 1484.3 920.5 1485.6 920.4C1487.0 920.4 1488.3 920.3 1489.6 920.2C1491.0 920.2 1492.3 920.1 1493.6 920.0C1495.0 919.9 1496.3 919.8 1497.6 919.8C1499.0 919.7 1500.3 919.6 1501.6 919.5C1503.0 919.4 1504.3 919.3 1505.6 919.2C1507.0 919.1 1508.3 919.0 1509.6 918.9C1511.0 918.8 1512.3 918.6 1513.6 918.5C1515.0 918.4 1516.3 918.2 1517.6 918.1C1519.0 918.0 1520.5 917.8 1521.6 917.7C1522.7 917.6 1523.8 917.5 1524.2 917.5" fill="none" stroke="#ff0000" stroke-width="6.2" stroke-linejoin="round"/>
<path d="M589.6 938.6C590.3 938.7 592.3 938.8 593.6 938.8C595.0 938.9 596.3 939.0 597.6 939.1C599.0 939.1 600.3 939.2 601.6 939.3C603.0 939.4 604.3 939.5 605.6 939.6C607.0 939.6 608.3 939.7 609.6 939.8C611.0 939.9 612.3 940.0 613.6 940.1C615.0 940.2 616.3 940.3 617.6 940.4C619.0 940.5 620.3 940.6 621.6 940.7C623.0 940.8 624.3 941.0 625.6 941.1C627.0 941.3 628.3 941.5 629.6 941.8C631.0 942.0 632.3 942.3 633.6 942.6C635.0 942.9 636.3 943.2 637.6 943.4C639.0 943.7 640.3 944.0 641.6 944.2C643.0 944.4 644.3 944.5 645.6 944.7C647.0 944.8 648.3 944.9 649.6 945.0C651.0 945.0 652.3 945.1 653.6 945.1C655.0 945.1 656.3 945.1 657.6 945.0C659.0 945.0 660.3 944.9 661.6 944.8C663.0 944.7 664.3 944.6 665.6 944.5C667.0 944.3 668.3 944.2 669.6 944.1C671.0 943.9 672.3 943.8 673.6 943.7C675.0 943.5 676.3 943.4 677.6 943.2C679.0 943.1 680.3 943.0 681.6 942.8C683.0 942.7 684.3 942.5 685.6 942.4C687.0 942.3 688.3 942.1 689.6 942.0C691.0 941.9 692.3 941.9 693.6 941.8C695.0 941.7 696.3 941.7 697.6 941.6C699.0 941.6 700.3 941.5 701.6 941.5C703.0 941.5 704.3 941.5 705.6 941.5C707.0 941.5 708.3 941.5 709.6 941.5C711.0 941.5 712.3 941.6 713.6 941.7C715.0 941.7 716.3 941.9 717.6 942.0C719.0 942.1 720.3 942.2 721.6 942.4C723.0 942.5 724.3 942.6 725.6 942.8C727.0 942.9 728.3 943.0 729.6 943.2C731.0 943.3 732.3 943.4 733.6 943.6C735.0 943.7 736.3 943.9 737.6 944.0C739.0 944.2 740.3 944.4 741.6 944.6C743.0 944.8 744.3 945.0 745.6 945.2C747.0 945.4 748.3 945.5 749.6 945.6C751.0 945.8 752.3 945.8 753.6 945.9C755.0 945.9 756.3 945.9 757.6 945.9C759.0 945.9 760.3 945.8 761.6 945.8C763.0 945.8 764.3 945.8 765.6 945.8C767.0 945.9 768.3 946.0 769.6 946.1C771.0 946.2 772.3 946.3 773.6 946.4C775.0 946.5 776.3 946.7 777.6 946.8C779.0 946.9 780.3 947.0 781.6 947.1C783.0 947.3 784.3 947.4 785.6 947.5C787.0 947.7 788.3 947.8 789.6 948.0C791.0 948.1 792.3 948.3 793.6 948.5C795.0 948.8 796.3 949.0 797.6 949.3C799.0 949.5 800.3 949.8 801.6 950.0C803.0 950.2 804.3 950.4 805.6 950.5C807.0 950.5 808.3 950.5 809.6 950.4C811.0 950.3 812.3 950.1 813.6 949.9C815.0 949.8 816.3 949.6 817.6 949.4C819.0 949.3 820.3 949.3 821.6 949.3C823.0 949.3 824.3 949.4 825.6 949.5C827.0 949.6 828.3 949.8 829.6 949.9C831.0 950.0 832.3 950.2 833.6 950.2C835.0 950.3 836.3 950.3 837.6 950.3C839.0 950.3 840.3 950.2 841.6 950.2C843.0 950.1 844.3 950.0 845.6 950.0C847.0 949.9 848.3 949.9 849.6 949.9C851.0 950.0 852.3 950.0 853.6 950.1C855.0 950.2 856.3 950.3 857.6 950.5C859.0 950.6 860.3 950.7 861.6 950.9C863.0 951.0 864.3 951.1 865.6 951.3C867.0 951.4 868.3 951.5 869.6 951.7C871.0 951.8 872.3 951.9 873.6 952.1C875.0 952.2 876.3 952.4 877.6 952.5C879.0 952.6 880.3 952.8 881.6 952.9C883.0 953.0 884.3 953.2 885.6 953.3C887.0 953.4 888.3 953.5 889.6 953.6C891.0 953.7 892.3 953.7 893.6 953.8C895.0 953.8 896.3 953.9 897.6 953.9C899.0 953.9 900.3 954.0 901.6 954.0C903.0 954.1 904.3 954.2 905.6 954.3C907.0 954.4 908.3 954.6 909.6 954.8C911.0 954.9 912.3 955.1 913.6 955.3C915.0 955.5 916.3 955.7 917.6 955.9C919.0 956.0 920.3 956.2 921.6 956.3C923.0 956.5 924.3 956.6 925.6 956.7C927.0 956.8 928.3 956.9 929.6 956.9C931.0 957.0 932.3 957.1 933.6 957.2C935.0 957.3 936.3 957.4 937.6 957.5C939.0 957.6 940.3 957.8 941.6 957.9C943.0 958.1 944.3 958.3 945.6 958.4C947.0 958.6 948.3 958.8 949.6 959.0C951.0 959.2 952.3 959.5 953.6 959.7C955.0 959.9 956.3 960.1 957.6 960.3C959.0 960.5 960.3 960.7 961.6 960.9C963.0 961.1 964.3 961.3 965.6 961.5C967.0 961.7 968.3 961.8 969.6 962.0C971.0 962.2 972.3 962.3 973.6 962.5C975.0 962.6 976.3 962.8 977.6 962.9C979.0 963.1 980.3 963.2 981.6 963.4C983.0 963.6 984.3 963.9 985.6 964.1C987.0 964.3 988.3 964.6 989.6 964.9C991.0 965.2 992.3 965.5 993.6 965.8C995.0 966.1 996.3 966.4 997.6 966.7C999.0 967.0 1000.3 967.3 1001.6 967.5C1003.0 967.8 1004.3 968.0 1005.6 968.2C1007.0 968.4 1008.3 968.6 1009.6 968.8C1011.0 969.0 1012.3 969.1 1013.6 969.3C1015.0 969.4 1016.3 969.6 1017.6 969.7C1019.0 969.9 1020.3 970.0 1021.6 970.2C1023.0 970.4 1024.3 970.5 1025.6 970.7C1027.0 970.9 1028.3 971.1 1029.6 971.3C1031.0 971.5 1032.3 971.7 1033.6 971.9C1035.0 972.1 1036.3 972.3 1037.6 972.5C1039.0 972.7 1040.3 972.9 1041.6 973.2C1043.0 973.4 1044.3 973.6 1045.6 973.8C1047.0 974.1 1048.3 974.3 1049.6 974.5C1051.0 974.8 1052.3 975.0 1053.6 975.3C1055.0 975.5 1056.3 975.8 1057.6 976.0C1059.0 976.2 1060.3 976.5 1061.6 976.7C1063.0 977.0 1064.3 977.2 1065.6 977.4C1067.0 977.6 1068.3 977.9 1069.6 978.1C1071.0 978.3 1072.3 978.5 1073.6 978.7C1075.0 978.9 1076.3 979.1 1077.6 979.3C1079.0 979.4 1080.3 979.6 1081.6 979.8C1083.0 979.9 1084.3 980.1 1085.6 980.2C1087.0 980.3 1088.3 980.5 1089.6 980.6C1091.0 980.7 1092.3 980.8 1093.6 980.9C1095.0 981.0 1096.3 981.1 1097.6 981.1C1099.0 981.2 1100.3 981.3 1101.6 981.3C1103.0 981.3 1104.3 981.3 1105.6 981.2C1107.0 981.2 1108.3 981.1 1109.6 980.9C1111.0 980.7 1112.3 980.5 1113.6 980.2C1115.0 979.9 1116.3 979.6 1117.6 979.2C1119.0 978.8 1120.3 978.4 1121.6 977.9C1123.0 977.4 1124.3 976.8 1125.6 976.2C1127.0 975.6 1128.3 975.0 1129.6 974.2C1131.0 973.5 1132.3 972.7 1133.6 971.9C1135.0 971.1 1136.3 970.2 1137.6 969.4C1139.0 968.5 1140.3 967.6 1141.6 966.6C1143.0 965.7 1144.3 964.7 1145.6 963.7C1147.0 962.7 1148.3 961.7 1149.6 960.5C1151.0 959.4 1152.3 958.2 1153.6 956.8C1155.0 955.4 1156.3 953.9 1157.6 952.3C1159.0 950.7 1160.3 948.9 1161.6 947.1C1163.0 945.3 1164.3 943.4 1165.6 941.5C1167.0 939.5 1168.3 937.5 1169.6 935.3C1171.0 933.2 1172.3 930.9 1173.6 928.6C1175.0 926.4 1176.3 924.0 1177.6 921.6C1179.0 919.2 1180.3 916.8 1181.6 914.3C1183.0 911.9 1184.3 909.4 1185.6 906.9C1187.0 904.4 1188.3 901.8 1189.6 899.3C1191.0 896.8 1192.3 894.3 1193.6 891.8C1195.0 889.3 1196.3 886.8 1197.6 884.3C1199.0 881.8 1200.3 879.3 1201.6 876.9C1203.0 874.5 1204.3 872.1 1205.6 869.9C1207.0 867.6 1208.3 865.5 1209.6 863.5C1211.0 861.5 1212.3 859.7 1213.6 858.1C1215.0 856.4 1216.3 854.8 1217.6 853.5C1219.0 852.1 1220.3 850.8 1221.6 849.7C1223.0 848.6 1224.3 847.6 1225.6 846.7C1227.0 845.9 1228.3 845.2 1229.6 844.7C1231.0 844.2 1232.3 843.8 1233.6 843.6C1235.0 843.4 1236.3 843.3 1237.6 843.4C1239.0 843.5 1240.3 843.7 1241.6 844.1C1243.0 844.4 1244.3 844.9 1245.6 845.6C1247.0 846.3 1248.3 847.1 1249.6 848.1C1251.0 849.1 1252.3 850.2 1253.6 851.5C1255.0 852.7 1256.3 854.1 1257.6 855.6C1259.0 857.1 1260.3 858.7 1261.6 860.4C1263.0 862.0 1264.3 863.8 1265.6 865.5C1267.0 867.2 1268.3 868.9 1269.6 870.6C1271.0 872.2 1272.3 873.9 1273.6 875.6C1275.0 877.2 1276.3 878.9 1277.6 880.6C1279.0 882.3 1280.3 884.0 1281.6 885.7C1283.0 887.3 1284.3 889.0 1285.6 890.5C1287.0 892.0 1288.3 893.4 1289.6 894.8C1291.0 896.2 1292.3 897.4 1293.6 898.7C1295.0 900.0 1296.3 901.3 1297.6 902.5C1299.0 903.7 1300.3 904.9 1301.6 906.0C1303.0 907.2 1304.3 908.2 1305.6 909.2C1307.0 910.2 1308.3 911.1 1309.6 912.0C1311.0 912.8 1312.3 913.6 1313.6 914.3C1315.0 915.0 1316.3 915.7 1317.6 916.3C1319.0 917.0 1320.3 917.6 1321.6 918.2C1323.0 918.7 1324.3 919.3 1325.6 919.8C1327.0 920.3 1328.3 920.8 1329.6 921.3C1331.0 921.8 1332.3 922.2 1333.6 922.6C1335.0 923.1 1336.3 923.4 1337.6 923.8C1339.0 924.1 1340.3 924.4 1341.6 924.6C1343.0 924.9 1344.3 925.0 1345.6 925.2C1347.0 925.4 1348.3 925.5 1349.6 925.7C1351.0 925.8 1352.3 926.0 1353.6 926.2C1355.0 926.3 1356.3 926.5 1357.6 926.6C1359.0 926.7 1360.3 926.8 1361.6 926.9C1363.0 927.0 1364.3 927.1 1365.6 927.1C1367.0 927.2 1368.3 927.2 1369.6 927.3C1371.0 927.3 1372.3 927.3 1373.6 927.4C1375.0 927.4 1376.3 927.4 1377.6 927.5C1379.0 927.5 1380.3 927.5 1381.6 927.6C1383.0 927.6 1384.3 927.7 1385.6 927.7C1387.0 927.7 1388.3 927.8 1389.6 927.8C1391.0 927.9 1392.3 927.9 1393.6 928.0C1395.0 928.1 1396.3 928.1 1397.6 928.2C1399.0 928.2 1400.3 928.3 1401.6 928.3C1403.0 928.4 1404.3 928.4 1405.6 928.5C1407.0 928.6 1408.3 928.6 1409.6 928.7C1411.0 928.7 1412.3 928.7 1413.6 928.8C1415.0 928.8 1416.3 928.9 1417.6 928.9C1419.0 929.0 1420.3 929.0 1421.6 929.1C1423.0 929.1 1424.3 929.1 1425.6 929.2C1427.0 929.2 1428.3 929.2 1429.6 929.3C1431.0 929.3 1432.3 929.4 1433.6 929.4C1435.0 929.4 1436.3 929.5 1437.6 929.5C1439.0 929.5 1440.3 929.6 1441.6 929.6C1443.0 929.6 1444.3 929.7 1445.6 929.7C1447.0 929.7 1448.3 929.8 1449.6 929.8C1451.0 929.8 1452.3 929.8 1453.6 929.9C1455.0 929.9 1456.3 929.9 1457.6 929.9C1459.0 929.9 1460.3 929.9 1461.6 929.9C1463.0 929.9 1464.3 929.9 1465.6 929.9C1467.0 929.8 1468.3 929.8 1469.6 929.8C1471.0 929.8 1472.3 929.7 1473.6 929.7C1475.0 929.7 1476.3 929.6 1477.6 929.6C1479.0 929.6 1480.3 929.5 1481.6 929.5C1483.0 929.4 1484.3 929.4 1485.6 929.3C1487.0 929.3 1488.3 929.2 1489.6 929.2C1491.0 929.1 1492.3 929.0 1493.6 929.0C1495.0 928.9 1496.3 928.8 1497.6 928.8C1499.0 928.7 1500.3 928.6 1501.6 928.6C1503.0 928.5 1504.3 928.4 1505.6 928.3C1507.0 928.2 1508.3 928.2 1509.6 928.1C1511.0 928.0 1512.3 927.9 1513.6 927.8C1515.0 927.7 1516.3 927.6 1517.6 927.5C1519.0 927.4 1520.5 927.3 1521.6 927.2C1522.7 927.2 1523.8 927.1 1524.2 927.1" fill="none" stroke="#ff0000" stroke-width="3.4" stroke-linejoin="round"/>
<path d="M589.6 937.9C590.3 937.9 592.3 937.9 593.6 937.9C595.0 937.9 596.3 937.9 597.6 937.9C599.0 937.9 600.3 937.9 601.6 937.9C603.0 937.9 604.3 937.9 605.6 937.9C607.0 937.9 608.3 937.9 609.6 937.9C611.0 937.9 612.3 937.9 613.6 937.9C615.0 937.9 616.3 937.9 617.6 937.9C619.0 937.9 620.3 937.9 621.6 937.9C623.0 937.9 624.3 937.9 625.6 937.9C627.0 937.9 628.3 937.9 629.6 937.9C631.0 937.9 632.3 937.9 633.6 938.0C635.0 938.0 636.3 938.0 637.6 938.0C639.0 938.0 640.3 938.0 641.6 938.0C643.0 938.0 644.3 938.0 645.6 938.0C647.0 938.0 648.3 938.0 649.6 938.0C651.0 938.0 652.3 938.0 653.6 938.0C655.0 938.0 656.3 938.0 657.6 938.0C659.0 938.0 660.3 938.0 661.6 938.0C663.0 938.0 664.3 938.0 665.6 938.0C667.0 938.0 668.3 938.0 669.6 938.0C671.0 938.0 672.3 938.0 673.6 938.0C675.0 938.0 676.3 938.0 677.6 938.0C679.0 938.0 680.3 938.1 681.6 938.1C683.0 938.1 684.3 938.1 685.6 938.1C687.0 938.1 688.3 938.1 689.6 938.1C691.0 938.1 692.3 938.1 693.6 938.1C695.0 938.1 696.3 938.1 697.6 938.1C699.0 938.1 700.3 938.1 701.6 938.1C703.0 938.1 704.3 938.1 705.6 938.1C707.0 938.1 708.3 938.1 709.6 938.1C711.0 938.1 712.3 938.1 713.6 938.1C715.0 938.1 716.3 938.1 717.6 938.1C719.0 938.1 720.3 938.1 721.6 938.1C723.0 938.1 724.3 938.1 725.6 938.1C727.0 938.1 728.3 938.2 729.6 938.2C731.0 938.2 732.3 938.2 733.6 938.2C735.0 938.2 736.3 938.2 737.6 938.2C739.0 938.2 740.3 938.2 741.6 938.2C743.0 938.2 744.3 938.2 745.6 938.2C747.0 938.2 748.3 938.2 749.6 938.2C751.0 938.2 752.3 938.2 753.6 938.2C755.0 938.2 756.3 938.2 757.6 938.2C759.0 938.2 760.3 938.2 761.6 938.2C763.0 938.2 764.3 938.2 765.6 938.2C767.0 938.2 768.3 938.2 769.6 938.2C771.0 938.2 772.3 938.2 773.6 938.2C775.0 938.2 776.3 938.2 777.6 938.2C779.0 938.3 780.3 938.3 781.6 938.3C783.0 938.3 784.3 938.3 785.6 938.3C787.0 938.3 788.3 938.3 789.6 938.3C791.0 938.3 792.3 938.3 793.6 938.3C795.0 938.3 796.3 938.3 797.6 938.3C799.0 938.3 800.3 938.3 801.6 938.3C803.0 938.3 804.3 938.3 805.6 938.3C807.0 938.3 808.3 938.3 809.6 938.3C811.0 938.3 812.3 938.3 813.6 938.3C815.0 938.3 816.3 938.3 817.6 938.3C819.0 938.3 820.3 938.3 821.6 938.3C823.0 938.3 824.3 938.3 825.6 938.3C827.0 938.3 828.3 938.4 829.6 938.4C831.0 938.4 832.3 938.4 833.6 938.4C835.0 938.4 836.3 938.4 837.6 938.4C839.0 938.4 840.3 938.4 841.6 938.4C843.0 938.4 844.3 938.4 845.6 938.4C847.0 938.4 848.3 938.4 849.6 938.4C851.0 938.4 852.3 938.4 853.6 938.4C855.0 938.4 856.3 938.4 857.6 938.4C859.0 938.4 860.3 938.4 861.6 938.4C863.0 938.4 864.3 938.4 865.6 938.4C867.0 938.4 868.3 938.4 869.6 938.4C871.0 938.4 872.3 938.4 873.6 938.5C875.0 938.5 876.3 938.5 877.6 938.5C879.0 938.5 880.3 938.5 881.6 938.5C883.0 938.5 884.3 938.5 885.6 938.5C887.0 938.5 888.3 938.5 889.6 938.5C891.0 938.5 892.3 938.5 893.6 938.5C895.0 938.5 896.3 938.5 897.6 938.5C899.0 938.5 900.3 938.5 901.6 938.5C903.0 938.5 904.3 938.5 905.6 938.5C907.0 938.5 908.3 938.5 909.6 938.5C911.0 938.5 912.3 938.5 913.6 938.5C915.0 938.5 916.3 938.5 917.6 938.5C919.0 938.5 920.3 938.5 921.6 938.5C923.0 938.6 924.3 938.6 925.6 938.6C927.0 938.6 928.3 938.6 929.6 938.6C931.0 938.6 932.3 938.6 933.6 938.6C935.0 938.6 936.3 938.6 937.6 938.6C939.0 938.6 940.3 938.6 941.6 938.6C943.0 938.6 944.3 938.6 945.6 938.6C947.0 938.6 948.3 938.6 949.6 938.6C951.0 938.6 952.3 938.6 953.6 938.6C955.0 938.6 956.3 938.6 957.6 938.6C959.0 938.6 960.3 938.6 961.6 938.6C963.0 938.6 964.3 938.6 965.6 938.6C967.0 938.6 968.3 938.6 969.6 938.6C971.0 938.6 972.3 938.6 973.6 938.6C975.0 938.6 976.3 938.6 977.6 938.6C979.0 938.6 980.3 938.6 981.6 938.6C983.0 938.6 984.3 938.6 985.6 938.6C987.0 938.6 988.3 938.6 989.6 938.6C991.0 938.6 992.3 938.6 993.6 938.6C995.0 938.6 996.3 938.6 997.6 938.6C999.0 938.6 1000.3 938.6 1001.6 938.6C1003.0 938.6 1004.3 938.6 1005.6 938.6C1007.0 938.6 1008.3 938.6 1009.6 938.6C1011.0 938.6 1012.3 938.6 1013.6 938.6C1015.0 938.6 1016.3 938.6 1017.6 938.6C1019.0 938.6 1020.3 938.6 1021.6 938.6C1023.0 938.6 1024.3 938.6 1025.6 938.6C1027.0 938.6 1028.3 938.6 1029.6 938.6C1031.0 938.6 1032.3 938.6 1033.6 938.6C1035.0 938.6 1036.3 938.6 1037.6 938.6C1039.0 938.6 1040.3 938.6 1041.6 938.6C1043.0 938.6 1044.3 938.6 1045.6 938.6C1047.0 938.6 1048.3 938.6 1049.6 938.6C1051.0 938.6 1052.3 938.6 1053.6 938.6C1055.0 938.6 1056.3 938.6 1057.6 938.7C1059.0 938.7 1060.3 938.7 1061.6 938.7C1063.0 938.7 1064.3 938.8 1065.6 938.8C1067.0 938.8 1068.3 938.8 1069.6 938.8C1071.0 938.8 1072.3 938.9 1073.6 938.9C1075.0 938.9 1076.3 938.9 1077.6 938.9C1079.0 938.9 1080.3 938.9 1081.6 939.0C1083.0 939.0 1084.3 939.0 1085.6 939.0C1087.0 939.0 1088.3 939.0 1089.6 939.0C1091.0 939.0 1092.3 939.0 1093.6 939.0C1095.0 939.1 1096.3 939.1 1097.6 939.1C1099.0 939.1 1100.3 939.1 1101.6 939.1C1103.0 939.0 1104.3 939.0 1105.6 939.0C1107.0 939.0 1108.3 939.0 1109.6 939.0C1111.0 939.0 1112.3 939.0 1113.6 939.0C1115.0 939.0 1116.3 939.0 1117.6 939.0C1119.0 939.0 1120.3 938.9 1121.6 938.9C1123.0 938.9 1124.3 938.9 1125.6 938.9C1127.0 938.9 1128.3 938.9 1129.6 938.8C1131.0 938.8 1132.3 938.8 1133.6 938.8C1135.0 938.8 1136.3 938.7 1137.6 938.7C1139.0 938.7 1140.3 938.7 1141.6 938.7C1143.0 938.6 1144.3 938.6 1145.6 938.6C1147.0 938.6 1148.3 938.5 1149.6 938.5C1151.0 938.5 1152.3 938.4 1153.6 938.4C1155.0 938.3 1156.3 938.3 1157.6 938.2C1159.0 938.2 1160.3 938.1 1161.6 938.0C1163.0 938.0 1164.3 937.9 1165.6 937.8C1167.0 937.8 1168.3 937.7 1169.6 937.6C1171.0 937.6 1172.3 937.5 1173.6 937.5C1175.0 937.4 1176.3 937.4 1177.6 937.3C1179.0 937.2 1180.3 937.2 1181.6 937.1C1183.0 937.1 1184.3 937.0 1185.6 936.9C1187.0 936.9 1188.3 936.8 1189.6 936.8C1191.0 936.8 1192.3 936.7 1193.6 936.7C1195.0 936.6 1196.3 936.6 1197.6 936.6C1199.0 936.5 1200.3 936.5 1201.6 936.4C1203.0 936.4 1204.3 936.3 1205.6 936.3C1207.0 936.3 1208.3 936.2 1209.6 936.2C1211.0 936.1 1212.3 936.1 1213.6 936.1C1215.0 936.0 1216.3 936.0 1217.6 936.0C1219.0 935.9 1220.3 935.9 1221.6 935.9C1223.0 935.8 1224.3 935.8 1225.6 935.8C1227.0 935.8 1228.3 935.8 1229.6 935.7C1231.0 935.7 1232.3 935.7 1233.6 935.7C1235.0 935.7 1236.3 935.7 1237.6 935.7C1239.0 935.7 1240.3 935.7 1241.6 935.7C1243.0 935.7 1244.3 935.7 1245.6 935.7C1247.0 935.8 1248.3 935.8 1249.6 935.8C1251.0 935.8 1252.3 935.8 1253.6 935.9C1255.0 935.9 1256.3 935.9 1257.6 935.9C1259.0 936.0 1260.3 936.0 1261.6 936.0C1263.0 936.0 1264.3 936.1 1265.6 936.1C1267.0 936.1 1268.3 936.2 1269.6 936.2C1271.0 936.2 1272.3 936.3 1273.6 936.3C1275.0 936.3 1276.3 936.4 1277.6 936.4C1279.0 936.4 1280.3 936.4 1281.6 936.5C1283.0 936.5 1284.3 936.5 1285.6 936.6C1287.0 936.6 1288.3 936.6 1289.6 936.6C1291.0 936.7 1292.3 936.7 1293.6 936.7C1295.0 936.7 1296.3 936.8 1297.6 936.8C1299.0 936.8 1300.3 936.9 1301.6 936.9C1303.0 937.0 1304.3 937.0 1305.6 937.1C1307.0 937.1 1308.3 937.1 1309.6 937.2C1311.0 937.2 1312.3 937.2 1313.6 937.2C1315.0 937.2 1316.3 937.3 1317.6 937.3C1319.0 937.3 1320.3 937.3 1321.6 937.3C1323.0 937.3 1324.3 937.3 1325.6 937.3C1327.0 937.3 1328.3 937.3 1329.6 937.3C1331.0 937.3 1332.3 937.4 1333.6 937.4C1335.0 937.4 1336.3 937.4 1337.6 937.4C1339.0 937.4 1340.3 937.4 1341.6 937.4C1343.0 937.4 1344.3 937.4 1345.6 937.4C1347.0 937.4 1348.3 937.4 1349.6 937.4C1351.0 937.4 1352.3 937.4 1353.6 937.4C1355.0 937.4 1356.3 937.4 1357.6 937.4C1359.0 937.4 1360.3 937.4 1361.6 937.4C1363.0 937.4 1364.3 937.4 1365.6 937.4C1367.0 937.4 1368.3 937.4 1369.6 937.4C1371.0 937.4 1372.3 937.4 1373.6 937.4C1375.0 937.4 1376.3 937.4 1377.6 937.4C1379.0 937.4 1380.3 937.4 1381.6 937.4C1383.0 937.4 1384.3 937.4 1385.6 937.4C1387.0 937.4 1388.3 937.4 1389.6 937.4C1391.0 937.4 1392.3 937.4 1393.6 937.4C1395.0 937.4 1396.3 937.4 1397.6 937.4C1399.0 937.4 1400.3 937.4 1401.6 937.3C1403.0 937.3 1404.3 937.3 1405.6 937.3C1407.0 937.3 1408.3 937.3 1409.6 937.3C1411.0 937.3 1412.3 937.3 1413.6 937.3C1415.0 937.3 1416.3 937.3 1417.6 937.3C1419.0 937.3 1420.3 937.3 1421.6 937.3C1423.0 937.3 1424.3 937.3 1425.6 937.3C1427.0 937.3 1428.3 937.3 1429.6 937.3C1431.0 937.3 1432.3 937.3 1433.6 937.3C1435.0 937.3 1436.3 937.3 1437.6 937.3C1439.0 937.3 1440.3 937.3 1441.6 937.3C1443.0 937.3 1444.3 937.3 1445.6 937.3C1447.0 937.3 1448.3 937.3 1449.6 937.3C1451.0 937.3 1452.3 937.3 1453.6 937.3C1455.0 937.3 1456.3 937.3 1457.6 937.3C1459.0 937.3 1460.3 937.3 1461.6 937.2C1463.0 937.2 1464.3 937.2 1465.6 937.2C1467.0 937.2 1468.3 937.2 1469.6 937.2C1471.0 937.2 1472.3 937.2 1473.6 937.2C1475.0 937.2 1476.3 937.2 1477.6 937.2C1479.0 937.2 1480.3 937.2 1481.6 937.2C1483.0 937.2 1484.3 937.2 1485.6 937.2C1487.0 937.2 1488.3 937.2 1489.6 937.2C1491.0 937.2 1492.3 937.2 1493.6 937.2C1495.0 937.2 1496.3 937.2 1497.6 937.2C1499.0 937.2 1500.3 937.2 1501.6 937.2C1503.0 937.2 1504.3 937.2 1505.6 937.2C1507.0 937.2 1508.3 937.2 1509.6 937.2C1511.0 937.2 1512.3 937.2 1513.6 937.1C1515.0 937.1 1516.3 937.1 1517.6 937.1C1519.0 937.1 1520.5 937.1 1521.6 937.1C1522.7 937.1 1523.8 937.1 1524.2 937.1" fill="none" stroke="#ff0000" stroke-width="1.5" stroke-linejoin="round"/>
<g>
<line x1="1524.2" y1="728.9" x2="1524.2" y2="1146.2" stroke="#333" stroke-width="1.2"/>
<line x1="589.2" y1="728.9" x2="1524.8" y2="728.9" stroke="#000" stroke-width="2.0"/>
<line x1="590.2" y1="728.9" x2="590.2" y2="1147.2" stroke="#262626" stroke-width="2.0"/>
<line x1="589.2" y1="1146.2" x2="1524.8" y2="1146.2" stroke="#262626" stroke-width="2.0"/>
<line x1="710.3" y1="1146.2" x2="710.3" y2="1137.2" stroke="#262626" stroke-width="1.5"/>
<line x1="710.3" y1="728.9" x2="710.3" y2="737.9" stroke="#000" stroke-width="1.5"/>
<text x="709.5" y="1188.7" font-family="'Liberation Sans', sans-serif" font-size="34" text-anchor="middle" fill="#262626">2</text>
<text x="709.3" y="710.2" font-family="'Liberation Sans', sans-serif" font-size="34" text-anchor="middle" fill="#000" textLength="56.3" lengthAdjust="spacingAndGlyphs">620</text>
<line x1="904.1" y1="1146.2" x2="904.1" y2="1137.2" stroke="#262626" stroke-width="1.5"/>
<line x1="904.1" y1="728.9" x2="904.1" y2="737.9" stroke="#000" stroke-width="1.5"/>
<text x="903.3" y="1188.7" font-family="'Liberation Sans', sans-serif" font-size="34" text-anchor="middle" fill="#262626">3</text>
<text x="903.1" y="710.2" font-family="'Liberation Sans', sans-serif" font-size="34" text-anchor="middle" fill="#000" textLength="56.3" lengthAdjust="spacingAndGlyphs">413</text>
<line x1="1097.9" y1="1146.2" x2="1097.9" y2="1137.2" stroke="#262626" stroke-width="1.5"/>
<line x1="1097.9" y1="728.9" x2="1097.9" y2="737.9" stroke="#000" stroke-width="1.5"/>
<text x="1097.1" y="1188.7" font-family="'Liberation Sans', sans-serif" font-size="34" text-anchor="middle" fill="#262626">4</text>
<text x="1096.9" y="710.2" font-family="'Liberation Sans', sans-serif" font-size="34" text-anchor="middle" fill="#000" textLength="56.3" lengthAdjust="spacingAndGlyphs">310</text>
<line x1="1291.7" y1="1146.2" x2="1291.7" y2="1137.2" stroke="#262626" stroke-width="1.5"/>
<line x1="1291.7" y1="728.9" x2="1291.7" y2="737.9" stroke="#000" stroke-width="1.5"/>
<text x="1290.9" y="1188.7" font-family="'Liberation Sans', sans-serif" font-size="34" text-anchor="middle" fill="#262626">5</text>
<text x="1290.7" y="710.2" font-family="'Liberation Sans', sans-serif" font-size="34" text-anchor="middle" fill="#000" textLength="56.3" lengthAdjust="spacingAndGlyphs">248</text>
<line x1="1485.5" y1="1146.2" x2="1485.5" y2="1137.2" stroke="#262626" stroke-width="1.5"/>
<line x1="1485.5" y1="728.9" x2="1485.5" y2="737.9" stroke="#000" stroke-width="1.5"/>
<text x="1484.7" y="1188.7" font-family="'Liberation Sans', sans-serif" font-size="34" text-anchor="middle" fill="#262626">6</text>
<text x="1484.5" y="710.2" font-family="'Liberation Sans', sans-serif" font-size="34" text-anchor="middle" fill="#000" textLength="56.3" lengthAdjust="spacingAndGlyphs">207</text>
<line x1="590.2" y1="738.8" x2="599.2" y2="738.8" stroke="#262626" stroke-width="1.5"/>
<text x="576.8" y="750.6" font-family="'Liberation Sans', sans-serif" font-size="34" text-anchor="end" fill="#262626">40</text>
<line x1="590.2" y1="838.2" x2="599.2" y2="838.2" stroke="#262626" stroke-width="1.5"/>
<text x="576.8" y="850.0" font-family="'Liberation Sans', sans-serif" font-size="34" text-anchor="end" fill="#262626">20</text>
<line x1="590.2" y1="937.6" x2="599.2" y2="937.6" stroke="#262626" stroke-width="1.5"/>
<text x="576.8" y="949.4" font-family="'Liberation Sans', sans-serif" font-size="34" text-anchor="end" fill="#262626">0</text>
<line x1="590.2" y1="1037.0" x2="599.2" y2="1037.0" stroke="#262626" stroke-width="1.5"/>
<text x="576.8" y="1048.8" font-family="'Liberation Sans', sans-serif" font-size="34" text-anchor="end" fill="#262626">-20</text>
<line x1="590.2" y1="1136.4" x2="599.2" y2="1136.4" stroke="#262626" stroke-width="1.5"/>
<text x="576.8" y="1148.2" font-family="'Liberation Sans', sans-serif" font-size="34" text-anchor="end" fill="#262626">-40</text>
<text x="1056.4" y="665.2" font-family="'Liberation Sans', sans-serif" font-size="36.5" text-anchor="middle" fill="#000" textLength="270.4" lengthAdjust="spacingAndGlyphs">Wavelength (nm)</text>
<text x="1057.4" y="1235.0" font-family="'Liberation Sans', sans-serif" font-size="36.5" text-anchor="middle" fill="#262626" textLength="180.0" lengthAdjust="spacingAndGlyphs">Energy (eV)</text>
</g>
<text font-family="'Liberation Sans', sans-serif" font-size="36.5" fill="#262626" transform="translate(512.3 937.3) rotate(-90)"><tspan x="-178.6" y="0.0" font-size="36.5" textLength="146.1" lengthAdjust="spacingAndGlyphs">Ellipticity</tspan><tspan font-size="1"> </tspan><tspan x="-22.2" y="0.0" font-size="36.5" textLength="102.2" lengthAdjust="spacingAndGlyphs">(mdeg</tspan><tspan font-size="1"> </tspan><tspan x="86.7" y="0.0" font-size="36.5" textLength="52.2" lengthAdjust="spacingAndGlyphs">nm</tspan><tspan x="139.7" y="-16.7" font-size="28" textLength="22.1" lengthAdjust="spacingAndGlyphs">-1</tspan><tspan x="167.0" y="0" font-size="36.5">)</tspan></text>
<text x="1222.1" y="817.5" font-family="'Liberation Sans', sans-serif" font-size="35" text-anchor="start" fill="#ff0000" textLength="36.2" lengthAdjust="spacingAndGlyphs">L3</text>
<text x="1222.1" y="885.6" font-family="'Liberation Sans', sans-serif" font-size="35" text-anchor="start" fill="#ff0000" textLength="37.0" lengthAdjust="spacingAndGlyphs">L2</text>
<text x="1222.1" y="927.5" font-family="'Liberation Sans', sans-serif" font-size="35" text-anchor="start" fill="#ff0000" textLength="35.6" lengthAdjust="spacingAndGlyphs">L1</text>
<text x="1222.1" y="974.7" font-family="'Liberation Sans', sans-serif" font-size="35" text-anchor="start" fill="#0033ff" textLength="39.2" lengthAdjust="spacingAndGlyphs">R1</text>
<text x="1222.1" y="1019.2" font-family="'Liberation Sans', sans-serif" font-size="35" text-anchor="start" fill="#0033ff" textLength="41.1" lengthAdjust="spacingAndGlyphs">R2</text>
<text x="1222.1" y="1094.3" font-family="'Liberation Sans', sans-serif" font-size="35" text-anchor="start" fill="#0033ff" textLength="41.1" lengthAdjust="spacingAndGlyphs">R3</text>
<path d="M159.2 784.1Q152.6 779.5 159.7 775.7L216.7 744.4Q223.7 740.6 230.3 745.2L330.9 816.5Q337.5 821.1 330.5 825.0L273.4 856.2Q266.4 860.1 259.9 855.5Z" transform="translate(0 3.8)" fill="#1400b0"/>
<path d="M159.2 784.1Q152.6 779.5 159.7 775.7L216.7 744.4Q223.7 740.6 230.3 745.2L330.9 816.5Q337.5 821.1 330.5 825.0L273.4 856.2Q266.4 860.1 259.9 855.5Z" fill="#2000ff" opacity="1"/>
<path d="M159.2 784.1Q152.6 779.5 159.7 775.7L216.7 744.4Q223.7 740.6 230.3 745.2L330.9 816.5Q337.5 821.1 330.5 825.0L273.4 856.2Q266.4 860.1 259.9 855.5Z" fill="url(#shade)" opacity="0.07"/>
<mask id="m7" maskUnits="userSpaceOnUse" x="10.0" y="589.5" width="420.0" height="420.0"><rect x="10.0" y="589.5" width="420.0" height="420.0" fill="#fff"/><path d="M165.9 769.9Q158.4 766.9 161.8 759.6L178.6 723.1Q181.9 715.8 189.3 718.8L316.9 770.2Q324.3 773.2 321.0 780.5L304.4 817.0Q301.1 824.3 293.7 821.3Z" fill="#2a2a2a"/><path d="M160.5 707.4Q160.7 698.4 169.7 699.1L308.8 710.0Q317.8 710.7 317.9 719.7L318.2 763.5Q318.3 772.5 309.3 771.9L168.2 763.4Q159.2 762.9 159.4 753.9Z" fill="#2a2a2a"/></mask>
<g fill="#d2d4e4" stroke="#1c1c70" stroke-width="0.9" opacity="1.0" mask="url(#m7)"><ellipse cx="220.0" cy="799.5" rx="9.0" ry="2.1" transform="rotate(35.8 220.0 799.5)"/><ellipse cx="235.1" cy="810.4" rx="9.0" ry="2.1" transform="rotate(35.8 235.1 810.4)"/><ellipse cx="250.2" cy="821.2" rx="9.0" ry="2.1" transform="rotate(35.8 250.2 821.2)"/><ellipse cx="265.2" cy="832.1" rx="9.0" ry="2.1" transform="rotate(35.8 265.2 832.1)"/><ellipse cx="227.6" cy="795.5" rx="9.0" ry="2.1" transform="rotate(35.8 227.6 795.5)"/><ellipse cx="242.7" cy="806.4" rx="9.0" ry="2.1" transform="rotate(35.8 242.7 806.4)"/><ellipse cx="257.7" cy="817.2" rx="9.0" ry="2.1" transform="rotate(35.8 257.7 817.2)"/><ellipse cx="272.8" cy="828.1" rx="9.0" ry="2.1" transform="rotate(35.8 272.8 828.1)"/><ellipse cx="235.2" cy="791.5" rx="9.0" ry="2.1" transform="rotate(35.8 235.2 791.5)"/><ellipse cx="250.3" cy="802.4" rx="9.0" ry="2.1" transform="rotate(35.8 250.3 802.4)"/><ellipse cx="265.3" cy="813.2" rx="9.0" ry="2.1" transform="rotate(35.8 265.3 813.2)"/><ellipse cx="280.4" cy="824.1" rx="9.0" ry="2.1" transform="rotate(35.8 280.4 824.1)"/><ellipse cx="242.8" cy="787.5" rx="9.0" ry="2.1" transform="rotate(35.8 242.8 787.5)"/><ellipse cx="257.9" cy="798.4" rx="9.0" ry="2.1" transform="rotate(35.8 257.9 798.4)"/><ellipse cx="272.9" cy="809.2" rx="9.0" ry="2.1" transform="rotate(35.8 272.9 809.2)"/><ellipse cx="288.0" cy="820.1" rx="9.0" ry="2.1" transform="rotate(35.8 288.0 820.1)"/><ellipse cx="250.4" cy="783.5" rx="9.0" ry="2.1" transform="rotate(35.8 250.4 783.5)"/><ellipse cx="265.4" cy="794.4" rx="9.0" ry="2.1" transform="rotate(35.8 265.4 794.4)"/><ellipse cx="280.5" cy="805.2" rx="9.0" ry="2.1" transform="rotate(35.8 280.5 805.2)"/><ellipse cx="295.6" cy="816.1" rx="9.0" ry="2.1" transform="rotate(35.8 295.6 816.1)"/><ellipse cx="258.0" cy="779.5" rx="9.0" ry="2.1" transform="rotate(35.8 258.0 779.5)"/><ellipse cx="273.0" cy="790.4" rx="9.0" ry="2.1" transform="rotate(35.8 273.0 790.4)"/><ellipse cx="288.1" cy="801.2" rx="9.0" ry="2.1" transform="rotate(35.8 288.1 801.2)"/><ellipse cx="303.1" cy="812.1" rx="9.0" ry="2.1" transform="rotate(35.8 303.1 812.1)"/></g>
<mask id="m8" maskUnits="userSpaceOnUse" x="150.4" y="707.8" width="181.9" height="124.5"><rect x="150.4" y="707.8" width="181.9" height="124.5" fill="#fff"/><path d="M165.9 769.9Q158.4 766.9 161.8 759.6L178.6 723.1Q181.9 715.8 189.3 718.8L316.9 770.2Q324.3 773.2 321.0 780.5L304.4 817.0Q301.1 824.3 293.7 821.3Z" fill="#000" transform="translate(0 -0.8)"/></mask>
<g mask="url(#m8)"><path d="M165.9 769.9Q158.4 766.9 161.8 759.6L178.6 723.1Q181.9 715.8 189.3 718.8L316.9 770.2Q324.3 773.2 321.0 780.5L304.4 817.0Q301.1 824.3 293.7 821.3Z" transform="translate(0 3.0)" fill="#0c0870" opacity="0.99"/></g>
<path d="M165.9 769.9Q158.4 766.9 161.8 759.6L178.6 723.1Q181.9 715.8 189.3 718.8L316.9 770.2Q324.3 773.2 321.0 780.5L304.4 817.0Q301.1 824.3 293.7 821.3Z" fill="#2404ff" opacity="0.84"/>
<path d="M165.9 769.9Q158.4 766.9 161.8 759.6L178.6 723.1Q181.9 715.8 189.3 718.8L316.9 770.2Q324.3 773.2 321.0 780.5L304.4 817.0Q301.1 824.3 293.7 821.3Z" fill="url(#shine)" opacity="0.16"/>
<mask id="m9" maskUnits="userSpaceOnUse" x="22.7" y="544.8" width="420.0" height="420.0"><rect x="22.7" y="544.8" width="420.0" height="420.0" fill="#fff"/><path d="M160.5 707.4Q160.7 698.4 169.7 699.1L308.8 710.0Q317.8 710.7 317.9 719.7L318.2 763.5Q318.3 772.5 309.3 771.9L168.2 763.4Q159.2 762.9 159.4 753.9Z" fill="#2a2a2a"/></mask>
<g fill="#d2d4e4" stroke="#1c1c70" stroke-width="0.9" opacity="1.0" mask="url(#m9)"><ellipse cx="232.7" cy="754.8" rx="9.7" ry="2.0" transform="rotate(15.5 232.7 754.8)"/><ellipse cx="251.6" cy="760.0" rx="9.7" ry="2.0" transform="rotate(15.5 251.6 760.0)"/><ellipse cx="270.6" cy="765.3" rx="9.7" ry="2.0" transform="rotate(15.5 270.6 765.3)"/><ellipse cx="289.6" cy="770.6" rx="9.7" ry="2.0" transform="rotate(15.5 289.6 770.6)"/><ellipse cx="230.4" cy="760.6" rx="9.7" ry="2.0" transform="rotate(15.5 230.4 760.6)"/><ellipse cx="249.3" cy="765.8" rx="9.7" ry="2.0" transform="rotate(15.5 249.3 765.8)"/><ellipse cx="268.3" cy="771.1" rx="9.7" ry="2.0" transform="rotate(15.5 268.3 771.1)"/><ellipse cx="287.2" cy="776.4" rx="9.7" ry="2.0" transform="rotate(15.5 287.2 776.4)"/><ellipse cx="228.0" cy="766.4" rx="9.7" ry="2.0" transform="rotate(15.5 228.0 766.4)"/><ellipse cx="247.0" cy="771.6" rx="9.7" ry="2.0" transform="rotate(15.5 247.0 771.6)"/><ellipse cx="266.0" cy="776.9" rx="9.7" ry="2.0" transform="rotate(15.5 266.0 776.9)"/><ellipse cx="284.9" cy="782.2" rx="9.7" ry="2.0" transform="rotate(15.5 284.9 782.2)"/><ellipse cx="225.7" cy="772.1" rx="9.7" ry="2.0" transform="rotate(15.5 225.7 772.1)"/><ellipse cx="244.7" cy="777.4" rx="9.7" ry="2.0" transform="rotate(15.5 244.7 777.4)"/><ellipse cx="263.6" cy="782.7" rx="9.7" ry="2.0" transform="rotate(15.5 263.6 782.7)"/><ellipse cx="282.6" cy="787.9" rx="9.7" ry="2.0" transform="rotate(15.5 282.6 787.9)"/><ellipse cx="223.4" cy="777.9" rx="9.7" ry="2.0" transform="rotate(15.5 223.4 777.9)"/><ellipse cx="242.4" cy="783.2" rx="9.7" ry="2.0" transform="rotate(15.5 242.4 783.2)"/><ellipse cx="261.3" cy="788.5" rx="9.7" ry="2.0" transform="rotate(15.5 261.3 788.5)"/><ellipse cx="280.3" cy="793.7" rx="9.7" ry="2.0" transform="rotate(15.5 280.3 793.7)"/><ellipse cx="221.1" cy="783.7" rx="9.7" ry="2.0" transform="rotate(15.5 221.1 783.7)"/><ellipse cx="240.1" cy="789.0" rx="9.7" ry="2.0" transform="rotate(15.5 240.1 789.0)"/><ellipse cx="259.0" cy="794.3" rx="9.7" ry="2.0" transform="rotate(15.5 259.0 794.3)"/><ellipse cx="278.0" cy="799.5" rx="9.7" ry="2.0" transform="rotate(15.5 278.0 799.5)"/></g>
<mask id="m10" maskUnits="userSpaceOnUse" x="151.2" y="690.4" width="175.1" height="90.0"><rect x="151.2" y="690.4" width="175.1" height="90.0" fill="#fff"/><path d="M160.5 707.4Q160.7 698.4 169.7 699.1L308.8 710.0Q317.8 710.7 317.9 719.7L318.2 763.5Q318.3 772.5 309.3 771.9L168.2 763.4Q159.2 762.9 159.4 753.9Z" fill="#000" transform="translate(0 -0.8)"/></mask>
<g mask="url(#m10)"><path d="M160.5 707.4Q160.7 698.4 169.7 699.1L308.8 710.0Q317.8 710.7 317.9 719.7L318.2 763.5Q318.3 772.5 309.3 771.9L168.2 763.4Q159.2 762.9 159.4 753.9Z" transform="translate(0 3.0)" fill="#0c0870" opacity="0.9500000000000001"/></g>
<path d="M160.5 707.4Q160.7 698.4 169.7 699.1L308.8 710.0Q317.8 710.7 317.9 719.7L318.2 763.5Q318.3 772.5 309.3 771.9L168.2 763.4Q159.2 762.9 159.4 753.9Z" fill="#2808ff" opacity="0.8"/>
<path d="M160.5 707.4Q160.7 698.4 169.7 699.1L308.8 710.0Q317.8 710.7 317.9 719.7L318.2 763.5Q318.3 772.5 309.3 771.9L168.2 763.4Q159.2 762.9 159.4 753.9Z" fill="url(#shine)" opacity="0.16"/>
<g fill="#d2d4e4" stroke="#1c1c70" stroke-width="0.9" opacity="1.0"><ellipse cx="231.6" cy="724.4" rx="9.5" ry="1.9" transform="rotate(4.8 231.6 724.4)"/><ellipse cx="250.6" cy="726.0" rx="9.5" ry="1.9" transform="rotate(4.8 250.6 726.0)"/><ellipse cx="269.5" cy="727.6" rx="9.5" ry="1.9" transform="rotate(4.8 269.5 727.6)"/><ellipse cx="288.5" cy="729.2" rx="9.5" ry="1.9" transform="rotate(4.8 288.5 729.2)"/><ellipse cx="231.6" cy="729.7" rx="9.5" ry="1.9" transform="rotate(4.8 231.6 729.7)"/><ellipse cx="250.6" cy="731.3" rx="9.5" ry="1.9" transform="rotate(4.8 250.6 731.3)"/><ellipse cx="269.5" cy="732.9" rx="9.5" ry="1.9" transform="rotate(4.8 269.5 732.9)"/><ellipse cx="288.5" cy="734.4" rx="9.5" ry="1.9" transform="rotate(4.8 288.5 734.4)"/><ellipse cx="231.6" cy="735.0" rx="9.5" ry="1.9" transform="rotate(4.8 231.6 735.0)"/><ellipse cx="250.6" cy="736.6" rx="9.5" ry="1.9" transform="rotate(4.8 250.6 736.6)"/><ellipse cx="269.5" cy="738.1" rx="9.5" ry="1.9" transform="rotate(4.8 269.5 738.1)"/><ellipse cx="288.5" cy="739.7" rx="9.5" ry="1.9" transform="rotate(4.8 288.5 739.7)"/><ellipse cx="231.6" cy="740.2" rx="9.5" ry="1.9" transform="rotate(4.8 231.6 740.2)"/><ellipse cx="250.6" cy="741.8" rx="9.5" ry="1.9" transform="rotate(4.8 250.6 741.8)"/><ellipse cx="269.5" cy="743.4" rx="9.5" ry="1.9" transform="rotate(4.8 269.5 743.4)"/><ellipse cx="288.5" cy="745.0" rx="9.5" ry="1.9" transform="rotate(4.8 288.5 745.0)"/><ellipse cx="231.6" cy="745.5" rx="9.5" ry="1.9" transform="rotate(4.8 231.6 745.5)"/><ellipse cx="250.6" cy="747.1" rx="9.5" ry="1.9" transform="rotate(4.8 250.6 747.1)"/><ellipse cx="269.5" cy="748.7" rx="9.5" ry="1.9" transform="rotate(4.8 269.5 748.7)"/><ellipse cx="288.5" cy="750.2" rx="9.5" ry="1.9" transform="rotate(4.8 288.5 750.2)"/><ellipse cx="231.6" cy="750.8" rx="9.5" ry="1.9" transform="rotate(4.8 231.6 750.8)"/><ellipse cx="250.6" cy="752.3" rx="9.5" ry="1.9" transform="rotate(4.8 250.6 752.3)"/><ellipse cx="269.5" cy="753.9" rx="9.5" ry="1.9" transform="rotate(4.8 269.5 753.9)"/><ellipse cx="288.5" cy="755.5" rx="9.5" ry="1.9" transform="rotate(4.8 288.5 755.5)"/></g>
<line x1="96.2" y1="753.9" x2="243.9" y2="764.3" stroke="#111" stroke-width="1.8" stroke-dasharray="6 3.2"/>
<line x1="101.0" y1="748.5" x2="221.0" y2="792.0" stroke="#111" stroke-width="1.8" stroke-dasharray="6 3.2"/>
<line x1="112.4" y1="748.1" x2="198.2" y2="812.9" stroke="#111" stroke-width="1.8" stroke-dasharray="6 3.2"/>
<path d="M329.4 770.4 C340.1 770.4 346.2 764.8 343.2 758.7 C341.1 753.6 336.0 749.5 331.4 747.7" fill="none" stroke="#000" stroke-width="3.2"/>
<path d="M323.4 745.0 L334.0 745.2 L330.2 752.8 Z" fill="#000"/>
<path d="M338.6 808.5 C348.9 808.5 354.8 803.1 351.9 797.2 C349.9 792.3 345.0 788.4 340.6 786.6" fill="none" stroke="#000" stroke-width="3.2"/>
<path d="M332.9 784.1 L343.1 784.3 L339.4 791.6 Z" fill="#000"/>
<text x="353.4" y="778.6" font-family="'Liberation Sans', sans-serif" font-size="36" text-anchor="start" fill="#000" textLength="68.5" lengthAdjust="spacingAndGlyphs">-30°</text>
<text x="362.4" y="828.2" font-family="'Liberation Sans', sans-serif" font-size="36" text-anchor="start" fill="#000" textLength="68.5" lengthAdjust="spacingAndGlyphs">-30°</text>
<text x="129.3" y="849.2" font-family="'Liberation Sans', sans-serif" font-size="35.5" text-anchor="start" fill="#3300ff" textLength="40.5" lengthAdjust="spacingAndGlyphs">R3</text>
<path d="M159.2 972.1Q152.7 967.4 159.7 963.5L213.2 933.4Q220.1 929.5 226.6 934.1L321.4 1001.9Q327.9 1006.5 320.9 1010.4L267.4 1040.5Q260.5 1044.4 253.9 1039.8Z" transform="translate(0 3.8)" fill="#1400b0"/>
<path d="M159.2 972.1Q152.7 967.4 159.7 963.5L213.2 933.4Q220.1 929.5 226.6 934.1L321.4 1001.9Q327.9 1006.5 320.9 1010.4L267.4 1040.5Q260.5 1044.4 253.9 1039.8Z" fill="#2000ff" opacity="1"/>
<path d="M159.2 972.1Q152.7 967.4 159.7 963.5L213.2 933.4Q220.1 929.5 226.6 934.1L321.4 1001.9Q327.9 1006.5 320.9 1010.4L267.4 1040.5Q260.5 1044.4 253.9 1039.8Z" fill="url(#shade)" opacity="0.07"/>
<mask id="m11" maskUnits="userSpaceOnUse" x="4.7" y="777.9" width="420.0" height="420.0"><rect x="4.7" y="777.9" width="420.0" height="420.0" fill="#fff"/><path d="M165.0 963.0Q157.5 960.2 160.8 952.9L176.0 918.7Q179.2 911.4 186.7 914.3L307.8 960.9Q315.2 963.8 312.2 971.2L298.4 1005.1Q295.4 1012.5 287.9 1009.7Z" fill="#2a2a2a"/></mask>
<g fill="#d2d4e4" stroke="#1c1c70" stroke-width="0.9" opacity="1.0" mask="url(#m11)"><ellipse cx="214.7" cy="987.9" rx="8.7" ry="2.0" transform="rotate(34.3 214.7 987.9)"/><ellipse cx="229.2" cy="997.7" rx="8.7" ry="2.0" transform="rotate(34.3 229.2 997.7)"/><ellipse cx="243.6" cy="1007.6" rx="8.7" ry="2.0" transform="rotate(34.3 243.6 1007.6)"/><ellipse cx="258.1" cy="1017.5" rx="8.7" ry="2.0" transform="rotate(34.3 258.1 1017.5)"/><ellipse cx="221.9" cy="984.0" rx="8.7" ry="2.0" transform="rotate(34.3 221.9 984.0)"/><ellipse cx="236.4" cy="993.9" rx="8.7" ry="2.0" transform="rotate(34.3 236.4 993.9)"/><ellipse cx="250.8" cy="1003.8" rx="8.7" ry="2.0" transform="rotate(34.3 250.8 1003.8)"/><ellipse cx="265.3" cy="1013.6" rx="8.7" ry="2.0" transform="rotate(34.3 265.3 1013.6)"/><ellipse cx="229.2" cy="980.2" rx="8.7" ry="2.0" transform="rotate(34.3 229.2 980.2)"/><ellipse cx="243.6" cy="990.0" rx="8.7" ry="2.0" transform="rotate(34.3 243.6 990.0)"/><ellipse cx="258.1" cy="999.9" rx="8.7" ry="2.0" transform="rotate(34.3 258.1 999.9)"/><ellipse cx="272.5" cy="1009.8" rx="8.7" ry="2.0" transform="rotate(34.3 272.5 1009.8)"/><ellipse cx="236.4" cy="976.3" rx="8.7" ry="2.0" transform="rotate(34.3 236.4 976.3)"/><ellipse cx="250.8" cy="986.2" rx="8.7" ry="2.0" transform="rotate(34.3 250.8 986.2)"/><ellipse cx="265.3" cy="996.1" rx="8.7" ry="2.0" transform="rotate(34.3 265.3 996.1)"/><ellipse cx="279.7" cy="1005.9" rx="8.7" ry="2.0" transform="rotate(34.3 279.7 1005.9)"/><ellipse cx="243.6" cy="972.5" rx="8.7" ry="2.0" transform="rotate(34.3 243.6 972.5)"/><ellipse cx="258.1" cy="982.3" rx="8.7" ry="2.0" transform="rotate(34.3 258.1 982.3)"/><ellipse cx="272.5" cy="992.2" rx="8.7" ry="2.0" transform="rotate(34.3 272.5 992.2)"/><ellipse cx="286.9" cy="1002.1" rx="8.7" ry="2.0" transform="rotate(34.3 286.9 1002.1)"/><ellipse cx="250.8" cy="968.6" rx="8.7" ry="2.0" transform="rotate(34.3 250.8 968.6)"/><ellipse cx="265.3" cy="978.5" rx="8.7" ry="2.0" transform="rotate(34.3 265.3 978.5)"/><ellipse cx="279.7" cy="988.3" rx="8.7" ry="2.0" transform="rotate(34.3 279.7 988.3)"/><ellipse cx="294.2" cy="998.2" rx="8.7" ry="2.0" transform="rotate(34.3 294.2 998.2)"/></g>
<mask id="m12" maskUnits="userSpaceOnUse" x="149.5" y="903.4" width="173.7" height="117.1"><rect x="149.5" y="903.4" width="173.7" height="117.1" fill="#fff"/><path d="M165.0 963.0Q157.5 960.2 160.8 952.9L176.0 918.7Q179.2 911.4 186.7 914.3L307.8 960.9Q315.2 963.8 312.2 971.2L298.4 1005.1Q295.4 1012.5 287.9 1009.7Z" fill="#000" transform="translate(0 -0.8)"/></mask>
<g mask="url(#m12)"><path d="M165.0 963.0Q157.5 960.2 160.8 952.9L176.0 918.7Q179.2 911.4 186.7 914.3L307.8 960.9Q315.2 963.8 312.2 971.2L298.4 1005.1Q295.4 1012.5 287.9 1009.7Z" transform="translate(0 3.0)" fill="#0c0870" opacity="0.9500000000000001"/></g>
<path d="M165.0 963.0Q157.5 960.2 160.8 952.9L176.0 918.7Q179.2 911.4 186.7 914.3L307.8 960.9Q315.2 963.8 312.2 971.2L298.4 1005.1Q295.4 1012.5 287.9 1009.7Z" fill="#2808ff" opacity="0.8"/>
<path d="M165.0 963.0Q157.5 960.2 160.8 952.9L176.0 918.7Q179.2 911.4 186.7 914.3L307.8 960.9Q315.2 963.8 312.2 971.2L298.4 1005.1Q295.4 1012.5 287.9 1009.7Z" fill="url(#shine)" opacity="0.16"/>
<g fill="#d2d4e4" stroke="#1c1c70" stroke-width="0.9" opacity="1.0"><ellipse cx="238.2" cy="941.5" rx="9.3" ry="1.9" transform="rotate(18.7 238.2 941.5)"/><ellipse cx="256.0" cy="947.5" rx="9.3" ry="1.9" transform="rotate(18.7 256.0 947.5)"/><ellipse cx="273.8" cy="953.6" rx="9.3" ry="1.9" transform="rotate(18.7 273.8 953.6)"/><ellipse cx="291.6" cy="959.6" rx="9.3" ry="1.9" transform="rotate(18.7 291.6 959.6)"/><ellipse cx="235.8" cy="946.7" rx="9.3" ry="1.9" transform="rotate(18.7 235.8 946.7)"/><ellipse cx="253.6" cy="952.7" rx="9.3" ry="1.9" transform="rotate(18.7 253.6 952.7)"/><ellipse cx="271.4" cy="958.7" rx="9.3" ry="1.9" transform="rotate(18.7 271.4 958.7)"/><ellipse cx="289.2" cy="964.8" rx="9.3" ry="1.9" transform="rotate(18.7 289.2 964.8)"/><ellipse cx="233.4" cy="951.9" rx="9.3" ry="1.9" transform="rotate(18.7 233.4 951.9)"/><ellipse cx="251.2" cy="957.9" rx="9.3" ry="1.9" transform="rotate(18.7 251.2 957.9)"/><ellipse cx="269.0" cy="963.9" rx="9.3" ry="1.9" transform="rotate(18.7 269.0 963.9)"/><ellipse cx="286.8" cy="969.9" rx="9.3" ry="1.9" transform="rotate(18.7 286.8 969.9)"/><ellipse cx="231.0" cy="957.1" rx="9.3" ry="1.9" transform="rotate(18.7 231.0 957.1)"/><ellipse cx="248.8" cy="963.1" rx="9.3" ry="1.9" transform="rotate(18.7 248.8 963.1)"/><ellipse cx="266.6" cy="969.1" rx="9.3" ry="1.9" transform="rotate(18.7 266.6 969.1)"/><ellipse cx="284.4" cy="975.1" rx="9.3" ry="1.9" transform="rotate(18.7 284.4 975.1)"/><ellipse cx="228.6" cy="962.2" rx="9.3" ry="1.9" transform="rotate(18.7 228.6 962.2)"/><ellipse cx="246.4" cy="968.2" rx="9.3" ry="1.9" transform="rotate(18.7 246.4 968.2)"/><ellipse cx="264.2" cy="974.3" rx="9.3" ry="1.9" transform="rotate(18.7 264.2 974.3)"/><ellipse cx="282.0" cy="980.3" rx="9.3" ry="1.9" transform="rotate(18.7 282.0 980.3)"/><ellipse cx="226.2" cy="967.4" rx="9.3" ry="1.9" transform="rotate(18.7 226.2 967.4)"/><ellipse cx="244.0" cy="973.4" rx="9.3" ry="1.9" transform="rotate(18.7 244.0 973.4)"/><ellipse cx="261.8" cy="979.4" rx="9.3" ry="1.9" transform="rotate(18.7 261.8 979.4)"/><ellipse cx="279.6" cy="985.5" rx="9.3" ry="1.9" transform="rotate(18.7 279.6 985.5)"/></g>
<line x1="117.8" y1="949.1" x2="219.5" y2="981.2" stroke="#111" stroke-width="1.8" stroke-dasharray="6 3.2"/>
<line x1="125.6" y1="945.7" x2="199.1" y2="1002.3" stroke="#111" stroke-width="1.8" stroke-dasharray="6 3.2"/>
<path d="M328.8 997.2 C338.6 997.2 344.2 992.0 341.4 986.4 C339.6 981.7 334.9 978.0 330.7 976.3" fill="none" stroke="#000" stroke-width="3.2"/>
<path d="M323.4 973.9 L333.0 974.0 L329.6 981.0 Z" fill="#000"/>
<text x="347.7" y="1021.6" font-family="'Liberation Sans', sans-serif" font-size="36" text-anchor="start" fill="#000" textLength="68.5" lengthAdjust="spacingAndGlyphs">-30°</text>
<text x="128.1" y="1037.8" font-family="'Liberation Sans', sans-serif" font-size="35.5" text-anchor="start" fill="#3300ff" textLength="40.3" lengthAdjust="spacingAndGlyphs">R2</text>
<path d="M160.0 1125.8Q152.7 1120.6 160.6 1116.2L206.3 1090.6Q214.1 1086.2 221.4 1091.5L303.7 1150.8Q311.0 1156.1 303.2 1160.5L257.5 1186.0Q249.6 1190.4 242.3 1185.1Z" transform="translate(0 3.8)" fill="#1400b0"/>
<path d="M160.0 1125.8Q152.7 1120.6 160.6 1116.2L206.3 1090.6Q214.1 1086.2 221.4 1091.5L303.7 1150.8Q311.0 1156.1 303.2 1160.5L257.5 1186.0Q249.6 1190.4 242.3 1185.1Z" fill="#2000ff" opacity="1"/>
<path d="M160.0 1125.8Q152.7 1120.6 160.6 1116.2L206.3 1090.6Q214.1 1086.2 221.4 1091.5L303.7 1150.8Q311.0 1156.1 303.2 1160.5L257.5 1186.0Q249.6 1190.4 242.3 1185.1Z" fill="url(#shade)" opacity="0.07"/>
<g fill="#b2acf4" stroke="#4a3ce6" stroke-width="0.5" opacity="1.0"><ellipse cx="212.3" cy="1140.4" rx="7.2" ry="2.0" transform="rotate(37.2 212.3 1140.4)"/><ellipse cx="225.3" cy="1150.3" rx="7.2" ry="2.0" transform="rotate(37.2 225.3 1150.3)"/><ellipse cx="238.3" cy="1160.2" rx="7.2" ry="2.0" transform="rotate(37.2 238.3 1160.2)"/><ellipse cx="251.3" cy="1170.0" rx="7.2" ry="2.0" transform="rotate(37.2 251.3 1170.0)"/><ellipse cx="218.6" cy="1136.8" rx="7.2" ry="2.0" transform="rotate(37.2 218.6 1136.8)"/><ellipse cx="231.6" cy="1146.7" rx="7.2" ry="2.0" transform="rotate(37.2 231.6 1146.7)"/><ellipse cx="244.6" cy="1156.5" rx="7.2" ry="2.0" transform="rotate(37.2 244.6 1156.5)"/><ellipse cx="257.6" cy="1166.4" rx="7.2" ry="2.0" transform="rotate(37.2 257.6 1166.4)"/><ellipse cx="224.8" cy="1133.2" rx="7.2" ry="2.0" transform="rotate(37.2 224.8 1133.2)"/><ellipse cx="237.8" cy="1143.1" rx="7.2" ry="2.0" transform="rotate(37.2 237.8 1143.1)"/><ellipse cx="250.8" cy="1152.9" rx="7.2" ry="2.0" transform="rotate(37.2 250.8 1152.9)"/><ellipse cx="263.8" cy="1162.8" rx="7.2" ry="2.0" transform="rotate(37.2 263.8 1162.8)"/><ellipse cx="231.1" cy="1129.6" rx="7.2" ry="2.0" transform="rotate(37.2 231.1 1129.6)"/><ellipse cx="244.1" cy="1139.5" rx="7.2" ry="2.0" transform="rotate(37.2 244.1 1139.5)"/><ellipse cx="257.1" cy="1149.3" rx="7.2" ry="2.0" transform="rotate(37.2 257.1 1149.3)"/><ellipse cx="270.1" cy="1159.2" rx="7.2" ry="2.0" transform="rotate(37.2 270.1 1159.2)"/><ellipse cx="237.3" cy="1126.0" rx="7.2" ry="2.0" transform="rotate(37.2 237.3 1126.0)"/><ellipse cx="250.3" cy="1135.8" rx="7.2" ry="2.0" transform="rotate(37.2 250.3 1135.8)"/><ellipse cx="263.3" cy="1145.7" rx="7.2" ry="2.0" transform="rotate(37.2 263.3 1145.7)"/><ellipse cx="276.3" cy="1155.6" rx="7.2" ry="2.0" transform="rotate(37.2 276.3 1155.6)"/><ellipse cx="243.6" cy="1122.4" rx="7.2" ry="2.0" transform="rotate(37.2 243.6 1122.4)"/><ellipse cx="256.6" cy="1132.2" rx="7.2" ry="2.0" transform="rotate(37.2 256.6 1132.2)"/><ellipse cx="269.6" cy="1142.1" rx="7.2" ry="2.0" transform="rotate(37.2 269.6 1142.1)"/><ellipse cx="282.6" cy="1152.0" rx="7.2" ry="2.0" transform="rotate(37.2 282.6 1152.0)"/></g>
<text x="130.3" y="1187.4" font-family="'Liberation Sans', sans-serif" font-size="35.5" text-anchor="start" fill="#3300ff" textLength="38.0" lengthAdjust="spacingAndGlyphs">R1</text>
<path d="M1673.8 824.3Q1666.7 820.6 1673.2 816.0L1775.3 744.4Q1781.8 739.9 1788.9 743.6L1847.8 774.7Q1854.9 778.5 1848.3 783.1L1746.3 854.6Q1739.7 859.2 1732.6 855.5Z" transform="translate(0 3.8)" fill="#a01010"/>
<path d="M1673.8 824.3Q1666.7 820.6 1673.2 816.0L1775.3 744.4Q1781.8 739.9 1788.9 743.6L1847.8 774.7Q1854.9 778.5 1848.3 783.1L1746.3 854.6Q1739.7 859.2 1732.6 855.5Z" fill="#ff1408" opacity="1"/>
<path d="M1673.8 824.3Q1666.7 820.6 1673.2 816.0L1775.3 744.4Q1781.8 739.9 1788.9 743.6L1847.8 774.7Q1854.9 778.5 1848.3 783.1L1746.3 854.6Q1739.7 859.2 1732.6 855.5Z" fill="url(#shade)" opacity="0.07"/>
<mask id="m13" maskUnits="userSpaceOnUse" x="1571.8" y="590.9" width="420.0" height="420.0"><rect x="1571.8" y="590.9" width="420.0" height="420.0" fill="#fff"/><path d="M1684.5 780.2Q1681.4 772.9 1688.9 770.1L1822.8 720.2Q1830.3 717.4 1833.2 724.8L1847.8 762.6Q1850.6 770.0 1843.1 772.6L1709.4 818.7Q1701.8 821.3 1698.7 813.9Z" fill="#2a2a2a"/><path d="M1691.4 720.3Q1691.4 711.3 1700.4 710.6L1840.7 699.2Q1849.7 698.4 1849.8 707.4L1850.3 752.9Q1850.4 761.9 1841.4 762.6L1700.5 774.0Q1691.5 774.7 1691.5 765.7Z" fill="#2a2a2a"/></mask>
<g fill="#ab939d" stroke="#4e262c" stroke-width="1.0" opacity="1.0" mask="url(#m13)"><ellipse cx="1781.8" cy="800.9" rx="8.7" ry="2.1" transform="rotate(-35.3 1781.8 800.9)"/><ellipse cx="1767.4" cy="811.2" rx="8.7" ry="2.1" transform="rotate(-35.3 1767.4 811.2)"/><ellipse cx="1752.9" cy="821.4" rx="8.7" ry="2.1" transform="rotate(-35.3 1752.9 821.4)"/><ellipse cx="1738.4" cy="831.7" rx="8.7" ry="2.1" transform="rotate(-35.3 1738.4 831.7)"/><ellipse cx="1774.0" cy="797.6" rx="8.7" ry="2.1" transform="rotate(-35.3 1774.0 797.6)"/><ellipse cx="1759.5" cy="807.8" rx="8.7" ry="2.1" transform="rotate(-35.3 1759.5 807.8)"/><ellipse cx="1745.0" cy="818.1" rx="8.7" ry="2.1" transform="rotate(-35.3 1745.0 818.1)"/><ellipse cx="1730.6" cy="828.3" rx="8.7" ry="2.1" transform="rotate(-35.3 1730.6 828.3)"/><ellipse cx="1766.1" cy="794.2" rx="8.7" ry="2.1" transform="rotate(-35.3 1766.1 794.2)"/><ellipse cx="1751.6" cy="804.5" rx="8.7" ry="2.1" transform="rotate(-35.3 1751.6 804.5)"/><ellipse cx="1737.2" cy="814.7" rx="8.7" ry="2.1" transform="rotate(-35.3 1737.2 814.7)"/><ellipse cx="1722.7" cy="825.0" rx="8.7" ry="2.1" transform="rotate(-35.3 1722.7 825.0)"/><ellipse cx="1758.2" cy="790.8" rx="8.7" ry="2.1" transform="rotate(-35.3 1758.2 790.8)"/><ellipse cx="1743.8" cy="801.1" rx="8.7" ry="2.1" transform="rotate(-35.3 1743.8 801.1)"/><ellipse cx="1729.3" cy="811.3" rx="8.7" ry="2.1" transform="rotate(-35.3 1729.3 811.3)"/><ellipse cx="1714.8" cy="821.6" rx="8.7" ry="2.1" transform="rotate(-35.3 1714.8 821.6)"/><ellipse cx="1750.4" cy="787.5" rx="8.7" ry="2.1" transform="rotate(-35.3 1750.4 787.5)"/><ellipse cx="1735.9" cy="797.7" rx="8.7" ry="2.1" transform="rotate(-35.3 1735.9 797.7)"/><ellipse cx="1721.4" cy="808.0" rx="8.7" ry="2.1" transform="rotate(-35.3 1721.4 808.0)"/><ellipse cx="1707.0" cy="818.2" rx="8.7" ry="2.1" transform="rotate(-35.3 1707.0 818.2)"/><ellipse cx="1742.5" cy="784.1" rx="8.7" ry="2.1" transform="rotate(-35.3 1742.5 784.1)"/><ellipse cx="1728.0" cy="794.3" rx="8.7" ry="2.1" transform="rotate(-35.3 1728.0 794.3)"/><ellipse cx="1713.6" cy="804.6" rx="8.7" ry="2.1" transform="rotate(-35.3 1713.6 804.6)"/><ellipse cx="1699.1" cy="814.8" rx="8.7" ry="2.1" transform="rotate(-35.3 1699.1 814.8)"/></g>
<mask id="m14" maskUnits="userSpaceOnUse" x="1673.4" y="709.4" width="185.2" height="119.9"><rect x="1673.4" y="709.4" width="185.2" height="119.9" fill="#fff"/><path d="M1684.5 780.2Q1681.4 772.9 1688.9 770.1L1822.8 720.2Q1830.3 717.4 1833.2 724.8L1847.8 762.6Q1850.6 770.0 1843.1 772.6L1709.4 818.7Q1701.8 821.3 1698.7 813.9Z" fill="#000" transform="translate(0 -0.8)"/></mask>
<g mask="url(#m14)"><path d="M1684.5 780.2Q1681.4 772.9 1688.9 770.1L1822.8 720.2Q1830.3 717.4 1833.2 724.8L1847.8 762.6Q1850.6 770.0 1843.1 772.6L1709.4 818.7Q1701.8 821.3 1698.7 813.9Z" transform="translate(0 3.0)" fill="#6a0a0a" opacity="0.99"/></g>
<path d="M1684.5 780.2Q1681.4 772.9 1688.9 770.1L1822.8 720.2Q1830.3 717.4 1833.2 724.8L1847.8 762.6Q1850.6 770.0 1843.1 772.6L1709.4 818.7Q1701.8 821.3 1698.7 813.9Z" fill="#ff1208" opacity="0.84"/>
<path d="M1684.5 780.2Q1681.4 772.9 1688.9 770.1L1822.8 720.2Q1830.3 717.4 1833.2 724.8L1847.8 762.6Q1850.6 770.0 1843.1 772.6L1709.4 818.7Q1701.8 821.3 1698.7 813.9Z" fill="url(#shine)" opacity="0.16"/>
<mask id="m15" maskUnits="userSpaceOnUse" x="1499.9" y="559.8" width="420.0" height="420.0"><rect x="1499.9" y="559.8" width="420.0" height="420.0" fill="#fff"/><path d="M1691.4 720.3Q1691.4 711.3 1700.4 710.6L1840.7 699.2Q1849.7 698.4 1849.8 707.4L1850.3 752.9Q1850.4 761.9 1841.4 762.6L1700.5 774.0Q1691.5 774.7 1691.5 765.7Z" fill="#2a2a2a"/></mask>
<g fill="#ab939d" stroke="#4e262c" stroke-width="1.0" opacity="1.0" mask="url(#m15)"><ellipse cx="1709.9" cy="769.8" rx="10.8" ry="2.5" transform="rotate(-16.7 1709.9 769.8)"/><ellipse cx="1731.0" cy="763.4" rx="10.8" ry="2.5" transform="rotate(-16.7 1731.0 763.4)"/><ellipse cx="1752.1" cy="757.1" rx="10.8" ry="2.5" transform="rotate(-16.7 1752.1 757.1)"/><ellipse cx="1773.1" cy="750.8" rx="10.8" ry="2.5" transform="rotate(-16.7 1773.1 750.8)"/><ellipse cx="1711.8" cy="775.7" rx="10.8" ry="2.5" transform="rotate(-16.7 1711.8 775.7)"/><ellipse cx="1732.8" cy="769.3" rx="10.8" ry="2.5" transform="rotate(-16.7 1732.8 769.3)"/><ellipse cx="1753.9" cy="763.0" rx="10.8" ry="2.5" transform="rotate(-16.7 1753.9 763.0)"/><ellipse cx="1775.0" cy="756.7" rx="10.8" ry="2.5" transform="rotate(-16.7 1775.0 756.7)"/><ellipse cx="1713.6" cy="781.6" rx="10.8" ry="2.5" transform="rotate(-16.7 1713.6 781.6)"/><ellipse cx="1734.6" cy="775.2" rx="10.8" ry="2.5" transform="rotate(-16.7 1734.6 775.2)"/><ellipse cx="1755.7" cy="768.9" rx="10.8" ry="2.5" transform="rotate(-16.7 1755.7 768.9)"/><ellipse cx="1776.8" cy="762.6" rx="10.8" ry="2.5" transform="rotate(-16.7 1776.8 762.6)"/><ellipse cx="1715.4" cy="787.5" rx="10.8" ry="2.5" transform="rotate(-16.7 1715.4 787.5)"/><ellipse cx="1736.5" cy="781.1" rx="10.8" ry="2.5" transform="rotate(-16.7 1736.5 781.1)"/><ellipse cx="1757.5" cy="774.8" rx="10.8" ry="2.5" transform="rotate(-16.7 1757.5 774.8)"/><ellipse cx="1778.6" cy="768.5" rx="10.8" ry="2.5" transform="rotate(-16.7 1778.6 768.5)"/><ellipse cx="1717.2" cy="793.4" rx="10.8" ry="2.5" transform="rotate(-16.7 1717.2 793.4)"/><ellipse cx="1738.3" cy="787.0" rx="10.8" ry="2.5" transform="rotate(-16.7 1738.3 787.0)"/><ellipse cx="1759.4" cy="780.7" rx="10.8" ry="2.5" transform="rotate(-16.7 1759.4 780.7)"/><ellipse cx="1780.4" cy="774.4" rx="10.8" ry="2.5" transform="rotate(-16.7 1780.4 774.4)"/><ellipse cx="1719.1" cy="799.3" rx="10.8" ry="2.5" transform="rotate(-16.7 1719.1 799.3)"/><ellipse cx="1740.1" cy="792.9" rx="10.8" ry="2.5" transform="rotate(-16.7 1740.1 792.9)"/><ellipse cx="1761.2" cy="786.6" rx="10.8" ry="2.5" transform="rotate(-16.7 1761.2 786.6)"/><ellipse cx="1782.3" cy="780.3" rx="10.8" ry="2.5" transform="rotate(-16.7 1782.3 780.3)"/></g>
<mask id="m16" maskUnits="userSpaceOnUse" x="1683.4" y="690.4" width="175.0" height="92.3"><rect x="1683.4" y="690.4" width="175.0" height="92.3" fill="#fff"/><path d="M1691.4 720.3Q1691.4 711.3 1700.4 710.6L1840.7 699.2Q1849.7 698.4 1849.8 707.4L1850.3 752.9Q1850.4 761.9 1841.4 762.6L1700.5 774.0Q1691.5 774.7 1691.5 765.7Z" fill="#000" transform="translate(0 -0.8)"/></mask>
<g mask="url(#m16)"><path d="M1691.4 720.3Q1691.4 711.3 1700.4 710.6L1840.7 699.2Q1849.7 698.4 1849.8 707.4L1850.3 752.9Q1850.4 761.9 1841.4 762.6L1700.5 774.0Q1691.5 774.7 1691.5 765.7Z" transform="translate(0 3.0)" fill="#6a0a0a" opacity="0.9500000000000001"/></g>
<path d="M1691.4 720.3Q1691.4 711.3 1700.4 710.6L1840.7 699.2Q1849.7 698.4 1849.8 707.4L1850.3 752.9Q1850.4 761.9 1841.4 762.6L1700.5 774.0Q1691.5 774.7 1691.5 765.7Z" fill="#ff1810" opacity="0.8"/>
<path d="M1691.4 720.3Q1691.4 711.3 1700.4 710.6L1840.7 699.2Q1849.7 698.4 1849.8 707.4L1850.3 752.9Q1850.4 761.9 1841.4 762.6L1700.5 774.0Q1691.5 774.7 1691.5 765.7Z" fill="url(#shine)" opacity="0.16"/>
<g fill="#ab939d" stroke="#4e262c" stroke-width="1.0" opacity="1.0"><ellipse cx="1717.9" cy="725.8" rx="10.4" ry="2.5" transform="rotate(-4.0 1717.9 725.8)"/><ellipse cx="1738.0" cy="724.4" rx="10.4" ry="2.5" transform="rotate(-4.0 1738.0 724.4)"/><ellipse cx="1758.1" cy="723.0" rx="10.4" ry="2.5" transform="rotate(-4.0 1758.1 723.0)"/><ellipse cx="1778.2" cy="721.6" rx="10.4" ry="2.5" transform="rotate(-4.0 1778.2 721.6)"/><ellipse cx="1718.4" cy="731.7" rx="10.4" ry="2.5" transform="rotate(-4.0 1718.4 731.7)"/><ellipse cx="1738.4" cy="730.3" rx="10.4" ry="2.5" transform="rotate(-4.0 1738.4 730.3)"/><ellipse cx="1758.5" cy="728.9" rx="10.4" ry="2.5" transform="rotate(-4.0 1758.5 728.9)"/><ellipse cx="1778.6" cy="727.5" rx="10.4" ry="2.5" transform="rotate(-4.0 1778.6 727.5)"/><ellipse cx="1718.8" cy="737.6" rx="10.4" ry="2.5" transform="rotate(-4.0 1718.8 737.6)"/><ellipse cx="1738.9" cy="736.2" rx="10.4" ry="2.5" transform="rotate(-4.0 1738.9 736.2)"/><ellipse cx="1758.9" cy="734.8" rx="10.4" ry="2.5" transform="rotate(-4.0 1758.9 734.8)"/><ellipse cx="1779.0" cy="733.4" rx="10.4" ry="2.5" transform="rotate(-4.0 1779.0 733.4)"/><ellipse cx="1719.2" cy="743.5" rx="10.4" ry="2.5" transform="rotate(-4.0 1719.2 743.5)"/><ellipse cx="1739.3" cy="742.1" rx="10.4" ry="2.5" transform="rotate(-4.0 1739.3 742.1)"/><ellipse cx="1759.4" cy="740.7" rx="10.4" ry="2.5" transform="rotate(-4.0 1759.4 740.7)"/><ellipse cx="1779.4" cy="739.3" rx="10.4" ry="2.5" transform="rotate(-4.0 1779.4 739.3)"/><ellipse cx="1719.6" cy="749.4" rx="10.4" ry="2.5" transform="rotate(-4.0 1719.6 749.4)"/><ellipse cx="1739.7" cy="748.0" rx="10.4" ry="2.5" transform="rotate(-4.0 1739.7 748.0)"/><ellipse cx="1759.8" cy="746.6" rx="10.4" ry="2.5" transform="rotate(-4.0 1759.8 746.6)"/><ellipse cx="1779.9" cy="745.2" rx="10.4" ry="2.5" transform="rotate(-4.0 1779.9 745.2)"/><ellipse cx="1720.0" cy="755.3" rx="10.4" ry="2.5" transform="rotate(-4.0 1720.0 755.3)"/><ellipse cx="1740.1" cy="753.9" rx="10.4" ry="2.5" transform="rotate(-4.0 1740.1 753.9)"/><ellipse cx="1760.2" cy="752.5" rx="10.4" ry="2.5" transform="rotate(-4.0 1760.2 752.5)"/><ellipse cx="1780.3" cy="751.1" rx="10.4" ry="2.5" transform="rotate(-4.0 1780.3 751.1)"/></g>
<line x1="1847.8" y1="760.2" x2="1915.9" y2="753.9" stroke="#111" stroke-width="1.8" stroke-dasharray="6 3.2"/>
<line x1="1849.2" y1="770.0" x2="1911.0" y2="749.0" stroke="#111" stroke-width="1.8" stroke-dasharray="6 3.2"/>
<line x1="1854.9" y1="779.9" x2="1901.2" y2="751.8" stroke="#111" stroke-width="1.8" stroke-dasharray="6 3.2"/>
<path d="M1679.5 767.2 C1668.3 767.2 1661.9 761.4 1665.1 755.0 C1667.2 749.6 1672.6 745.4 1677.4 743.4" fill="none" stroke="#000" stroke-width="3.2"/>
<path d="M1685.7 740.7 L1674.7 740.9 L1678.6 748.8 Z" fill="#000"/>
<path d="M1667.8 807.8 C1656.8 807.8 1650.5 802.0 1653.6 795.7 C1655.7 790.4 1661.0 786.2 1665.7 784.3" fill="none" stroke="#000" stroke-width="3.2"/>
<path d="M1673.9 781.6 L1663.1 781.8 L1667.0 789.6 Z" fill="#000"/>
<text x="1568.0" y="775.4" font-family="'Liberation Sans', sans-serif" font-size="36" text-anchor="start" fill="#000" textLength="78.5" lengthAdjust="spacingAndGlyphs">+30°</text>
<text x="1552.8" y="828.8" font-family="'Liberation Sans', sans-serif" font-size="36" text-anchor="start" fill="#000" textLength="78.5" lengthAdjust="spacingAndGlyphs">+30°</text>
<text x="1841.6" y="848.0" font-family="'Liberation Sans', sans-serif" font-size="35.5" text-anchor="start" fill="#ff0000" textLength="36.6" lengthAdjust="spacingAndGlyphs">L3</text>
<path d="M1682.2 1012.6Q1675.1 1008.8 1681.7 1004.3L1778.8 937.5Q1785.3 933.0 1792.4 936.7L1847.1 965.1Q1854.2 968.8 1847.6 973.4L1751.2 1040.8Q1744.6 1045.3 1737.5 1041.6Z" transform="translate(0 3.8)" fill="#a01010"/>
<path d="M1682.2 1012.6Q1675.1 1008.8 1681.7 1004.3L1778.8 937.5Q1785.3 933.0 1792.4 936.7L1847.1 965.1Q1854.2 968.8 1847.6 973.4L1751.2 1040.8Q1744.6 1045.3 1737.5 1041.6Z" fill="#ff1408" opacity="1"/>
<path d="M1682.2 1012.6Q1675.1 1008.8 1681.7 1004.3L1778.8 937.5Q1785.3 933.0 1792.4 936.7L1847.1 965.1Q1854.2 968.8 1847.6 973.4L1751.2 1040.8Q1744.6 1045.3 1737.5 1041.6Z" fill="url(#shade)" opacity="0.07"/>
<mask id="m17" maskUnits="userSpaceOnUse" x="1576.0" y="777.8" width="420.0" height="420.0"><rect x="1576.0" y="777.8" width="420.0" height="420.0" fill="#fff"/><path d="M1693.8 973.3Q1690.6 966.0 1698.0 963.0L1818.7 914.2Q1826.1 911.2 1829.4 918.5L1845.2 953.1Q1848.5 960.4 1841.1 963.3L1719.1 1010.2Q1711.6 1013.0 1708.3 1005.7Z" fill="#2a2a2a"/></mask>
<g fill="#ab939d" stroke="#4e262c" stroke-width="1.0" opacity="1.0" mask="url(#m17)"><ellipse cx="1786.0" cy="987.8" rx="9.0" ry="2.1" transform="rotate(-35.0 1786.0 987.8)"/><ellipse cx="1771.0" cy="998.3" rx="9.0" ry="2.1" transform="rotate(-35.0 1771.0 998.3)"/><ellipse cx="1756.0" cy="1008.8" rx="9.0" ry="2.1" transform="rotate(-35.0 1756.0 1008.8)"/><ellipse cx="1741.0" cy="1019.4" rx="9.0" ry="2.1" transform="rotate(-35.0 1741.0 1019.4)"/><ellipse cx="1779.4" cy="984.7" rx="9.0" ry="2.1" transform="rotate(-35.0 1779.4 984.7)"/><ellipse cx="1764.4" cy="995.2" rx="9.0" ry="2.1" transform="rotate(-35.0 1764.4 995.2)"/><ellipse cx="1749.4" cy="1005.7" rx="9.0" ry="2.1" transform="rotate(-35.0 1749.4 1005.7)"/><ellipse cx="1734.4" cy="1016.3" rx="9.0" ry="2.1" transform="rotate(-35.0 1734.4 1016.3)"/><ellipse cx="1772.8" cy="981.6" rx="9.0" ry="2.1" transform="rotate(-35.0 1772.8 981.6)"/><ellipse cx="1757.8" cy="992.1" rx="9.0" ry="2.1" transform="rotate(-35.0 1757.8 992.1)"/><ellipse cx="1742.8" cy="1002.7" rx="9.0" ry="2.1" transform="rotate(-35.0 1742.8 1002.7)"/><ellipse cx="1727.8" cy="1013.2" rx="9.0" ry="2.1" transform="rotate(-35.0 1727.8 1013.2)"/><ellipse cx="1766.2" cy="978.5" rx="9.0" ry="2.1" transform="rotate(-35.0 1766.2 978.5)"/><ellipse cx="1751.2" cy="989.0" rx="9.0" ry="2.1" transform="rotate(-35.0 1751.2 989.0)"/><ellipse cx="1736.2" cy="999.6" rx="9.0" ry="2.1" transform="rotate(-35.0 1736.2 999.6)"/><ellipse cx="1721.2" cy="1010.1" rx="9.0" ry="2.1" transform="rotate(-35.0 1721.2 1010.1)"/><ellipse cx="1759.6" cy="975.4" rx="9.0" ry="2.1" transform="rotate(-35.0 1759.6 975.4)"/><ellipse cx="1744.6" cy="985.9" rx="9.0" ry="2.1" transform="rotate(-35.0 1744.6 985.9)"/><ellipse cx="1729.6" cy="996.5" rx="9.0" ry="2.1" transform="rotate(-35.0 1729.6 996.5)"/><ellipse cx="1714.6" cy="1007.0" rx="9.0" ry="2.1" transform="rotate(-35.0 1714.6 1007.0)"/><ellipse cx="1753.0" cy="972.3" rx="9.0" ry="2.1" transform="rotate(-35.0 1753.0 972.3)"/><ellipse cx="1738.0" cy="982.9" rx="9.0" ry="2.1" transform="rotate(-35.0 1738.0 982.9)"/><ellipse cx="1723.0" cy="993.4" rx="9.0" ry="2.1" transform="rotate(-35.0 1723.0 993.4)"/><ellipse cx="1708.0" cy="1003.9" rx="9.0" ry="2.1" transform="rotate(-35.0 1708.0 1003.9)"/></g>
<mask id="m18" maskUnits="userSpaceOnUse" x="1682.6" y="903.2" width="174.0" height="117.8"><rect x="1682.6" y="903.2" width="174.0" height="117.8" fill="#fff"/><path d="M1693.8 973.3Q1690.6 966.0 1698.0 963.0L1818.7 914.2Q1826.1 911.2 1829.4 918.5L1845.2 953.1Q1848.5 960.4 1841.1 963.3L1719.1 1010.2Q1711.6 1013.0 1708.3 1005.7Z" fill="#000" transform="translate(0 -0.8)"/></mask>
<g mask="url(#m18)"><path d="M1693.8 973.3Q1690.6 966.0 1698.0 963.0L1818.7 914.2Q1826.1 911.2 1829.4 918.5L1845.2 953.1Q1848.5 960.4 1841.1 963.3L1719.1 1010.2Q1711.6 1013.0 1708.3 1005.7Z" transform="translate(0 3.0)" fill="#6a0a0a" opacity="0.9500000000000001"/></g>
<path d="M1693.8 973.3Q1690.6 966.0 1698.0 963.0L1818.7 914.2Q1826.1 911.2 1829.4 918.5L1845.2 953.1Q1848.5 960.4 1841.1 963.3L1719.1 1010.2Q1711.6 1013.0 1708.3 1005.7Z" fill="#ff1810" opacity="0.8"/>
<path d="M1693.8 973.3Q1690.6 966.0 1698.0 963.0L1818.7 914.2Q1826.1 911.2 1829.4 918.5L1845.2 953.1Q1848.5 960.4 1841.1 963.3L1719.1 1010.2Q1711.6 1013.0 1708.3 1005.7Z" fill="url(#shine)" opacity="0.16"/>
<g fill="#ab939d" stroke="#4e262c" stroke-width="1.0" opacity="1.0"><ellipse cx="1715.8" cy="964.9" rx="9.8" ry="2.4" transform="rotate(-22.1 1715.8 964.9)"/><ellipse cx="1733.8" cy="957.6" rx="9.8" ry="2.4" transform="rotate(-22.1 1733.8 957.6)"/><ellipse cx="1751.8" cy="950.3" rx="9.8" ry="2.4" transform="rotate(-22.1 1751.8 950.3)"/><ellipse cx="1769.8" cy="943.0" rx="9.8" ry="2.4" transform="rotate(-22.1 1769.8 943.0)"/><ellipse cx="1717.9" cy="970.5" rx="9.8" ry="2.4" transform="rotate(-22.1 1717.9 970.5)"/><ellipse cx="1735.9" cy="963.2" rx="9.8" ry="2.4" transform="rotate(-22.1 1735.9 963.2)"/><ellipse cx="1753.9" cy="955.9" rx="9.8" ry="2.4" transform="rotate(-22.1 1753.9 955.9)"/><ellipse cx="1771.9" cy="948.6" rx="9.8" ry="2.4" transform="rotate(-22.1 1771.9 948.6)"/><ellipse cx="1720.0" cy="976.1" rx="9.8" ry="2.4" transform="rotate(-22.1 1720.0 976.1)"/><ellipse cx="1738.0" cy="968.8" rx="9.8" ry="2.4" transform="rotate(-22.1 1738.0 968.8)"/><ellipse cx="1756.0" cy="961.5" rx="9.8" ry="2.4" transform="rotate(-22.1 1756.0 961.5)"/><ellipse cx="1774.0" cy="954.2" rx="9.8" ry="2.4" transform="rotate(-22.1 1774.0 954.2)"/><ellipse cx="1722.2" cy="981.7" rx="9.8" ry="2.4" transform="rotate(-22.1 1722.2 981.7)"/><ellipse cx="1740.1" cy="974.4" rx="9.8" ry="2.4" transform="rotate(-22.1 1740.1 974.4)"/><ellipse cx="1758.1" cy="967.1" rx="9.8" ry="2.4" transform="rotate(-22.1 1758.1 967.1)"/><ellipse cx="1776.1" cy="959.8" rx="9.8" ry="2.4" transform="rotate(-22.1 1776.1 959.8)"/><ellipse cx="1724.3" cy="987.3" rx="9.8" ry="2.4" transform="rotate(-22.1 1724.3 987.3)"/><ellipse cx="1742.2" cy="980.0" rx="9.8" ry="2.4" transform="rotate(-22.1 1742.2 980.0)"/><ellipse cx="1760.2" cy="972.7" rx="9.8" ry="2.4" transform="rotate(-22.1 1760.2 972.7)"/><ellipse cx="1778.2" cy="965.4" rx="9.8" ry="2.4" transform="rotate(-22.1 1778.2 965.4)"/><ellipse cx="1726.4" cy="993.0" rx="9.8" ry="2.4" transform="rotate(-22.1 1726.4 993.0)"/><ellipse cx="1744.3" cy="985.7" rx="9.8" ry="2.4" transform="rotate(-22.1 1744.3 985.7)"/><ellipse cx="1762.3" cy="978.4" rx="9.8" ry="2.4" transform="rotate(-22.1 1762.3 978.4)"/><ellipse cx="1780.3" cy="971.1" rx="9.8" ry="2.4" transform="rotate(-22.1 1780.3 971.1)"/></g>
<line x1="1855.6" y1="961.1" x2="1882.9" y2="945.6" stroke="#111" stroke-width="1.8" stroke-dasharray="6 3.2"/>
<line x1="1856.3" y1="964.6" x2="1887.9" y2="949.2" stroke="#111" stroke-width="1.8" stroke-dasharray="6 3.2"/>
<path d="M1679.2 999.0 C1668.6 999.0 1662.5 993.4 1665.6 987.4 C1667.6 982.3 1672.6 978.3 1677.2 976.5" fill="none" stroke="#000" stroke-width="3.2"/>
<path d="M1685.0 973.9 L1674.6 974.1 L1678.4 981.5 Z" fill="#000"/>
<text x="1573.8" y="1018.2" font-family="'Liberation Sans', sans-serif" font-size="36" text-anchor="start" fill="#000" textLength="78.2" lengthAdjust="spacingAndGlyphs">+30°</text>
<text x="1836.0" y="1037.6" font-family="'Liberation Sans', sans-serif" font-size="35.5" text-anchor="start" fill="#ff0000" textLength="36.0" lengthAdjust="spacingAndGlyphs">L2</text>
<path d="M1696.4 1163.4Q1688.4 1159.2 1695.8 1154.0L1779.4 1096.2Q1786.7 1091.1 1794.8 1095.1L1841.2 1118.0Q1849.2 1122.0 1841.9 1127.2L1758.3 1186.9Q1750.9 1192.2 1743.0 1188.0Z" transform="translate(0 3.8)" fill="#a01010"/>
<path d="M1696.4 1163.4Q1688.4 1159.2 1695.8 1154.0L1779.4 1096.2Q1786.7 1091.1 1794.8 1095.1L1841.2 1118.0Q1849.2 1122.0 1841.9 1127.2L1758.3 1186.9Q1750.9 1192.2 1743.0 1188.0Z" fill="#ff1408" opacity="1"/>
<path d="M1696.4 1163.4Q1688.4 1159.2 1695.8 1154.0L1779.4 1096.2Q1786.7 1091.1 1794.8 1095.1L1841.2 1118.0Q1849.2 1122.0 1841.9 1127.2L1758.3 1186.9Q1750.9 1192.2 1743.0 1188.0Z" fill="url(#shade)" opacity="0.07"/>
<g fill="#ab939d" stroke="#4e262c" stroke-width="1.0" opacity="1.0"><ellipse cx="1786.7" cy="1139.9" rx="7.4" ry="2.1" transform="rotate(-35.2 1786.7 1139.9)"/><ellipse cx="1774.8" cy="1148.4" rx="7.4" ry="2.1" transform="rotate(-35.2 1774.8 1148.4)"/><ellipse cx="1762.9" cy="1156.8" rx="7.4" ry="2.1" transform="rotate(-35.2 1762.9 1156.8)"/><ellipse cx="1750.9" cy="1165.2" rx="7.4" ry="2.1" transform="rotate(-35.2 1750.9 1165.2)"/><ellipse cx="1780.1" cy="1136.6" rx="7.4" ry="2.1" transform="rotate(-35.2 1780.1 1136.6)"/><ellipse cx="1768.2" cy="1145.0" rx="7.4" ry="2.1" transform="rotate(-35.2 1768.2 1145.0)"/><ellipse cx="1756.3" cy="1153.4" rx="7.4" ry="2.1" transform="rotate(-35.2 1756.3 1153.4)"/><ellipse cx="1744.3" cy="1161.8" rx="7.4" ry="2.1" transform="rotate(-35.2 1744.3 1161.8)"/><ellipse cx="1773.5" cy="1133.2" rx="7.4" ry="2.1" transform="rotate(-35.2 1773.5 1133.2)"/><ellipse cx="1761.6" cy="1141.6" rx="7.4" ry="2.1" transform="rotate(-35.2 1761.6 1141.6)"/><ellipse cx="1749.7" cy="1150.0" rx="7.4" ry="2.1" transform="rotate(-35.2 1749.7 1150.0)"/><ellipse cx="1737.7" cy="1158.5" rx="7.4" ry="2.1" transform="rotate(-35.2 1737.7 1158.5)"/><ellipse cx="1766.9" cy="1129.8" rx="7.4" ry="2.1" transform="rotate(-35.2 1766.9 1129.8)"/><ellipse cx="1755.0" cy="1138.2" rx="7.4" ry="2.1" transform="rotate(-35.2 1755.0 1138.2)"/><ellipse cx="1743.1" cy="1146.7" rx="7.4" ry="2.1" transform="rotate(-35.2 1743.1 1146.7)"/><ellipse cx="1731.1" cy="1155.1" rx="7.4" ry="2.1" transform="rotate(-35.2 1731.1 1155.1)"/><ellipse cx="1760.3" cy="1126.5" rx="7.4" ry="2.1" transform="rotate(-35.2 1760.3 1126.5)"/><ellipse cx="1748.4" cy="1134.9" rx="7.4" ry="2.1" transform="rotate(-35.2 1748.4 1134.9)"/><ellipse cx="1736.5" cy="1143.3" rx="7.4" ry="2.1" transform="rotate(-35.2 1736.5 1143.3)"/><ellipse cx="1724.5" cy="1151.7" rx="7.4" ry="2.1" transform="rotate(-35.2 1724.5 1151.7)"/><ellipse cx="1753.7" cy="1123.1" rx="7.4" ry="2.1" transform="rotate(-35.2 1753.7 1123.1)"/><ellipse cx="1741.8" cy="1131.5" rx="7.4" ry="2.1" transform="rotate(-35.2 1741.8 1131.5)"/><ellipse cx="1729.9" cy="1139.9" rx="7.4" ry="2.1" transform="rotate(-35.2 1729.9 1139.9)"/><ellipse cx="1717.9" cy="1148.4" rx="7.4" ry="2.1" transform="rotate(-35.2 1717.9 1148.4)"/></g>
<text x="1833.9" y="1186.6" font-family="'Liberation Sans', sans-serif" font-size="35.5" text-anchor="start" fill="#ff0000" textLength="34.0" lengthAdjust="spacingAndGlyphs">L1</text>
<text x="30.0" y="1304.3" font-family="'Liberation Serif', serif" font-size="64" text-anchor="start" fill="#000" font-weight="bold">d</text>
<path d="M157.6 1515.0Q152.3 1512.2 157.4 1509.0L223.1 1466.7Q228.1 1463.4 233.6 1466.0L271.3 1484.0Q276.7 1486.5 271.7 1489.9L205.8 1534.0Q200.8 1537.3 195.5 1534.6Z" transform="translate(0 1.6)" fill="#6e6e6e"/>
<path d="M157.6 1515.0Q152.3 1512.2 157.4 1509.0L223.1 1466.7Q228.1 1463.4 233.6 1466.0L271.3 1484.0Q276.7 1486.5 271.7 1489.9L205.8 1534.0Q200.8 1537.3 195.5 1534.6Z" fill="#8c8c8c" opacity="1.0"/>
<path d="M157.6 1515.0Q152.3 1512.2 157.4 1509.0L223.1 1466.7Q228.1 1463.4 233.6 1466.0L271.3 1484.0Q276.7 1486.5 271.7 1489.9L205.8 1534.0Q200.8 1537.3 195.5 1534.6Z" fill="url(#shade)" opacity="0.06"/>
<g fill="#9aa4ba" stroke="#454b5e" stroke-width="0.6" opacity="1.0"><ellipse cx="178.6" cy="1509.2" rx="5.8" ry="1.6" transform="rotate(-37.1 178.6 1509.2)"/><ellipse cx="188.5" cy="1501.7" rx="5.8" ry="1.6" transform="rotate(-37.1 188.5 1501.7)"/><ellipse cx="198.4" cy="1494.2" rx="5.8" ry="1.6" transform="rotate(-37.1 198.4 1494.2)"/><ellipse cx="208.3" cy="1486.7" rx="5.8" ry="1.6" transform="rotate(-37.1 208.3 1486.7)"/><ellipse cx="183.1" cy="1512.6" rx="5.8" ry="1.6" transform="rotate(-37.1 183.1 1512.6)"/><ellipse cx="193.0" cy="1505.1" rx="5.8" ry="1.6" transform="rotate(-37.1 193.0 1505.1)"/><ellipse cx="202.9" cy="1497.6" rx="5.8" ry="1.6" transform="rotate(-37.1 202.9 1497.6)"/><ellipse cx="212.8" cy="1490.1" rx="5.8" ry="1.6" transform="rotate(-37.1 212.8 1490.1)"/><ellipse cx="187.6" cy="1516.0" rx="5.8" ry="1.6" transform="rotate(-37.1 187.6 1516.0)"/><ellipse cx="197.5" cy="1508.5" rx="5.8" ry="1.6" transform="rotate(-37.1 197.5 1508.5)"/><ellipse cx="207.4" cy="1501.0" rx="5.8" ry="1.6" transform="rotate(-37.1 207.4 1501.0)"/><ellipse cx="217.3" cy="1493.5" rx="5.8" ry="1.6" transform="rotate(-37.1 217.3 1493.5)"/><ellipse cx="192.1" cy="1519.4" rx="5.8" ry="1.6" transform="rotate(-37.1 192.1 1519.4)"/><ellipse cx="202.0" cy="1511.9" rx="5.8" ry="1.6" transform="rotate(-37.1 202.0 1511.9)"/><ellipse cx="211.9" cy="1504.4" rx="5.8" ry="1.6" transform="rotate(-37.1 211.9 1504.4)"/><ellipse cx="221.8" cy="1496.9" rx="5.8" ry="1.6" transform="rotate(-37.1 221.8 1496.9)"/><ellipse cx="196.6" cy="1522.8" rx="5.8" ry="1.6" transform="rotate(-37.1 196.6 1522.8)"/><ellipse cx="206.5" cy="1515.3" rx="5.8" ry="1.6" transform="rotate(-37.1 206.5 1515.3)"/><ellipse cx="216.4" cy="1507.8" rx="5.8" ry="1.6" transform="rotate(-37.1 216.4 1507.8)"/><ellipse cx="226.3" cy="1500.3" rx="5.8" ry="1.6" transform="rotate(-37.1 226.3 1500.3)"/><ellipse cx="201.1" cy="1526.2" rx="5.8" ry="1.6" transform="rotate(-37.1 201.1 1526.2)"/><ellipse cx="211.0" cy="1518.7" rx="5.8" ry="1.6" transform="rotate(-37.1 211.0 1518.7)"/><ellipse cx="220.9" cy="1511.2" rx="5.8" ry="1.6" transform="rotate(-37.1 220.9 1511.2)"/><ellipse cx="230.8" cy="1503.7" rx="5.8" ry="1.6" transform="rotate(-37.1 230.8 1503.7)"/></g>
<path d="M672.9 1518.0Q667.4 1515.5 672.4 1512.2L736.0 1470.5Q741.0 1467.3 746.5 1469.6L786.6 1486.5Q792.1 1488.8 787.1 1492.2L723.5 1535.5Q718.5 1538.9 713.1 1536.4Z" transform="translate(0 1.6)" fill="#6e6e6e"/>
<path d="M672.9 1518.0Q667.4 1515.5 672.4 1512.2L736.0 1470.5Q741.0 1467.3 746.5 1469.6L786.6 1486.5Q792.1 1488.8 787.1 1492.2L723.5 1535.5Q718.5 1538.9 713.1 1536.4Z" fill="#8c8c8c" opacity="1.0"/>
<path d="M672.9 1518.0Q667.4 1515.5 672.4 1512.2L736.0 1470.5Q741.0 1467.3 746.5 1469.6L786.6 1486.5Q792.1 1488.8 787.1 1492.2L723.5 1535.5Q718.5 1538.9 713.1 1536.4Z" fill="url(#shade)" opacity="0.06"/>
<mask id="m19" maskUnits="userSpaceOnUse" x="483.7" y="1302.5" width="420.0" height="420.0"><rect x="483.7" y="1302.5" width="420.0" height="420.0" fill="#fff"/><path d="M668.1 1495.0Q665.2 1489.8 670.8 1487.7L756.2 1456.8Q761.9 1454.7 764.5 1460.2L774.4 1481.1Q777.0 1486.5 771.4 1488.6L688.8 1519.2Q683.2 1521.2 680.2 1516.0Z" fill="#2a2a2a"/></mask>
<g fill="#9aa4ba" stroke="#454b5e" stroke-width="0.6" opacity="1.0" mask="url(#m19)"><ellipse cx="693.7" cy="1512.5" rx="5.8" ry="1.6" transform="rotate(-37.1 693.7 1512.5)"/><ellipse cx="703.6" cy="1505.0" rx="5.8" ry="1.6" transform="rotate(-37.1 703.6 1505.0)"/><ellipse cx="713.5" cy="1497.5" rx="5.8" ry="1.6" transform="rotate(-37.1 713.5 1497.5)"/><ellipse cx="723.4" cy="1490.0" rx="5.8" ry="1.6" transform="rotate(-37.1 723.4 1490.0)"/><ellipse cx="698.2" cy="1515.9" rx="5.8" ry="1.6" transform="rotate(-37.1 698.2 1515.9)"/><ellipse cx="708.1" cy="1508.4" rx="5.8" ry="1.6" transform="rotate(-37.1 708.1 1508.4)"/><ellipse cx="718.0" cy="1500.9" rx="5.8" ry="1.6" transform="rotate(-37.1 718.0 1500.9)"/><ellipse cx="727.9" cy="1493.4" rx="5.8" ry="1.6" transform="rotate(-37.1 727.9 1493.4)"/><ellipse cx="702.7" cy="1519.3" rx="5.8" ry="1.6" transform="rotate(-37.1 702.7 1519.3)"/><ellipse cx="712.6" cy="1511.8" rx="5.8" ry="1.6" transform="rotate(-37.1 712.6 1511.8)"/><ellipse cx="722.5" cy="1504.3" rx="5.8" ry="1.6" transform="rotate(-37.1 722.5 1504.3)"/><ellipse cx="732.4" cy="1496.8" rx="5.8" ry="1.6" transform="rotate(-37.1 732.4 1496.8)"/><ellipse cx="707.2" cy="1522.7" rx="5.8" ry="1.6" transform="rotate(-37.1 707.2 1522.7)"/><ellipse cx="717.1" cy="1515.2" rx="5.8" ry="1.6" transform="rotate(-37.1 717.1 1515.2)"/><ellipse cx="727.0" cy="1507.7" rx="5.8" ry="1.6" transform="rotate(-37.1 727.0 1507.7)"/><ellipse cx="736.9" cy="1500.2" rx="5.8" ry="1.6" transform="rotate(-37.1 736.9 1500.2)"/><ellipse cx="711.7" cy="1526.1" rx="5.8" ry="1.6" transform="rotate(-37.1 711.7 1526.1)"/><ellipse cx="721.6" cy="1518.6" rx="5.8" ry="1.6" transform="rotate(-37.1 721.6 1518.6)"/><ellipse cx="731.5" cy="1511.1" rx="5.8" ry="1.6" transform="rotate(-37.1 731.5 1511.1)"/><ellipse cx="741.4" cy="1503.6" rx="5.8" ry="1.6" transform="rotate(-37.1 741.4 1503.6)"/><ellipse cx="716.2" cy="1529.5" rx="5.8" ry="1.6" transform="rotate(-37.1 716.2 1529.5)"/><ellipse cx="726.1" cy="1522.0" rx="5.8" ry="1.6" transform="rotate(-37.1 726.1 1522.0)"/><ellipse cx="736.0" cy="1514.5" rx="5.8" ry="1.6" transform="rotate(-37.1 736.0 1514.5)"/><ellipse cx="745.9" cy="1507.0" rx="5.8" ry="1.6" transform="rotate(-37.1 745.9 1507.0)"/></g>
<mask id="m20" maskUnits="userSpaceOnUse" x="657.2" y="1446.7" width="127.8" height="82.5"><rect x="657.2" y="1446.7" width="127.8" height="82.5" fill="#fff"/><path d="M668.1 1495.0Q665.2 1489.8 670.8 1487.7L756.2 1456.8Q761.9 1454.7 764.5 1460.2L774.4 1481.1Q777.0 1486.5 771.4 1488.6L688.8 1519.2Q683.2 1521.2 680.2 1516.0Z" fill="#000" transform="translate(0 -0.8)"/></mask>
<g mask="url(#m20)"><path d="M668.1 1495.0Q665.2 1489.8 670.8 1487.7L756.2 1456.8Q761.9 1454.7 764.5 1460.2L774.4 1481.1Q777.0 1486.5 771.4 1488.6L688.8 1519.2Q683.2 1521.2 680.2 1516.0Z" transform="translate(0 1.6)" fill="#b01010" opacity="1"/></g>
<path d="M668.1 1495.0Q665.2 1489.8 670.8 1487.7L756.2 1456.8Q761.9 1454.7 764.5 1460.2L774.4 1481.1Q777.0 1486.5 771.4 1488.6L688.8 1519.2Q683.2 1521.2 680.2 1516.0Z" fill="#ff2210" opacity="0.85"/>
<path d="M668.1 1495.0Q665.2 1489.8 670.8 1487.7L756.2 1456.8Q761.9 1454.7 764.5 1460.2L774.4 1481.1Q777.0 1486.5 771.4 1488.6L688.8 1519.2Q683.2 1521.2 680.2 1516.0Z" fill="url(#shine)" opacity="0.16"/>
<g fill="#a8909a" stroke="#5e3238" stroke-width="0.6" opacity="1.0"><ellipse cx="690.2" cy="1490.1" rx="6.1" ry="1.4" transform="rotate(-19.4 690.2 1490.1)"/><ellipse cx="702.1" cy="1485.9" rx="6.1" ry="1.4" transform="rotate(-19.4 702.1 1485.9)"/><ellipse cx="714.0" cy="1481.7" rx="6.1" ry="1.4" transform="rotate(-19.4 714.0 1481.7)"/><ellipse cx="725.9" cy="1477.5" rx="6.1" ry="1.4" transform="rotate(-19.4 725.9 1477.5)"/><ellipse cx="691.5" cy="1493.6" rx="6.1" ry="1.4" transform="rotate(-19.4 691.5 1493.6)"/><ellipse cx="703.4" cy="1489.4" rx="6.1" ry="1.4" transform="rotate(-19.4 703.4 1489.4)"/><ellipse cx="715.3" cy="1485.3" rx="6.1" ry="1.4" transform="rotate(-19.4 715.3 1485.3)"/><ellipse cx="727.2" cy="1481.1" rx="6.1" ry="1.4" transform="rotate(-19.4 727.2 1481.1)"/><ellipse cx="692.8" cy="1497.1" rx="6.1" ry="1.4" transform="rotate(-19.4 692.8 1497.1)"/><ellipse cx="704.7" cy="1493.0" rx="6.1" ry="1.4" transform="rotate(-19.4 704.7 1493.0)"/><ellipse cx="716.6" cy="1488.8" rx="6.1" ry="1.4" transform="rotate(-19.4 716.6 1488.8)"/><ellipse cx="728.5" cy="1484.6" rx="6.1" ry="1.4" transform="rotate(-19.4 728.5 1484.6)"/><ellipse cx="694.1" cy="1500.7" rx="6.1" ry="1.4" transform="rotate(-19.4 694.1 1500.7)"/><ellipse cx="706.0" cy="1496.5" rx="6.1" ry="1.4" transform="rotate(-19.4 706.0 1496.5)"/><ellipse cx="717.9" cy="1492.3" rx="6.1" ry="1.4" transform="rotate(-19.4 717.9 1492.3)"/><ellipse cx="729.8" cy="1488.1" rx="6.1" ry="1.4" transform="rotate(-19.4 729.8 1488.1)"/><ellipse cx="695.4" cy="1504.2" rx="6.1" ry="1.4" transform="rotate(-19.4 695.4 1504.2)"/><ellipse cx="707.3" cy="1500.0" rx="6.1" ry="1.4" transform="rotate(-19.4 707.3 1500.0)"/><ellipse cx="719.2" cy="1495.9" rx="6.1" ry="1.4" transform="rotate(-19.4 719.2 1495.9)"/><ellipse cx="731.0" cy="1491.7" rx="6.1" ry="1.4" transform="rotate(-19.4 731.0 1491.7)"/><ellipse cx="696.7" cy="1507.8" rx="6.1" ry="1.4" transform="rotate(-19.4 696.7 1507.8)"/><ellipse cx="708.5" cy="1503.6" rx="6.1" ry="1.4" transform="rotate(-19.4 708.5 1503.6)"/><ellipse cx="720.4" cy="1499.4" rx="6.1" ry="1.4" transform="rotate(-19.4 720.4 1499.4)"/><ellipse cx="732.3" cy="1495.2" rx="6.1" ry="1.4" transform="rotate(-19.4 732.3 1495.2)"/></g>
<path d="M1153.5 1529.5Q1148.1 1526.7 1153.1 1523.4L1219.9 1479.2Q1224.9 1475.9 1230.3 1478.7L1267.5 1498.2Q1272.8 1501.0 1267.8 1504.3L1201.0 1548.5Q1196.0 1551.8 1190.7 1549.0Z" transform="translate(0 1.6)" fill="#6e6e6e"/>
<path d="M1153.5 1529.5Q1148.1 1526.7 1153.1 1523.4L1219.9 1479.2Q1224.9 1475.9 1230.3 1478.7L1267.5 1498.2Q1272.8 1501.0 1267.8 1504.3L1201.0 1548.5Q1196.0 1551.8 1190.7 1549.0Z" fill="#8c8c8c" opacity="1.0"/>
<path d="M1153.5 1529.5Q1148.1 1526.7 1153.1 1523.4L1219.9 1479.2Q1224.9 1475.9 1230.3 1478.7L1267.5 1498.2Q1272.8 1501.0 1267.8 1504.3L1201.0 1548.5Q1196.0 1551.8 1190.7 1549.0Z" fill="url(#shade)" opacity="0.06"/>
<mask id="m21" maskUnits="userSpaceOnUse" x="964.4" y="1313.7" width="420.0" height="420.0"><rect x="964.4" y="1313.7" width="420.0" height="420.0" fill="#fff"/><path d="M1149.8 1507.0Q1146.5 1502.0 1152.2 1499.9L1233.8 1470.3Q1239.4 1468.2 1242.6 1473.3L1254.8 1492.7Q1258.0 1497.8 1252.5 1500.0L1172.7 1531.9Q1167.1 1534.1 1163.9 1529.0Z" fill="#2a2a2a"/><path d="M1155.1 1498.8Q1149.7 1496.2 1154.8 1492.9L1219.9 1450.9Q1224.9 1447.7 1230.4 1450.2L1269.0 1468.0Q1274.4 1470.5 1269.4 1473.8L1204.2 1517.3Q1199.2 1520.6 1193.8 1517.9Z" fill="#2a2a2a"/></mask>
<g fill="#9aa4ba" stroke="#454b5e" stroke-width="0.6" opacity="1.0" mask="url(#m21)"><ellipse cx="1174.4" cy="1523.7" rx="5.8" ry="1.6" transform="rotate(-37.1 1174.4 1523.7)"/><ellipse cx="1184.3" cy="1516.2" rx="5.8" ry="1.6" transform="rotate(-37.1 1184.3 1516.2)"/><ellipse cx="1194.2" cy="1508.7" rx="5.8" ry="1.6" transform="rotate(-37.1 1194.2 1508.7)"/><ellipse cx="1204.1" cy="1501.2" rx="5.8" ry="1.6" transform="rotate(-37.1 1204.1 1501.2)"/><ellipse cx="1178.9" cy="1527.1" rx="5.8" ry="1.6" transform="rotate(-37.1 1178.9 1527.1)"/><ellipse cx="1188.8" cy="1519.6" rx="5.8" ry="1.6" transform="rotate(-37.1 1188.8 1519.6)"/><ellipse cx="1198.7" cy="1512.1" rx="5.8" ry="1.6" transform="rotate(-37.1 1198.7 1512.1)"/><ellipse cx="1208.6" cy="1504.6" rx="5.8" ry="1.6" transform="rotate(-37.1 1208.6 1504.6)"/><ellipse cx="1183.4" cy="1530.5" rx="5.8" ry="1.6" transform="rotate(-37.1 1183.4 1530.5)"/><ellipse cx="1193.3" cy="1523.0" rx="5.8" ry="1.6" transform="rotate(-37.1 1193.3 1523.0)"/><ellipse cx="1203.2" cy="1515.5" rx="5.8" ry="1.6" transform="rotate(-37.1 1203.2 1515.5)"/><ellipse cx="1213.1" cy="1508.0" rx="5.8" ry="1.6" transform="rotate(-37.1 1213.1 1508.0)"/><ellipse cx="1187.9" cy="1533.9" rx="5.8" ry="1.6" transform="rotate(-37.1 1187.9 1533.9)"/><ellipse cx="1197.8" cy="1526.4" rx="5.8" ry="1.6" transform="rotate(-37.1 1197.8 1526.4)"/><ellipse cx="1207.7" cy="1518.9" rx="5.8" ry="1.6" transform="rotate(-37.1 1207.7 1518.9)"/><ellipse cx="1217.6" cy="1511.4" rx="5.8" ry="1.6" transform="rotate(-37.1 1217.6 1511.4)"/><ellipse cx="1192.4" cy="1537.3" rx="5.8" ry="1.6" transform="rotate(-37.1 1192.4 1537.3)"/><ellipse cx="1202.3" cy="1529.8" rx="5.8" ry="1.6" transform="rotate(-37.1 1202.3 1529.8)"/><ellipse cx="1212.2" cy="1522.3" rx="5.8" ry="1.6" transform="rotate(-37.1 1212.2 1522.3)"/><ellipse cx="1222.1" cy="1514.8" rx="5.8" ry="1.6" transform="rotate(-37.1 1222.1 1514.8)"/><ellipse cx="1196.9" cy="1540.7" rx="5.8" ry="1.6" transform="rotate(-37.1 1196.9 1540.7)"/><ellipse cx="1206.8" cy="1533.2" rx="5.8" ry="1.6" transform="rotate(-37.1 1206.8 1533.2)"/><ellipse cx="1216.7" cy="1525.7" rx="5.8" ry="1.6" transform="rotate(-37.1 1216.7 1525.7)"/><ellipse cx="1226.6" cy="1518.2" rx="5.8" ry="1.6" transform="rotate(-37.1 1226.6 1518.2)"/></g>
<mask id="m22" maskUnits="userSpaceOnUse" x="1138.5" y="1460.2" width="127.5" height="81.9"><rect x="1138.5" y="1460.2" width="127.5" height="81.9" fill="#fff"/><path d="M1149.8 1507.0Q1146.5 1502.0 1152.2 1499.9L1233.8 1470.3Q1239.4 1468.2 1242.6 1473.3L1254.8 1492.7Q1258.0 1497.8 1252.5 1500.0L1172.7 1531.9Q1167.1 1534.1 1163.9 1529.0Z" fill="#000" transform="translate(0 -0.8)"/></mask>
<g mask="url(#m22)"><path d="M1149.8 1507.0Q1146.5 1502.0 1152.2 1499.9L1233.8 1470.3Q1239.4 1468.2 1242.6 1473.3L1254.8 1492.7Q1258.0 1497.8 1252.5 1500.0L1172.7 1531.9Q1167.1 1534.1 1163.9 1529.0Z" transform="translate(0 1.6)" fill="#b01010" opacity="1"/></g>
<path d="M1149.8 1507.0Q1146.5 1502.0 1152.2 1499.9L1233.8 1470.3Q1239.4 1468.2 1242.6 1473.3L1254.8 1492.7Q1258.0 1497.8 1252.5 1500.0L1172.7 1531.9Q1167.1 1534.1 1163.9 1529.0Z" fill="#ff2210" opacity="0.95"/>
<path d="M1149.8 1507.0Q1146.5 1502.0 1152.2 1499.9L1233.8 1470.3Q1239.4 1468.2 1242.6 1473.3L1254.8 1492.7Q1258.0 1497.8 1252.5 1500.0L1172.7 1531.9Q1167.1 1534.1 1163.9 1529.0Z" fill="url(#shine)" opacity="0.16"/>
<mask id="m23" maskUnits="userSpaceOnUse" x="960.3" y="1294.2" width="420.0" height="420.0"><rect x="960.3" y="1294.2" width="420.0" height="420.0" fill="#fff"/><path d="M1155.1 1498.8Q1149.7 1496.2 1154.8 1492.9L1219.9 1450.9Q1224.9 1447.7 1230.4 1450.2L1269.0 1468.0Q1274.4 1470.5 1269.4 1473.8L1204.2 1517.3Q1199.2 1520.6 1193.8 1517.9Z" fill="#2a2a2a"/></mask>
<g fill="#a8909a" stroke="#5e3238" stroke-width="0.6" opacity="1.0" mask="url(#m23)"><ellipse cx="1170.3" cy="1504.2" rx="6.1" ry="1.4" transform="rotate(-19.4 1170.3 1504.2)"/><ellipse cx="1182.2" cy="1500.0" rx="6.1" ry="1.4" transform="rotate(-19.4 1182.2 1500.0)"/><ellipse cx="1194.1" cy="1495.9" rx="6.1" ry="1.4" transform="rotate(-19.4 1194.1 1495.9)"/><ellipse cx="1206.0" cy="1491.7" rx="6.1" ry="1.4" transform="rotate(-19.4 1206.0 1491.7)"/><ellipse cx="1171.6" cy="1507.8" rx="6.1" ry="1.4" transform="rotate(-19.4 1171.6 1507.8)"/><ellipse cx="1183.5" cy="1503.6" rx="6.1" ry="1.4" transform="rotate(-19.4 1183.5 1503.6)"/><ellipse cx="1195.4" cy="1499.4" rx="6.1" ry="1.4" transform="rotate(-19.4 1195.4 1499.4)"/><ellipse cx="1207.3" cy="1495.2" rx="6.1" ry="1.4" transform="rotate(-19.4 1207.3 1495.2)"/><ellipse cx="1172.9" cy="1511.3" rx="6.1" ry="1.4" transform="rotate(-19.4 1172.9 1511.3)"/><ellipse cx="1184.8" cy="1507.1" rx="6.1" ry="1.4" transform="rotate(-19.4 1184.8 1507.1)"/><ellipse cx="1196.7" cy="1502.9" rx="6.1" ry="1.4" transform="rotate(-19.4 1196.7 1502.9)"/><ellipse cx="1208.5" cy="1498.8" rx="6.1" ry="1.4" transform="rotate(-19.4 1208.5 1498.8)"/><ellipse cx="1174.2" cy="1514.8" rx="6.1" ry="1.4" transform="rotate(-19.4 1174.2 1514.8)"/><ellipse cx="1186.1" cy="1510.6" rx="6.1" ry="1.4" transform="rotate(-19.4 1186.1 1510.6)"/><ellipse cx="1197.9" cy="1506.5" rx="6.1" ry="1.4" transform="rotate(-19.4 1197.9 1506.5)"/><ellipse cx="1209.8" cy="1502.3" rx="6.1" ry="1.4" transform="rotate(-19.4 1209.8 1502.3)"/><ellipse cx="1175.4" cy="1518.4" rx="6.1" ry="1.4" transform="rotate(-19.4 1175.4 1518.4)"/><ellipse cx="1187.3" cy="1514.2" rx="6.1" ry="1.4" transform="rotate(-19.4 1187.3 1514.2)"/><ellipse cx="1199.2" cy="1510.0" rx="6.1" ry="1.4" transform="rotate(-19.4 1199.2 1510.0)"/><ellipse cx="1211.1" cy="1505.8" rx="6.1" ry="1.4" transform="rotate(-19.4 1211.1 1505.8)"/><ellipse cx="1176.7" cy="1521.9" rx="6.1" ry="1.4" transform="rotate(-19.4 1176.7 1521.9)"/><ellipse cx="1188.6" cy="1517.7" rx="6.1" ry="1.4" transform="rotate(-19.4 1188.6 1517.7)"/><ellipse cx="1200.5" cy="1513.5" rx="6.1" ry="1.4" transform="rotate(-19.4 1200.5 1513.5)"/><ellipse cx="1212.4" cy="1509.4" rx="6.1" ry="1.4" transform="rotate(-19.4 1212.4 1509.4)"/></g>
<mask id="m24" maskUnits="userSpaceOnUse" x="1141.7" y="1439.7" width="140.7" height="88.9"><rect x="1141.7" y="1439.7" width="140.7" height="88.9" fill="#fff"/><path d="M1155.1 1498.8Q1149.7 1496.2 1154.8 1492.9L1219.9 1450.9Q1224.9 1447.7 1230.4 1450.2L1269.0 1468.0Q1274.4 1470.5 1269.4 1473.8L1204.2 1517.3Q1199.2 1520.6 1193.8 1517.9Z" fill="#000" transform="translate(0 -0.8)"/></mask>
<g mask="url(#m24)"><path d="M1155.1 1498.8Q1149.7 1496.2 1154.8 1492.9L1219.9 1450.9Q1224.9 1447.7 1230.4 1450.2L1269.0 1468.0Q1274.4 1470.5 1269.4 1473.8L1204.2 1517.3Q1199.2 1520.6 1193.8 1517.9Z" transform="translate(0 1.6)" fill="#6e6e6e" opacity="1"/></g>
<path d="M1155.1 1498.8Q1149.7 1496.2 1154.8 1492.9L1219.9 1450.9Q1224.9 1447.7 1230.4 1450.2L1269.0 1468.0Q1274.4 1470.5 1269.4 1473.8L1204.2 1517.3Q1199.2 1520.6 1193.8 1517.9Z" fill="#8e8a8a" opacity="0.88"/>
<path d="M1155.1 1498.8Q1149.7 1496.2 1154.8 1492.9L1219.9 1450.9Q1224.9 1447.7 1230.4 1450.2L1269.0 1468.0Q1274.4 1470.5 1269.4 1473.8L1204.2 1517.3Q1199.2 1520.6 1193.8 1517.9Z" fill="url(#shine)" opacity="0.05"/>
<g fill="#9aa4ba" stroke="#454b5e" stroke-width="0.6" opacity="1.0"><ellipse cx="1176.0" cy="1493.2" rx="5.8" ry="1.6" transform="rotate(-37.1 1176.0 1493.2)"/><ellipse cx="1185.9" cy="1485.7" rx="5.8" ry="1.6" transform="rotate(-37.1 1185.9 1485.7)"/><ellipse cx="1195.8" cy="1478.2" rx="5.8" ry="1.6" transform="rotate(-37.1 1195.8 1478.2)"/><ellipse cx="1205.7" cy="1470.7" rx="5.8" ry="1.6" transform="rotate(-37.1 1205.7 1470.7)"/><ellipse cx="1180.5" cy="1496.6" rx="5.8" ry="1.6" transform="rotate(-37.1 1180.5 1496.6)"/><ellipse cx="1190.4" cy="1489.1" rx="5.8" ry="1.6" transform="rotate(-37.1 1190.4 1489.1)"/><ellipse cx="1200.3" cy="1481.6" rx="5.8" ry="1.6" transform="rotate(-37.1 1200.3 1481.6)"/><ellipse cx="1210.2" cy="1474.1" rx="5.8" ry="1.6" transform="rotate(-37.1 1210.2 1474.1)"/><ellipse cx="1185.0" cy="1500.0" rx="5.8" ry="1.6" transform="rotate(-37.1 1185.0 1500.0)"/><ellipse cx="1194.9" cy="1492.5" rx="5.8" ry="1.6" transform="rotate(-37.1 1194.9 1492.5)"/><ellipse cx="1204.8" cy="1485.0" rx="5.8" ry="1.6" transform="rotate(-37.1 1204.8 1485.0)"/><ellipse cx="1214.7" cy="1477.5" rx="5.8" ry="1.6" transform="rotate(-37.1 1214.7 1477.5)"/><ellipse cx="1189.5" cy="1503.4" rx="5.8" ry="1.6" transform="rotate(-37.1 1189.5 1503.4)"/><ellipse cx="1199.4" cy="1495.9" rx="5.8" ry="1.6" transform="rotate(-37.1 1199.4 1495.9)"/><ellipse cx="1209.3" cy="1488.4" rx="5.8" ry="1.6" transform="rotate(-37.1 1209.3 1488.4)"/><ellipse cx="1219.2" cy="1480.9" rx="5.8" ry="1.6" transform="rotate(-37.1 1219.2 1480.9)"/><ellipse cx="1194.0" cy="1506.8" rx="5.8" ry="1.6" transform="rotate(-37.1 1194.0 1506.8)"/><ellipse cx="1203.9" cy="1499.3" rx="5.8" ry="1.6" transform="rotate(-37.1 1203.9 1499.3)"/><ellipse cx="1213.8" cy="1491.8" rx="5.8" ry="1.6" transform="rotate(-37.1 1213.8 1491.8)"/><ellipse cx="1223.7" cy="1484.3" rx="5.8" ry="1.6" transform="rotate(-37.1 1223.7 1484.3)"/><ellipse cx="1198.5" cy="1510.2" rx="5.8" ry="1.6" transform="rotate(-37.1 1198.5 1510.2)"/><ellipse cx="1208.4" cy="1502.7" rx="5.8" ry="1.6" transform="rotate(-37.1 1208.4 1502.7)"/><ellipse cx="1218.3" cy="1495.2" rx="5.8" ry="1.6" transform="rotate(-37.1 1218.3 1495.2)"/><ellipse cx="1228.2" cy="1487.7" rx="5.8" ry="1.6" transform="rotate(-37.1 1228.2 1487.7)"/></g>
<path d="M1677.0 1539.6Q1671.6 1537.0 1676.6 1533.6L1741.8 1489.3Q1746.8 1485.9 1752.2 1488.6L1791.5 1508.0Q1796.9 1510.6 1791.9 1514.0L1726.7 1558.1Q1721.7 1561.4 1716.3 1558.8Z" transform="translate(0 1.6)" fill="#6e6e6e"/>
<path d="M1677.0 1539.6Q1671.6 1537.0 1676.6 1533.6L1741.8 1489.3Q1746.8 1485.9 1752.2 1488.6L1791.5 1508.0Q1796.9 1510.6 1791.9 1514.0L1726.7 1558.1Q1721.7 1561.4 1716.3 1558.8Z" fill="#8c8c8c" opacity="1.0"/>
<path d="M1677.0 1539.6Q1671.6 1537.0 1676.6 1533.6L1741.8 1489.3Q1746.8 1485.9 1752.2 1488.6L1791.5 1508.0Q1796.9 1510.6 1791.9 1514.0L1726.7 1558.1Q1721.7 1561.4 1716.3 1558.8Z" fill="url(#shade)" opacity="0.06"/>
<mask id="m25" maskUnits="userSpaceOnUse" x="1487.9" y="1324.0" width="420.0" height="420.0"><rect x="1487.9" y="1324.0" width="420.0" height="420.0" fill="#fff"/><path d="M1672.3 1517.3Q1669.0 1512.2 1674.6 1510.0L1756.3 1477.8Q1761.9 1475.6 1765.1 1480.7L1779.2 1502.4Q1782.5 1507.4 1776.9 1509.6L1695.2 1541.6Q1689.6 1543.7 1686.3 1538.7Z" fill="#2a2a2a"/><path d="M1677.6 1508.5Q1672.2 1505.8 1677.2 1502.5L1742.5 1458.1Q1747.4 1454.7 1752.8 1457.5L1791.6 1477.4Q1796.9 1480.1 1791.9 1483.5L1726.7 1527.5Q1721.7 1530.9 1716.4 1528.2Z" fill="#2a2a2a"/><path d="M1671.8 1483.8Q1669.0 1478.5 1674.7 1476.5L1759.5 1445.5Q1765.1 1443.5 1767.8 1448.9L1776.6 1466.7Q1779.2 1472.1 1773.6 1474.2L1690.4 1506.2Q1684.8 1508.4 1682.0 1503.1Z" fill="#2a2a2a"/></mask>
<g fill="#9aa4ba" stroke="#454b5e" stroke-width="0.6" opacity="1.0" mask="url(#m25)"><ellipse cx="1697.9" cy="1534.0" rx="5.8" ry="1.6" transform="rotate(-37.1 1697.9 1534.0)"/><ellipse cx="1707.8" cy="1526.5" rx="5.8" ry="1.6" transform="rotate(-37.1 1707.8 1526.5)"/><ellipse cx="1717.7" cy="1519.0" rx="5.8" ry="1.6" transform="rotate(-37.1 1717.7 1519.0)"/><ellipse cx="1727.6" cy="1511.5" rx="5.8" ry="1.6" transform="rotate(-37.1 1727.6 1511.5)"/><ellipse cx="1702.4" cy="1537.4" rx="5.8" ry="1.6" transform="rotate(-37.1 1702.4 1537.4)"/><ellipse cx="1712.3" cy="1529.9" rx="5.8" ry="1.6" transform="rotate(-37.1 1712.3 1529.9)"/><ellipse cx="1722.2" cy="1522.4" rx="5.8" ry="1.6" transform="rotate(-37.1 1722.2 1522.4)"/><ellipse cx="1732.1" cy="1514.9" rx="5.8" ry="1.6" transform="rotate(-37.1 1732.1 1514.9)"/><ellipse cx="1706.9" cy="1540.8" rx="5.8" ry="1.6" transform="rotate(-37.1 1706.9 1540.8)"/><ellipse cx="1716.8" cy="1533.3" rx="5.8" ry="1.6" transform="rotate(-37.1 1716.8 1533.3)"/><ellipse cx="1726.7" cy="1525.8" rx="5.8" ry="1.6" transform="rotate(-37.1 1726.7 1525.8)"/><ellipse cx="1736.6" cy="1518.3" rx="5.8" ry="1.6" transform="rotate(-37.1 1736.6 1518.3)"/><ellipse cx="1711.4" cy="1544.2" rx="5.8" ry="1.6" transform="rotate(-37.1 1711.4 1544.2)"/><ellipse cx="1721.3" cy="1536.7" rx="5.8" ry="1.6" transform="rotate(-37.1 1721.3 1536.7)"/><ellipse cx="1731.2" cy="1529.2" rx="5.8" ry="1.6" transform="rotate(-37.1 1731.2 1529.2)"/><ellipse cx="1741.1" cy="1521.7" rx="5.8" ry="1.6" transform="rotate(-37.1 1741.1 1521.7)"/><ellipse cx="1715.9" cy="1547.6" rx="5.8" ry="1.6" transform="rotate(-37.1 1715.9 1547.6)"/><ellipse cx="1725.8" cy="1540.1" rx="5.8" ry="1.6" transform="rotate(-37.1 1725.8 1540.1)"/><ellipse cx="1735.7" cy="1532.6" rx="5.8" ry="1.6" transform="rotate(-37.1 1735.7 1532.6)"/><ellipse cx="1745.6" cy="1525.1" rx="5.8" ry="1.6" transform="rotate(-37.1 1745.6 1525.1)"/><ellipse cx="1720.4" cy="1551.0" rx="5.8" ry="1.6" transform="rotate(-37.1 1720.4 1551.0)"/><ellipse cx="1730.3" cy="1543.5" rx="5.8" ry="1.6" transform="rotate(-37.1 1730.3 1543.5)"/><ellipse cx="1740.2" cy="1536.0" rx="5.8" ry="1.6" transform="rotate(-37.1 1740.2 1536.0)"/><ellipse cx="1750.1" cy="1528.5" rx="5.8" ry="1.6" transform="rotate(-37.1 1750.1 1528.5)"/></g>
<mask id="m26" maskUnits="userSpaceOnUse" x="1661.0" y="1467.6" width="129.4" height="84.1"><rect x="1661.0" y="1467.6" width="129.4" height="84.1" fill="#fff"/><path d="M1672.3 1517.3Q1669.0 1512.2 1674.6 1510.0L1756.3 1477.8Q1761.9 1475.6 1765.1 1480.7L1779.2 1502.4Q1782.5 1507.4 1776.9 1509.6L1695.2 1541.6Q1689.6 1543.7 1686.3 1538.7Z" fill="#000" transform="translate(0 -0.8)"/></mask>
<g mask="url(#m26)"><path d="M1672.3 1517.3Q1669.0 1512.2 1674.6 1510.0L1756.3 1477.8Q1761.9 1475.6 1765.1 1480.7L1779.2 1502.4Q1782.5 1507.4 1776.9 1509.6L1695.2 1541.6Q1689.6 1543.7 1686.3 1538.7Z" transform="translate(0 1.6)" fill="#b01010" opacity="1"/></g>
<path d="M1672.3 1517.3Q1669.0 1512.2 1674.6 1510.0L1756.3 1477.8Q1761.9 1475.6 1765.1 1480.7L1779.2 1502.4Q1782.5 1507.4 1776.9 1509.6L1695.2 1541.6Q1689.6 1543.7 1686.3 1538.7Z" fill="#ff2210" opacity="0.95"/>
<path d="M1672.3 1517.3Q1669.0 1512.2 1674.6 1510.0L1756.3 1477.8Q1761.9 1475.6 1765.1 1480.7L1779.2 1502.4Q1782.5 1507.4 1776.9 1509.6L1695.2 1541.6Q1689.6 1543.7 1686.3 1538.7Z" fill="url(#shine)" opacity="0.16"/>
<mask id="m27" maskUnits="userSpaceOnUse" x="1482.8" y="1303.9" width="420.0" height="420.0"><rect x="1482.8" y="1303.9" width="420.0" height="420.0" fill="#fff"/><path d="M1677.6 1508.5Q1672.2 1505.8 1677.2 1502.5L1742.5 1458.1Q1747.4 1454.7 1752.8 1457.5L1791.6 1477.4Q1796.9 1480.1 1791.9 1483.5L1726.7 1527.5Q1721.7 1530.9 1716.4 1528.2Z" fill="#2a2a2a"/><path d="M1671.8 1483.8Q1669.0 1478.5 1674.7 1476.5L1759.5 1445.5Q1765.1 1443.5 1767.8 1448.9L1776.6 1466.7Q1779.2 1472.1 1773.6 1474.2L1690.4 1506.2Q1684.8 1508.4 1682.0 1503.1Z" fill="#2a2a2a"/></mask>
<g fill="#a8909a" stroke="#5e3238" stroke-width="0.6" opacity="1.0" mask="url(#m27)"><ellipse cx="1692.8" cy="1513.9" rx="6.1" ry="1.4" transform="rotate(-19.4 1692.8 1513.9)"/><ellipse cx="1704.7" cy="1509.7" rx="6.1" ry="1.4" transform="rotate(-19.4 1704.7 1509.7)"/><ellipse cx="1716.6" cy="1505.5" rx="6.1" ry="1.4" transform="rotate(-19.4 1716.6 1505.5)"/><ellipse cx="1728.5" cy="1501.3" rx="6.1" ry="1.4" transform="rotate(-19.4 1728.5 1501.3)"/><ellipse cx="1694.1" cy="1517.4" rx="6.1" ry="1.4" transform="rotate(-19.4 1694.1 1517.4)"/><ellipse cx="1706.0" cy="1513.2" rx="6.1" ry="1.4" transform="rotate(-19.4 1706.0 1513.2)"/><ellipse cx="1717.9" cy="1509.0" rx="6.1" ry="1.4" transform="rotate(-19.4 1717.9 1509.0)"/><ellipse cx="1729.8" cy="1504.9" rx="6.1" ry="1.4" transform="rotate(-19.4 1729.8 1504.9)"/><ellipse cx="1695.4" cy="1520.9" rx="6.1" ry="1.4" transform="rotate(-19.4 1695.4 1520.9)"/><ellipse cx="1707.3" cy="1516.7" rx="6.1" ry="1.4" transform="rotate(-19.4 1707.3 1516.7)"/><ellipse cx="1719.2" cy="1512.6" rx="6.1" ry="1.4" transform="rotate(-19.4 1719.2 1512.6)"/><ellipse cx="1731.0" cy="1508.4" rx="6.1" ry="1.4" transform="rotate(-19.4 1731.0 1508.4)"/><ellipse cx="1696.7" cy="1524.5" rx="6.1" ry="1.4" transform="rotate(-19.4 1696.7 1524.5)"/><ellipse cx="1708.5" cy="1520.3" rx="6.1" ry="1.4" transform="rotate(-19.4 1708.5 1520.3)"/><ellipse cx="1720.4" cy="1516.1" rx="6.1" ry="1.4" transform="rotate(-19.4 1720.4 1516.1)"/><ellipse cx="1732.3" cy="1511.9" rx="6.1" ry="1.4" transform="rotate(-19.4 1732.3 1511.9)"/><ellipse cx="1697.9" cy="1528.0" rx="6.1" ry="1.4" transform="rotate(-19.4 1697.9 1528.0)"/><ellipse cx="1709.8" cy="1523.8" rx="6.1" ry="1.4" transform="rotate(-19.4 1709.8 1523.8)"/><ellipse cx="1721.7" cy="1519.6" rx="6.1" ry="1.4" transform="rotate(-19.4 1721.7 1519.6)"/><ellipse cx="1733.6" cy="1515.5" rx="6.1" ry="1.4" transform="rotate(-19.4 1733.6 1515.5)"/><ellipse cx="1699.2" cy="1531.5" rx="6.1" ry="1.4" transform="rotate(-19.4 1699.2 1531.5)"/><ellipse cx="1711.1" cy="1527.4" rx="6.1" ry="1.4" transform="rotate(-19.4 1711.1 1527.4)"/><ellipse cx="1723.0" cy="1523.2" rx="6.1" ry="1.4" transform="rotate(-19.4 1723.0 1523.2)"/><ellipse cx="1734.9" cy="1519.0" rx="6.1" ry="1.4" transform="rotate(-19.4 1734.9 1519.0)"/></g>
<mask id="m28" maskUnits="userSpaceOnUse" x="1664.2" y="1446.7" width="140.7" height="92.2"><rect x="1664.2" y="1446.7" width="140.7" height="92.2" fill="#fff"/><path d="M1677.6 1508.5Q1672.2 1505.8 1677.2 1502.5L1742.5 1458.1Q1747.4 1454.7 1752.8 1457.5L1791.6 1477.4Q1796.9 1480.1 1791.9 1483.5L1726.7 1527.5Q1721.7 1530.9 1716.4 1528.2Z" fill="#000" transform="translate(0 -0.8)"/></mask>
<g mask="url(#m28)"><path d="M1677.6 1508.5Q1672.2 1505.8 1677.2 1502.5L1742.5 1458.1Q1747.4 1454.7 1752.8 1457.5L1791.6 1477.4Q1796.9 1480.1 1791.9 1483.5L1726.7 1527.5Q1721.7 1530.9 1716.4 1528.2Z" transform="translate(0 1.6)" fill="#6e6e6e" opacity="1"/></g>
<path d="M1677.6 1508.5Q1672.2 1505.8 1677.2 1502.5L1742.5 1458.1Q1747.4 1454.7 1752.8 1457.5L1791.6 1477.4Q1796.9 1480.1 1791.9 1483.5L1726.7 1527.5Q1721.7 1530.9 1716.4 1528.2Z" fill="#8e8a8a" opacity="0.88"/>
<path d="M1677.6 1508.5Q1672.2 1505.8 1677.2 1502.5L1742.5 1458.1Q1747.4 1454.7 1752.8 1457.5L1791.6 1477.4Q1796.9 1480.1 1791.9 1483.5L1726.7 1527.5Q1721.7 1530.9 1716.4 1528.2Z" fill="url(#shine)" opacity="0.05"/>
<mask id="m29" maskUnits="userSpaceOnUse" x="1488.5" y="1292.8" width="420.0" height="420.0"><rect x="1488.5" y="1292.8" width="420.0" height="420.0" fill="#fff"/><path d="M1671.8 1483.8Q1669.0 1478.5 1674.7 1476.5L1759.5 1445.5Q1765.1 1443.5 1767.8 1448.9L1776.6 1466.7Q1779.2 1472.1 1773.6 1474.2L1690.4 1506.2Q1684.8 1508.4 1682.0 1503.1Z" fill="#2a2a2a"/></mask>
<g fill="#9aa4ba" stroke="#454b5e" stroke-width="0.6" opacity="1.0" mask="url(#m29)"><ellipse cx="1698.5" cy="1502.8" rx="5.8" ry="1.6" transform="rotate(-37.1 1698.5 1502.8)"/><ellipse cx="1708.4" cy="1495.3" rx="5.8" ry="1.6" transform="rotate(-37.1 1708.4 1495.3)"/><ellipse cx="1718.3" cy="1487.8" rx="5.8" ry="1.6" transform="rotate(-37.1 1718.3 1487.8)"/><ellipse cx="1728.2" cy="1480.3" rx="5.8" ry="1.6" transform="rotate(-37.1 1728.2 1480.3)"/><ellipse cx="1703.0" cy="1506.2" rx="5.8" ry="1.6" transform="rotate(-37.1 1703.0 1506.2)"/><ellipse cx="1712.9" cy="1498.7" rx="5.8" ry="1.6" transform="rotate(-37.1 1712.9 1498.7)"/><ellipse cx="1722.8" cy="1491.2" rx="5.8" ry="1.6" transform="rotate(-37.1 1722.8 1491.2)"/><ellipse cx="1732.7" cy="1483.7" rx="5.8" ry="1.6" transform="rotate(-37.1 1732.7 1483.7)"/><ellipse cx="1707.5" cy="1509.6" rx="5.8" ry="1.6" transform="rotate(-37.1 1707.5 1509.6)"/><ellipse cx="1717.4" cy="1502.1" rx="5.8" ry="1.6" transform="rotate(-37.1 1717.4 1502.1)"/><ellipse cx="1727.3" cy="1494.6" rx="5.8" ry="1.6" transform="rotate(-37.1 1727.3 1494.6)"/><ellipse cx="1737.2" cy="1487.1" rx="5.8" ry="1.6" transform="rotate(-37.1 1737.2 1487.1)"/><ellipse cx="1712.0" cy="1513.0" rx="5.8" ry="1.6" transform="rotate(-37.1 1712.0 1513.0)"/><ellipse cx="1721.9" cy="1505.5" rx="5.8" ry="1.6" transform="rotate(-37.1 1721.9 1505.5)"/><ellipse cx="1731.8" cy="1498.0" rx="5.8" ry="1.6" transform="rotate(-37.1 1731.8 1498.0)"/><ellipse cx="1741.7" cy="1490.5" rx="5.8" ry="1.6" transform="rotate(-37.1 1741.7 1490.5)"/><ellipse cx="1716.5" cy="1516.4" rx="5.8" ry="1.6" transform="rotate(-37.1 1716.5 1516.4)"/><ellipse cx="1726.4" cy="1508.9" rx="5.8" ry="1.6" transform="rotate(-37.1 1726.4 1508.9)"/><ellipse cx="1736.3" cy="1501.4" rx="5.8" ry="1.6" transform="rotate(-37.1 1736.3 1501.4)"/><ellipse cx="1746.2" cy="1493.9" rx="5.8" ry="1.6" transform="rotate(-37.1 1746.2 1493.9)"/><ellipse cx="1721.0" cy="1519.8" rx="5.8" ry="1.6" transform="rotate(-37.1 1721.0 1519.8)"/><ellipse cx="1730.9" cy="1512.3" rx="5.8" ry="1.6" transform="rotate(-37.1 1730.9 1512.3)"/><ellipse cx="1740.8" cy="1504.8" rx="5.8" ry="1.6" transform="rotate(-37.1 1740.8 1504.8)"/><ellipse cx="1750.7" cy="1497.3" rx="5.8" ry="1.6" transform="rotate(-37.1 1750.7 1497.3)"/></g>
<mask id="m30" maskUnits="userSpaceOnUse" x="1661.0" y="1435.5" width="126.2" height="80.9"><rect x="1661.0" y="1435.5" width="126.2" height="80.9" fill="#fff"/><path d="M1671.8 1483.8Q1669.0 1478.5 1674.7 1476.5L1759.5 1445.5Q1765.1 1443.5 1767.8 1448.9L1776.6 1466.7Q1779.2 1472.1 1773.6 1474.2L1690.4 1506.2Q1684.8 1508.4 1682.0 1503.1Z" fill="#000" transform="translate(0 -0.8)"/></mask>
<g mask="url(#m30)"><path d="M1671.8 1483.8Q1669.0 1478.5 1674.7 1476.5L1759.5 1445.5Q1765.1 1443.5 1767.8 1448.9L1776.6 1466.7Q1779.2 1472.1 1773.6 1474.2L1690.4 1506.2Q1684.8 1508.4 1682.0 1503.1Z" transform="translate(0 1.6)" fill="#b01010" opacity="1"/></g>
<path d="M1671.8 1483.8Q1669.0 1478.5 1674.7 1476.5L1759.5 1445.5Q1765.1 1443.5 1767.8 1448.9L1776.6 1466.7Q1779.2 1472.1 1773.6 1474.2L1690.4 1506.2Q1684.8 1508.4 1682.0 1503.1Z" fill="#ff2210" opacity="0.85"/>
<path d="M1671.8 1483.8Q1669.0 1478.5 1674.7 1476.5L1759.5 1445.5Q1765.1 1443.5 1767.8 1448.9L1776.6 1466.7Q1779.2 1472.1 1773.6 1474.2L1690.4 1506.2Q1684.8 1508.4 1682.0 1503.1Z" fill="url(#shine)" opacity="0.16"/>
<g fill="#a8909a" stroke="#5e3238" stroke-width="0.6" opacity="1.0"><ellipse cx="1693.8" cy="1479.2" rx="6.1" ry="1.4" transform="rotate(-19.4 1693.8 1479.2)"/><ellipse cx="1705.7" cy="1475.0" rx="6.1" ry="1.4" transform="rotate(-19.4 1705.7 1475.0)"/><ellipse cx="1717.5" cy="1470.8" rx="6.1" ry="1.4" transform="rotate(-19.4 1717.5 1470.8)"/><ellipse cx="1729.4" cy="1466.6" rx="6.1" ry="1.4" transform="rotate(-19.4 1729.4 1466.6)"/><ellipse cx="1695.1" cy="1482.7" rx="6.1" ry="1.4" transform="rotate(-19.4 1695.1 1482.7)"/><ellipse cx="1706.9" cy="1478.5" rx="6.1" ry="1.4" transform="rotate(-19.4 1706.9 1478.5)"/><ellipse cx="1718.8" cy="1474.3" rx="6.1" ry="1.4" transform="rotate(-19.4 1718.8 1474.3)"/><ellipse cx="1730.7" cy="1470.2" rx="6.1" ry="1.4" transform="rotate(-19.4 1730.7 1470.2)"/><ellipse cx="1696.3" cy="1486.2" rx="6.1" ry="1.4" transform="rotate(-19.4 1696.3 1486.2)"/><ellipse cx="1708.2" cy="1482.0" rx="6.1" ry="1.4" transform="rotate(-19.4 1708.2 1482.0)"/><ellipse cx="1720.1" cy="1477.9" rx="6.1" ry="1.4" transform="rotate(-19.4 1720.1 1477.9)"/><ellipse cx="1732.0" cy="1473.7" rx="6.1" ry="1.4" transform="rotate(-19.4 1732.0 1473.7)"/><ellipse cx="1697.6" cy="1489.8" rx="6.1" ry="1.4" transform="rotate(-19.4 1697.6 1489.8)"/><ellipse cx="1709.5" cy="1485.6" rx="6.1" ry="1.4" transform="rotate(-19.4 1709.5 1485.6)"/><ellipse cx="1721.4" cy="1481.4" rx="6.1" ry="1.4" transform="rotate(-19.4 1721.4 1481.4)"/><ellipse cx="1733.3" cy="1477.2" rx="6.1" ry="1.4" transform="rotate(-19.4 1733.3 1477.2)"/><ellipse cx="1698.9" cy="1493.3" rx="6.1" ry="1.4" transform="rotate(-19.4 1698.9 1493.3)"/><ellipse cx="1710.8" cy="1489.1" rx="6.1" ry="1.4" transform="rotate(-19.4 1710.8 1489.1)"/><ellipse cx="1722.7" cy="1484.9" rx="6.1" ry="1.4" transform="rotate(-19.4 1722.7 1484.9)"/><ellipse cx="1734.6" cy="1480.8" rx="6.1" ry="1.4" transform="rotate(-19.4 1734.6 1480.8)"/><ellipse cx="1700.2" cy="1496.8" rx="6.1" ry="1.4" transform="rotate(-19.4 1700.2 1496.8)"/><ellipse cx="1712.1" cy="1492.6" rx="6.1" ry="1.4" transform="rotate(-19.4 1712.1 1492.6)"/><ellipse cx="1724.0" cy="1488.5" rx="6.1" ry="1.4" transform="rotate(-19.4 1724.0 1488.5)"/><ellipse cx="1735.9" cy="1484.3" rx="6.1" ry="1.4" transform="rotate(-19.4 1735.9 1484.3)"/></g>
<path d="M116.3 1624.7C117.0 1624.7 119.0 1624.8 120.3 1624.8C121.7 1624.8 123.0 1624.8 124.3 1624.8C125.7 1624.9 127.0 1624.9 128.3 1624.9C129.7 1624.9 131.0 1624.9 132.3 1624.9C133.7 1625.0 135.0 1625.0 136.3 1625.0C137.7 1625.0 139.0 1625.0 140.3 1625.1C141.7 1625.1 143.0 1625.1 144.3 1625.1C145.7 1625.1 147.0 1625.2 148.3 1625.2C149.7 1625.2 151.0 1625.2 152.3 1625.2C153.7 1625.3 155.0 1625.3 156.3 1625.3C157.7 1625.3 159.0 1625.3 160.3 1625.4C161.7 1625.4 163.0 1625.4 164.3 1625.4C165.7 1625.4 167.0 1625.5 168.3 1625.5C169.7 1625.5 171.0 1625.5 172.3 1625.5C173.7 1625.5 175.0 1625.6 176.3 1625.6C177.7 1625.6 179.0 1625.6 180.3 1625.6C181.7 1625.7 183.0 1625.7 184.3 1625.7C185.7 1625.7 187.0 1625.7 188.3 1625.8C189.7 1625.8 191.0 1625.8 192.3 1625.8C193.7 1625.8 195.0 1625.9 196.3 1625.9C197.7 1625.9 199.0 1625.9 200.3 1625.9C201.7 1626.0 203.0 1626.0 204.3 1626.0C205.7 1626.0 207.0 1626.0 208.3 1626.1C209.7 1626.1 211.0 1626.1 212.3 1626.1C213.7 1626.1 215.0 1626.2 216.3 1626.2C217.7 1626.2 219.0 1626.2 220.3 1626.2C221.7 1626.3 223.0 1626.3 224.3 1626.3C225.7 1626.3 227.0 1626.4 228.3 1626.4C229.7 1626.4 231.0 1626.4 232.3 1626.4C233.7 1626.5 235.0 1626.5 236.3 1626.5C237.7 1626.5 239.0 1626.5 240.3 1626.6C241.7 1626.6 243.0 1626.6 244.3 1626.6C245.7 1626.6 247.0 1626.7 248.3 1626.7C249.7 1626.7 251.0 1626.7 252.3 1626.7C253.7 1626.8 255.0 1626.8 256.3 1626.8C257.7 1626.8 259.0 1626.9 260.3 1626.9C261.7 1626.9 263.0 1627.0 264.3 1627.0C265.7 1627.0 267.0 1627.1 268.3 1627.1C269.7 1627.2 271.0 1627.2 272.3 1627.3C273.7 1627.3 275.0 1627.4 276.3 1627.4C277.7 1627.5 279.0 1627.6 280.3 1627.6C281.7 1627.7 283.0 1627.8 284.3 1627.9C285.7 1628.0 287.0 1628.1 288.3 1628.2C289.7 1628.3 291.0 1628.4 292.3 1628.5C293.7 1628.6 295.0 1628.7 296.3 1628.8C297.7 1628.9 299.0 1629.0 300.3 1629.1C301.7 1629.2 303.0 1629.3 304.3 1629.5C305.7 1629.6 307.0 1629.7 308.3 1629.8C309.7 1629.9 311.0 1630.1 312.3 1630.2C313.7 1630.3 315.0 1630.5 316.3 1630.6C317.7 1630.8 319.0 1630.9 320.3 1631.0C321.7 1631.2 323.0 1631.3 324.3 1631.4C325.7 1631.5 327.0 1631.6 328.3 1631.7C329.7 1631.7 331.0 1631.8 332.3 1631.8C333.7 1631.7 335.0 1631.6 336.3 1631.5C337.7 1631.3 339.0 1631.0 340.3 1630.6C341.7 1630.2 343.0 1629.8 344.3 1629.2C345.7 1628.7 347.0 1628.1 348.3 1627.4C349.7 1626.8 351.0 1626.0 352.3 1625.3C353.7 1624.6 355.0 1623.9 356.3 1623.2C357.7 1622.5 359.0 1621.8 360.3 1621.2C361.7 1620.6 363.0 1620.0 364.3 1619.6C365.7 1619.2 367.0 1618.8 368.3 1618.5C369.7 1618.2 371.0 1618.0 372.3 1617.9C373.7 1617.8 375.0 1617.7 376.3 1617.8C377.7 1617.8 379.0 1618.0 380.3 1618.2C381.7 1618.4 383.0 1618.7 384.3 1619.0C385.7 1619.3 387.0 1619.7 388.3 1620.1C389.7 1620.4 391.0 1620.9 392.3 1621.3C393.7 1621.7 395.0 1622.2 396.3 1622.5C397.7 1622.9 399.0 1623.2 400.3 1623.5C401.7 1623.8 403.0 1624.0 404.3 1624.2C405.7 1624.5 407.0 1624.7 408.3 1624.8C409.7 1625.0 411.0 1625.1 412.3 1625.2C413.7 1625.3 415.0 1625.3 416.3 1625.3C417.7 1625.3 419.0 1625.2 420.3 1625.1C421.7 1625.0 423.0 1624.8 424.3 1624.7C425.7 1624.6 427.0 1624.4 428.3 1624.3C429.7 1624.2 431.0 1624.2 432.3 1624.1C433.7 1624.1 435.0 1624.2 436.3 1624.2C437.7 1624.3 439.0 1624.4 440.3 1624.5C441.7 1624.7 443.0 1624.8 444.3 1625.0C445.7 1625.1 447.0 1625.3 448.3 1625.4C449.7 1625.5 451.0 1625.7 452.3 1625.8C453.7 1625.9 455.0 1625.9 456.3 1626.0C457.7 1626.0 459.0 1626.0 460.3 1626.0C461.7 1626.0 463.0 1625.9 464.3 1625.9C465.7 1625.8 467.0 1625.8 468.3 1625.7C469.7 1625.6 471.0 1625.6 472.3 1625.5C473.7 1625.4 475.0 1625.3 476.3 1625.3C477.6 1625.2 479.5 1625.1 480.1 1625.1" fill="none" stroke="#333333" stroke-width="3.4" stroke-linejoin="round"/>
<path d="M624.0 1626.5C624.7 1626.6 626.7 1626.8 628.0 1627.0C629.4 1627.2 630.7 1627.4 632.0 1627.8C633.4 1628.2 634.7 1628.6 636.0 1629.3C637.4 1629.9 638.7 1630.7 640.0 1631.5C641.4 1632.3 642.7 1633.2 644.0 1633.9C645.4 1634.5 646.7 1635.1 648.0 1635.4C649.4 1635.7 650.7 1635.7 652.0 1635.6C653.4 1635.6 654.7 1635.2 656.0 1634.9C657.4 1634.6 658.7 1634.2 660.0 1633.9C661.4 1633.6 662.7 1633.4 664.0 1633.2C665.4 1633.0 666.7 1632.8 668.0 1632.8C669.4 1632.8 670.7 1633.0 672.0 1633.2C673.4 1633.5 674.7 1634.0 676.0 1634.5C677.4 1634.9 678.7 1635.5 680.0 1636.0C681.4 1636.5 682.7 1637.1 684.0 1637.6C685.4 1638.2 686.7 1638.8 688.0 1639.2C689.4 1639.6 690.7 1640.0 692.0 1640.3C693.4 1640.6 694.7 1640.8 696.0 1641.1C697.4 1641.4 698.7 1641.7 700.0 1642.3C701.4 1642.8 702.7 1643.5 704.0 1644.1C705.4 1644.7 706.7 1645.4 708.0 1645.7C709.4 1646.0 710.7 1645.9 712.0 1645.9C713.4 1645.8 714.7 1645.4 716.0 1645.3C717.4 1645.2 718.7 1645.2 720.0 1645.3C721.4 1645.5 722.7 1645.8 724.0 1646.1C725.4 1646.4 726.7 1646.9 728.0 1647.3C729.4 1647.8 730.7 1648.3 732.0 1648.8C733.4 1649.3 734.7 1649.8 736.0 1650.3C737.4 1650.7 738.7 1651.2 740.0 1651.6C741.4 1652.1 742.7 1652.5 744.0 1653.0C745.4 1653.5 746.7 1654.0 748.0 1654.6C749.4 1655.1 750.7 1655.7 752.0 1656.3C753.4 1656.9 754.7 1657.6 756.0 1658.3C757.4 1659.0 758.7 1659.8 760.0 1660.6C761.4 1661.5 762.7 1662.4 764.0 1663.3C765.4 1664.2 766.7 1665.2 768.0 1666.2C769.4 1667.2 770.7 1668.3 772.0 1669.4C773.4 1670.4 774.7 1671.5 776.0 1672.7C777.4 1673.9 778.7 1675.2 780.0 1676.5C781.4 1677.8 782.7 1679.2 784.0 1680.5C785.4 1681.9 786.7 1683.3 788.0 1684.6C789.4 1685.8 790.7 1687.1 792.0 1688.2C793.4 1689.4 794.7 1690.5 796.0 1691.7C797.4 1692.8 798.7 1693.9 800.0 1695.2C801.4 1696.5 802.7 1697.8 804.0 1699.3C805.4 1700.8 806.7 1702.5 808.0 1704.0C809.4 1705.5 810.7 1707.1 812.0 1708.4C813.4 1709.8 814.7 1711.0 816.0 1712.1C817.4 1713.3 818.7 1714.3 820.0 1715.3C821.4 1716.3 822.7 1717.3 824.0 1717.9C825.4 1718.5 826.7 1719.1 828.0 1719.0C829.4 1719.0 830.7 1718.7 832.0 1717.6C833.4 1716.6 834.7 1715.1 836.0 1712.9C837.4 1710.6 838.7 1707.9 840.0 1704.0C841.4 1700.1 842.7 1695.6 844.0 1689.4C845.4 1683.2 846.7 1675.7 848.0 1666.7C849.4 1657.7 850.7 1646.9 852.0 1635.1C853.4 1623.4 854.7 1609.9 856.0 1596.4C857.4 1582.9 858.7 1568.0 860.0 1554.1C861.4 1540.1 862.7 1525.2 864.0 1512.6C865.4 1500.0 866.7 1487.9 868.0 1478.4C869.4 1469.0 870.7 1461.3 872.0 1456.1C873.4 1450.9 874.7 1448.3 876.0 1447.2C877.4 1446.2 878.7 1447.2 880.0 1449.9C881.4 1452.5 882.7 1457.1 884.0 1462.9C885.4 1468.7 886.7 1476.8 888.0 1484.7C889.4 1492.6 890.7 1501.9 892.0 1510.3C893.4 1518.7 894.7 1527.2 896.0 1534.9C897.4 1542.6 898.7 1550.0 900.0 1556.5C901.4 1563.0 902.7 1569.0 904.0 1574.0C905.4 1579.0 906.7 1583.1 908.0 1586.5C909.4 1590.0 910.7 1592.5 912.0 1594.7C913.4 1596.9 914.7 1598.3 916.0 1599.6C917.4 1601.0 918.7 1601.8 920.0 1602.7C921.4 1603.6 922.7 1604.3 924.0 1604.9C925.4 1605.6 926.7 1606.1 928.0 1606.5C929.4 1607.0 930.7 1607.4 932.0 1607.7C933.4 1608.0 934.7 1608.3 936.0 1608.6C937.4 1608.8 938.7 1609.0 940.0 1609.2C941.4 1609.4 942.7 1609.6 944.0 1609.8C945.4 1609.9 946.7 1610.1 948.0 1610.2C949.4 1610.4 950.7 1610.5 952.0 1610.6C953.4 1610.7 954.7 1610.8 956.0 1610.9C957.4 1611.0 958.7 1611.1 960.0 1611.2C961.4 1611.3 962.7 1611.4 964.0 1611.5C965.4 1611.5 966.7 1611.6 968.0 1611.6C969.4 1611.6 970.7 1611.6 972.0 1611.5C973.4 1611.4 974.7 1611.2 976.0 1611.0C977.4 1610.8 978.7 1610.5 980.0 1610.2C981.4 1610.0 982.9 1609.6 984.0 1609.3C985.2 1609.1 986.4 1608.9 986.8 1608.9" fill="none" stroke="#ff0000" stroke-width="3.4" stroke-linejoin="round"/>
<path d="M1123.4 1624.8C1124.1 1624.8 1126.1 1624.9 1127.4 1625.0C1128.7 1625.1 1130.1 1625.2 1131.4 1625.3C1132.7 1625.4 1134.1 1625.5 1135.4 1625.6C1136.7 1625.7 1138.1 1625.8 1139.4 1625.9C1140.7 1626.0 1142.1 1626.1 1143.4 1626.1C1144.7 1626.2 1146.1 1626.3 1147.4 1626.3C1148.7 1626.3 1150.1 1626.3 1151.4 1626.3C1152.7 1626.2 1154.1 1626.1 1155.4 1626.1C1156.7 1626.0 1158.1 1625.9 1159.4 1625.8C1160.7 1625.8 1162.1 1625.7 1163.4 1625.7C1164.7 1625.7 1166.1 1625.7 1167.4 1625.7C1168.7 1625.7 1170.1 1625.8 1171.4 1625.8C1172.7 1625.8 1174.1 1625.9 1175.4 1625.9C1176.7 1626.0 1178.1 1626.0 1179.4 1626.1C1180.7 1626.1 1182.1 1626.2 1183.4 1626.2C1184.7 1626.3 1186.1 1626.3 1187.4 1626.4C1188.7 1626.5 1190.1 1626.5 1191.4 1626.6C1192.7 1626.6 1194.1 1626.7 1195.4 1626.7C1196.7 1626.8 1198.1 1626.9 1199.4 1626.9C1200.7 1627.0 1202.1 1627.0 1203.4 1627.1C1204.7 1627.1 1206.1 1627.2 1207.4 1627.2C1208.7 1627.3 1210.1 1627.3 1211.4 1627.4C1212.7 1627.4 1214.1 1627.5 1215.4 1627.5C1216.7 1627.6 1218.1 1627.6 1219.4 1627.6C1220.7 1627.7 1222.1 1627.7 1223.4 1627.8C1224.7 1627.8 1226.1 1627.9 1227.4 1627.9C1228.7 1627.9 1230.1 1628.0 1231.4 1628.0C1232.7 1628.1 1234.1 1628.1 1235.4 1628.1C1236.7 1628.2 1238.1 1628.2 1239.4 1628.3C1240.7 1628.3 1242.1 1628.4 1243.4 1628.4C1244.7 1628.5 1246.1 1628.5 1247.4 1628.5C1248.7 1628.6 1250.1 1628.6 1251.4 1628.7C1252.7 1628.7 1254.1 1628.8 1255.4 1628.8C1256.7 1628.9 1258.1 1628.9 1259.4 1629.0C1260.7 1629.1 1262.1 1629.1 1263.4 1629.2C1264.7 1629.2 1266.1 1629.3 1267.4 1629.4C1268.7 1629.4 1270.1 1629.5 1271.4 1629.6C1272.7 1629.7 1274.1 1629.7 1275.4 1629.8C1276.7 1629.9 1278.1 1630.0 1279.4 1630.0C1280.7 1630.1 1282.1 1630.2 1283.4 1630.2C1284.7 1630.3 1286.1 1630.4 1287.4 1630.4C1288.7 1630.5 1290.1 1630.5 1291.4 1630.6C1292.7 1630.6 1294.1 1630.7 1295.4 1630.8C1296.7 1630.8 1298.1 1630.9 1299.4 1630.9C1300.7 1631.0 1302.1 1631.0 1303.4 1631.1C1304.7 1631.1 1306.1 1631.1 1307.4 1631.2C1308.7 1631.2 1310.1 1631.2 1311.4 1631.2C1312.7 1631.2 1314.1 1631.2 1315.4 1631.1C1316.7 1631.1 1318.1 1631.0 1319.4 1630.9C1320.7 1630.8 1322.1 1630.7 1323.4 1630.5C1324.7 1630.3 1326.1 1630.1 1327.4 1629.8C1328.7 1629.5 1330.1 1629.1 1331.4 1628.6C1332.7 1628.2 1334.1 1627.6 1335.4 1626.9C1336.7 1626.3 1338.1 1625.5 1339.4 1624.6C1340.7 1623.8 1342.1 1622.8 1343.4 1621.7C1344.7 1620.6 1346.1 1619.4 1347.4 1618.2C1348.7 1616.9 1350.1 1615.5 1351.4 1614.1C1352.7 1612.7 1354.1 1611.3 1355.4 1610.0C1356.7 1608.7 1358.1 1607.4 1359.4 1606.2C1360.7 1605.1 1362.1 1603.9 1363.4 1602.9C1364.7 1601.9 1366.1 1600.9 1367.4 1600.3C1368.7 1599.7 1370.1 1599.4 1371.4 1599.4C1372.7 1599.4 1374.1 1599.8 1375.4 1600.4C1376.7 1600.9 1378.1 1601.9 1379.4 1602.9C1380.7 1603.9 1382.1 1605.2 1383.4 1606.5C1384.7 1607.8 1386.1 1609.2 1387.4 1610.5C1388.7 1611.9 1390.1 1613.4 1391.4 1614.6C1392.7 1615.9 1394.1 1617.2 1395.4 1618.2C1396.7 1619.2 1398.1 1620.1 1399.4 1620.8C1400.7 1621.5 1402.1 1622.1 1403.4 1622.5C1404.7 1623.0 1406.1 1623.3 1407.4 1623.6C1408.7 1623.9 1410.1 1624.0 1411.4 1624.2C1412.7 1624.3 1414.1 1624.3 1415.4 1624.3C1416.7 1624.4 1418.1 1624.4 1419.4 1624.4C1420.7 1624.4 1422.1 1624.3 1423.4 1624.3C1424.7 1624.3 1426.1 1624.2 1427.4 1624.2C1428.7 1624.1 1430.1 1624.1 1431.4 1624.0C1432.7 1624.0 1434.1 1623.9 1435.4 1623.9C1436.7 1623.8 1438.1 1623.8 1439.4 1623.7C1440.7 1623.7 1442.1 1623.6 1443.4 1623.6C1444.7 1623.6 1446.1 1623.5 1447.4 1623.5C1448.7 1623.5 1450.1 1623.4 1451.4 1623.4C1452.7 1623.4 1454.1 1623.4 1455.4 1623.3C1456.7 1623.3 1458.1 1623.3 1459.4 1623.3C1460.7 1623.3 1462.1 1623.3 1463.4 1623.3C1464.7 1623.3 1466.1 1623.2 1467.4 1623.2C1468.7 1623.2 1470.1 1623.2 1471.4 1623.2C1472.7 1623.2 1474.1 1623.2 1475.4 1623.2C1476.7 1623.2 1478.1 1623.2 1479.4 1623.2C1480.7 1623.1 1482.2 1623.1 1483.4 1623.1C1484.6 1623.1 1486.3 1623.1 1486.8 1623.1" fill="none" stroke="#333333" stroke-width="3.4" stroke-linejoin="round"/>
<path d="M1626.6 1626.6C1627.3 1626.7 1629.3 1627.1 1630.6 1627.4C1631.9 1627.8 1633.3 1628.1 1634.6 1628.7C1635.9 1629.3 1637.3 1629.9 1638.6 1630.8C1639.9 1631.7 1641.3 1633.0 1642.6 1634.2C1643.9 1635.3 1645.3 1636.9 1646.6 1637.9C1647.9 1638.9 1649.3 1639.8 1650.6 1640.2C1651.9 1640.6 1653.3 1640.6 1654.6 1640.3C1655.9 1640.0 1657.3 1639.3 1658.6 1638.6C1659.9 1638.0 1661.3 1637.2 1662.6 1636.7C1663.9 1636.1 1665.3 1635.7 1666.6 1635.4C1667.9 1635.1 1669.3 1634.9 1670.6 1634.9C1671.9 1635.0 1673.3 1635.2 1674.6 1635.6C1675.9 1636.0 1677.3 1636.7 1678.6 1637.3C1679.9 1638.0 1681.3 1638.8 1682.6 1639.5C1683.9 1640.1 1685.3 1640.8 1686.6 1641.4C1687.9 1642.0 1689.3 1642.6 1690.6 1643.1C1691.9 1643.6 1693.3 1644.1 1694.6 1644.6C1695.9 1645.0 1697.3 1645.4 1698.6 1645.9C1699.9 1646.4 1701.3 1646.8 1702.6 1647.4C1703.9 1648.0 1705.3 1648.8 1706.6 1649.4C1707.9 1650.1 1709.3 1650.9 1710.6 1651.2C1711.9 1651.5 1713.3 1651.4 1714.6 1651.2C1715.9 1651.0 1717.3 1650.3 1718.6 1650.1C1719.9 1649.9 1721.3 1650.0 1722.6 1650.1C1723.9 1650.2 1725.3 1650.4 1726.6 1650.8C1727.9 1651.1 1729.3 1651.6 1730.6 1652.1C1731.9 1652.6 1733.3 1653.3 1734.6 1653.8C1735.9 1654.4 1737.3 1655.0 1738.6 1655.5C1739.9 1656.0 1741.3 1656.4 1742.6 1656.8C1743.9 1657.2 1745.3 1657.6 1746.6 1658.0C1747.9 1658.5 1749.3 1658.9 1750.6 1659.5C1751.9 1660.0 1753.3 1660.6 1754.6 1661.2C1755.9 1661.8 1757.3 1662.4 1758.6 1663.1C1759.9 1663.7 1761.3 1664.4 1762.6 1665.1C1763.9 1665.8 1765.3 1666.5 1766.6 1667.2C1767.9 1668.0 1769.3 1668.7 1770.6 1669.5C1771.9 1670.3 1773.3 1671.1 1774.6 1671.9C1775.9 1672.7 1777.3 1673.5 1778.6 1674.3C1779.9 1675.2 1781.3 1676.1 1782.6 1676.9C1783.9 1677.8 1785.3 1678.6 1786.6 1679.4C1787.9 1680.2 1789.3 1680.9 1790.6 1681.6C1791.9 1682.3 1793.3 1682.9 1794.6 1683.5C1795.9 1684.1 1797.3 1684.6 1798.6 1685.2C1799.9 1685.8 1801.3 1686.4 1802.6 1687.1C1803.9 1687.8 1805.3 1688.6 1806.6 1689.3C1807.9 1690.1 1809.3 1690.9 1810.6 1691.6C1811.9 1692.3 1813.3 1692.9 1814.6 1693.5C1815.9 1694.1 1817.3 1694.7 1818.6 1695.1C1819.9 1695.5 1821.3 1696.0 1822.6 1696.0C1823.9 1696.1 1825.3 1696.0 1826.6 1695.5C1827.9 1695.0 1829.3 1694.2 1830.6 1692.9C1831.9 1691.6 1833.3 1690.0 1834.6 1687.7C1835.9 1685.5 1837.3 1682.8 1838.6 1679.4C1839.9 1675.9 1841.3 1672.0 1842.6 1667.0C1843.9 1662.1 1845.3 1656.5 1846.6 1649.7C1847.9 1642.9 1849.3 1634.9 1850.6 1626.3C1851.9 1617.6 1853.3 1607.8 1854.6 1597.8C1855.9 1587.7 1857.3 1576.8 1858.6 1566.1C1859.9 1555.4 1861.3 1544.1 1862.6 1533.6C1863.9 1523.2 1865.3 1512.7 1866.6 1503.4C1867.9 1494.2 1869.3 1485.6 1870.6 1478.3C1871.9 1470.9 1873.3 1464.1 1874.6 1459.4C1875.9 1454.7 1877.3 1451.5 1878.6 1450.3C1879.9 1449.1 1881.3 1449.7 1882.6 1452.2C1883.9 1454.6 1885.3 1459.5 1886.6 1465.1C1887.9 1470.8 1889.3 1478.7 1890.6 1486.2C1891.9 1493.6 1893.3 1502.1 1894.6 1509.8C1895.9 1517.5 1897.3 1525.3 1898.6 1532.6C1899.9 1539.9 1901.3 1547.0 1902.6 1553.4C1903.9 1559.9 1905.3 1566.2 1906.6 1571.4C1907.9 1576.6 1909.3 1581.1 1910.6 1584.8C1911.9 1588.6 1913.3 1591.3 1914.6 1593.7C1915.9 1596.1 1917.3 1597.7 1918.6 1599.1C1919.9 1600.4 1921.3 1601.2 1922.6 1601.9C1923.9 1602.7 1925.3 1603.0 1926.6 1603.5C1927.9 1603.9 1929.3 1604.2 1930.6 1604.4C1931.9 1604.7 1933.3 1604.9 1934.6 1605.1C1935.9 1605.3 1937.3 1605.4 1938.6 1605.6C1939.9 1605.7 1941.3 1605.9 1942.6 1606.0C1943.9 1606.1 1945.3 1606.3 1946.6 1606.4C1947.9 1606.6 1949.3 1606.7 1950.6 1606.9C1951.9 1607.0 1953.3 1607.1 1954.6 1607.3C1955.9 1607.4 1957.3 1607.5 1958.6 1607.6C1959.9 1607.7 1961.3 1607.8 1962.6 1607.9C1963.9 1608.0 1965.3 1608.1 1966.6 1608.1C1967.9 1608.2 1969.3 1608.1 1970.6 1608.1C1971.9 1608.0 1973.3 1607.9 1974.6 1607.7C1975.9 1607.5 1977.3 1607.3 1978.6 1607.0C1979.9 1606.8 1981.3 1606.5 1982.6 1606.3C1983.9 1606.0 1985.4 1605.7 1986.6 1605.5C1987.8 1605.3 1989.5 1605.1 1990.0 1605.0" fill="none" stroke="#ff0000" stroke-width="3.4" stroke-linejoin="round"/>
<rect x="116.3" y="1387.6" width="362.8" height="366.9" fill="none" stroke="#202020" stroke-width="1.9"/>
<line x1="163.2" y1="1754.5" x2="163.2" y2="1750.5" stroke="#333" stroke-width="1.4"/>
<line x1="163.2" y1="1387.6" x2="163.2" y2="1391.6" stroke="#333" stroke-width="1.4"/>
<text x="161.6" y="1796.3" font-family="'Liberation Sans', sans-serif" font-size="34" text-anchor="middle" fill="#262626">2</text>
<text x="163.0" y="1368.6" font-family="'Liberation Sans', sans-serif" font-size="34" text-anchor="middle" fill="#000" textLength="56.3" lengthAdjust="spacingAndGlyphs">620</text>
<line x1="313.8" y1="1754.5" x2="313.8" y2="1750.5" stroke="#333" stroke-width="1.4"/>
<line x1="313.8" y1="1387.6" x2="313.8" y2="1391.6" stroke="#333" stroke-width="1.4"/>
<text x="312.2" y="1796.3" font-family="'Liberation Sans', sans-serif" font-size="34" text-anchor="middle" fill="#262626">4</text>
<text x="313.6" y="1368.6" font-family="'Liberation Sans', sans-serif" font-size="34" text-anchor="middle" fill="#000" textLength="56.3" lengthAdjust="spacingAndGlyphs">310</text>
<line x1="464.4" y1="1754.5" x2="464.4" y2="1750.5" stroke="#333" stroke-width="1.4"/>
<line x1="464.4" y1="1387.6" x2="464.4" y2="1391.6" stroke="#333" stroke-width="1.4"/>
<text x="462.8" y="1796.3" font-family="'Liberation Sans', sans-serif" font-size="34" text-anchor="middle" fill="#262626">6</text>
<text x="464.2" y="1368.6" font-family="'Liberation Sans', sans-serif" font-size="34" text-anchor="middle" fill="#000" textLength="56.3" lengthAdjust="spacingAndGlyphs">207</text>
<line x1="116.3" y1="1409.2" x2="120.3" y2="1409.2" stroke="#333" stroke-width="1.4"/>
<text x="104.3" y="1420.7" font-family="'Liberation Sans', sans-serif" font-size="34" text-anchor="end" fill="#262626">20</text>
<line x1="116.3" y1="1517.3" x2="120.3" y2="1517.3" stroke="#333" stroke-width="1.4"/>
<text x="104.3" y="1528.8" font-family="'Liberation Sans', sans-serif" font-size="34" text-anchor="end" fill="#262626">10</text>
<line x1="116.3" y1="1625.4" x2="120.3" y2="1625.4" stroke="#333" stroke-width="1.4"/>
<text x="104.3" y="1636.9" font-family="'Liberation Sans', sans-serif" font-size="34" text-anchor="end" fill="#262626">0</text>
<line x1="116.3" y1="1733.5" x2="120.3" y2="1733.5" stroke="#333" stroke-width="1.4"/>
<text x="104.3" y="1745.0" font-family="'Liberation Sans', sans-serif" font-size="34" text-anchor="end" fill="#262626">-10</text>
<text x="296.5" y="1323.3" font-family="'Liberation Sans', sans-serif" font-size="36.5" text-anchor="middle" fill="#000" textLength="271.0" lengthAdjust="spacingAndGlyphs">Wavelength (nm)</text>
<text x="296.7" y="1843.3" font-family="'Liberation Sans', sans-serif" font-size="36.5" text-anchor="middle" fill="#262626" textLength="180.0" lengthAdjust="spacingAndGlyphs">Energy (eV)</text>
<text font-family="'Liberation Sans', sans-serif" font-size="36.5" fill="#262626" transform="translate(37.8 1570.1) rotate(-90)"><tspan x="-178.6" y="0.0" font-size="36.5" textLength="146.1" lengthAdjust="spacingAndGlyphs">Ellipticity</tspan><tspan font-size="1"> </tspan><tspan x="-22.2" y="0.0" font-size="36.5" textLength="102.2" lengthAdjust="spacingAndGlyphs">(mdeg</tspan><tspan font-size="1"> </tspan><tspan x="86.7" y="0.0" font-size="36.5" textLength="52.2" lengthAdjust="spacingAndGlyphs">nm</tspan><tspan x="139.7" y="-16.7" font-size="28" textLength="22.1" lengthAdjust="spacingAndGlyphs">-1</tspan><tspan x="167.0" y="0" font-size="36.5">)</tspan></text>
<rect x="624.0" y="1387.6" width="362.8" height="366.9" fill="none" stroke="#202020" stroke-width="1.9"/>
<line x1="670.9" y1="1754.5" x2="670.9" y2="1750.5" stroke="#333" stroke-width="1.4"/>
<line x1="670.9" y1="1387.6" x2="670.9" y2="1391.6" stroke="#333" stroke-width="1.4"/>
<text x="669.3" y="1796.3" font-family="'Liberation Sans', sans-serif" font-size="34" text-anchor="middle" fill="#262626">2</text>
<text x="670.7" y="1368.6" font-family="'Liberation Sans', sans-serif" font-size="34" text-anchor="middle" fill="#000" textLength="56.3" lengthAdjust="spacingAndGlyphs">620</text>
<line x1="821.5" y1="1754.5" x2="821.5" y2="1750.5" stroke="#333" stroke-width="1.4"/>
<line x1="821.5" y1="1387.6" x2="821.5" y2="1391.6" stroke="#333" stroke-width="1.4"/>
<text x="819.9" y="1796.3" font-family="'Liberation Sans', sans-serif" font-size="34" text-anchor="middle" fill="#262626">4</text>
<text x="821.3" y="1368.6" font-family="'Liberation Sans', sans-serif" font-size="34" text-anchor="middle" fill="#000" textLength="56.3" lengthAdjust="spacingAndGlyphs">310</text>
<line x1="972.1" y1="1754.5" x2="972.1" y2="1750.5" stroke="#333" stroke-width="1.4"/>
<line x1="972.1" y1="1387.6" x2="972.1" y2="1391.6" stroke="#333" stroke-width="1.4"/>
<text x="970.5" y="1796.3" font-family="'Liberation Sans', sans-serif" font-size="34" text-anchor="middle" fill="#262626">6</text>
<text x="971.9" y="1368.6" font-family="'Liberation Sans', sans-serif" font-size="34" text-anchor="middle" fill="#000" textLength="56.3" lengthAdjust="spacingAndGlyphs">207</text>
<line x1="624.0" y1="1409.2" x2="628.0" y2="1409.2" stroke="#333" stroke-width="1.4"/>
<text x="612.0" y="1420.7" font-family="'Liberation Sans', sans-serif" font-size="34" text-anchor="end" fill="#262626">20</text>
<line x1="624.0" y1="1517.3" x2="628.0" y2="1517.3" stroke="#333" stroke-width="1.4"/>
<text x="612.0" y="1528.8" font-family="'Liberation Sans', sans-serif" font-size="34" text-anchor="end" fill="#262626">10</text>
<line x1="624.0" y1="1625.4" x2="628.0" y2="1625.4" stroke="#333" stroke-width="1.4"/>
<text x="612.0" y="1636.9" font-family="'Liberation Sans', sans-serif" font-size="34" text-anchor="end" fill="#262626">0</text>
<line x1="624.0" y1="1733.5" x2="628.0" y2="1733.5" stroke="#333" stroke-width="1.4"/>
<text x="612.0" y="1745.0" font-family="'Liberation Sans', sans-serif" font-size="34" text-anchor="end" fill="#262626">-10</text>
<text x="804.2" y="1323.3" font-family="'Liberation Sans', sans-serif" font-size="36.5" text-anchor="middle" fill="#000" textLength="271.0" lengthAdjust="spacingAndGlyphs">Wavelength (nm)</text>
<text x="804.4" y="1843.3" font-family="'Liberation Sans', sans-serif" font-size="36.5" text-anchor="middle" fill="#262626" textLength="180.0" lengthAdjust="spacingAndGlyphs">Energy (eV)</text>
<text font-family="'Liberation Sans', sans-serif" font-size="36.5" fill="#262626" transform="translate(545.5 1570.1) rotate(-90)"><tspan x="-178.6" y="0.0" font-size="36.5" textLength="146.1" lengthAdjust="spacingAndGlyphs">Ellipticity</tspan><tspan font-size="1"> </tspan><tspan x="-22.2" y="0.0" font-size="36.5" textLength="102.2" lengthAdjust="spacingAndGlyphs">(mdeg</tspan><tspan font-size="1"> </tspan><tspan x="86.7" y="0.0" font-size="36.5" textLength="52.2" lengthAdjust="spacingAndGlyphs">nm</tspan><tspan x="139.7" y="-16.7" font-size="28" textLength="22.1" lengthAdjust="spacingAndGlyphs">-1</tspan><tspan x="167.0" y="0" font-size="36.5">)</tspan></text>
<rect x="1123.4" y="1387.6" width="362.8" height="366.9" fill="none" stroke="#202020" stroke-width="1.9"/>
<line x1="1170.3" y1="1754.5" x2="1170.3" y2="1750.5" stroke="#333" stroke-width="1.4"/>
<line x1="1170.3" y1="1387.6" x2="1170.3" y2="1391.6" stroke="#333" stroke-width="1.4"/>
<text x="1168.7" y="1796.3" font-family="'Liberation Sans', sans-serif" font-size="34" text-anchor="middle" fill="#262626">2</text>
<text x="1170.1" y="1368.6" font-family="'Liberation Sans', sans-serif" font-size="34" text-anchor="middle" fill="#000" textLength="56.3" lengthAdjust="spacingAndGlyphs">620</text>
<line x1="1320.9" y1="1754.5" x2="1320.9" y2="1750.5" stroke="#333" stroke-width="1.4"/>
<line x1="1320.9" y1="1387.6" x2="1320.9" y2="1391.6" stroke="#333" stroke-width="1.4"/>
<text x="1319.3" y="1796.3" font-family="'Liberation Sans', sans-serif" font-size="34" text-anchor="middle" fill="#262626">4</text>
<text x="1320.7" y="1368.6" font-family="'Liberation Sans', sans-serif" font-size="34" text-anchor="middle" fill="#000" textLength="56.3" lengthAdjust="spacingAndGlyphs">310</text>
<line x1="1471.5" y1="1754.5" x2="1471.5" y2="1750.5" stroke="#333" stroke-width="1.4"/>
<line x1="1471.5" y1="1387.6" x2="1471.5" y2="1391.6" stroke="#333" stroke-width="1.4"/>
<text x="1469.9" y="1796.3" font-family="'Liberation Sans', sans-serif" font-size="34" text-anchor="middle" fill="#262626">6</text>
<text x="1471.3" y="1368.6" font-family="'Liberation Sans', sans-serif" font-size="34" text-anchor="middle" fill="#000" textLength="56.3" lengthAdjust="spacingAndGlyphs">207</text>
<line x1="1123.4" y1="1409.2" x2="1127.4" y2="1409.2" stroke="#333" stroke-width="1.4"/>
<text x="1111.4" y="1420.7" font-family="'Liberation Sans', sans-serif" font-size="34" text-anchor="end" fill="#262626">20</text>
<line x1="1123.4" y1="1517.3" x2="1127.4" y2="1517.3" stroke="#333" stroke-width="1.4"/>
<text x="1111.4" y="1528.8" font-family="'Liberation Sans', sans-serif" font-size="34" text-anchor="end" fill="#262626">10</text>
<line x1="1123.4" y1="1625.4" x2="1127.4" y2="1625.4" stroke="#333" stroke-width="1.4"/>
<text x="1111.4" y="1636.9" font-family="'Liberation Sans', sans-serif" font-size="34" text-anchor="end" fill="#262626">0</text>
<line x1="1123.4" y1="1733.5" x2="1127.4" y2="1733.5" stroke="#333" stroke-width="1.4"/>
<text x="1111.4" y="1745.0" font-family="'Liberation Sans', sans-serif" font-size="34" text-anchor="end" fill="#262626">-10</text>
<text x="1303.6" y="1323.3" font-family="'Liberation Sans', sans-serif" font-size="36.5" text-anchor="middle" fill="#000" textLength="271.0" lengthAdjust="spacingAndGlyphs">Wavelength (nm)</text>
<text x="1303.8" y="1843.3" font-family="'Liberation Sans', sans-serif" font-size="36.5" text-anchor="middle" fill="#262626" textLength="180.0" lengthAdjust="spacingAndGlyphs">Energy (eV)</text>
<text font-family="'Liberation Sans', sans-serif" font-size="36.5" fill="#262626" transform="translate(1044.9 1570.1) rotate(-90)"><tspan x="-178.6" y="0.0" font-size="36.5" textLength="146.1" lengthAdjust="spacingAndGlyphs">Ellipticity</tspan><tspan font-size="1"> </tspan><tspan x="-22.2" y="0.0" font-size="36.5" textLength="102.2" lengthAdjust="spacingAndGlyphs">(mdeg</tspan><tspan font-size="1"> </tspan><tspan x="86.7" y="0.0" font-size="36.5" textLength="52.2" lengthAdjust="spacingAndGlyphs">nm</tspan><tspan x="139.7" y="-16.7" font-size="28" textLength="22.1" lengthAdjust="spacingAndGlyphs">-1</tspan><tspan x="167.0" y="0" font-size="36.5">)</tspan></text>
<rect x="1626.6" y="1387.6" width="362.8" height="366.9" fill="none" stroke="#202020" stroke-width="1.9"/>
<line x1="1673.5" y1="1754.5" x2="1673.5" y2="1750.5" stroke="#333" stroke-width="1.4"/>
<line x1="1673.5" y1="1387.6" x2="1673.5" y2="1391.6" stroke="#333" stroke-width="1.4"/>
<text x="1671.9" y="1796.3" font-family="'Liberation Sans', sans-serif" font-size="34" text-anchor="middle" fill="#262626">2</text>
<text x="1673.3" y="1368.6" font-family="'Liberation Sans', sans-serif" font-size="34" text-anchor="middle" fill="#000" textLength="56.3" lengthAdjust="spacingAndGlyphs">620</text>
<line x1="1824.1" y1="1754.5" x2="1824.1" y2="1750.5" stroke="#333" stroke-width="1.4"/>
<line x1="1824.1" y1="1387.6" x2="1824.1" y2="1391.6" stroke="#333" stroke-width="1.4"/>
<text x="1822.5" y="1796.3" font-family="'Liberation Sans', sans-serif" font-size="34" text-anchor="middle" fill="#262626">4</text>
<text x="1823.9" y="1368.6" font-family="'Liberation Sans', sans-serif" font-size="34" text-anchor="middle" fill="#000" textLength="56.3" lengthAdjust="spacingAndGlyphs">310</text>
<line x1="1974.7" y1="1754.5" x2="1974.7" y2="1750.5" stroke="#333" stroke-width="1.4"/>
<line x1="1974.7" y1="1387.6" x2="1974.7" y2="1391.6" stroke="#333" stroke-width="1.4"/>
<text x="1973.1" y="1796.3" font-family="'Liberation Sans', sans-serif" font-size="34" text-anchor="middle" fill="#262626">6</text>
<text x="1974.5" y="1368.6" font-family="'Liberation Sans', sans-serif" font-size="34" text-anchor="middle" fill="#000" textLength="56.3" lengthAdjust="spacingAndGlyphs">207</text>
<line x1="1626.6" y1="1409.2" x2="1630.6" y2="1409.2" stroke="#333" stroke-width="1.4"/>
<text x="1614.6" y="1420.7" font-family="'Liberation Sans', sans-serif" font-size="34" text-anchor="end" fill="#262626">20</text>
<line x1="1626.6" y1="1517.3" x2="1630.6" y2="1517.3" stroke="#333" stroke-width="1.4"/>
<text x="1614.6" y="1528.8" font-family="'Liberation Sans', sans-serif" font-size="34" text-anchor="end" fill="#262626">10</text>
<line x1="1626.6" y1="1625.4" x2="1630.6" y2="1625.4" stroke="#333" stroke-width="1.4"/>
<text x="1614.6" y="1636.9" font-family="'Liberation Sans', sans-serif" font-size="34" text-anchor="end" fill="#262626">0</text>
<line x1="1626.6" y1="1733.5" x2="1630.6" y2="1733.5" stroke="#333" stroke-width="1.4"/>
<text x="1614.6" y="1745.0" font-family="'Liberation Sans', sans-serif" font-size="34" text-anchor="end" fill="#262626">-10</text>
<text x="1806.8" y="1323.3" font-family="'Liberation Sans', sans-serif" font-size="36.5" text-anchor="middle" fill="#000" textLength="271.0" lengthAdjust="spacingAndGlyphs">Wavelength (nm)</text>
<text x="1807.0" y="1843.3" font-family="'Liberation Sans', sans-serif" font-size="36.5" text-anchor="middle" fill="#262626" textLength="180.0" lengthAdjust="spacingAndGlyphs">Energy (eV)</text>
<text font-family="'Liberation Sans', sans-serif" font-size="36.5" fill="#262626" transform="translate(1548.1 1570.1) rotate(-90)"><tspan x="-178.6" y="0.0" font-size="36.5" textLength="146.1" lengthAdjust="spacingAndGlyphs">Ellipticity</tspan><tspan font-size="1"> </tspan><tspan x="-22.2" y="0.0" font-size="36.5" textLength="102.2" lengthAdjust="spacingAndGlyphs">(mdeg</tspan><tspan font-size="1"> </tspan><tspan x="86.7" y="0.0" font-size="36.5" textLength="52.2" lengthAdjust="spacingAndGlyphs">nm</tspan><tspan x="139.7" y="-16.7" font-size="28" textLength="22.1" lengthAdjust="spacingAndGlyphs">-1</tspan><tspan x="167.0" y="0" font-size="36.5">)</tspan></text>
<text x="140.4" y="1425.5" font-family="'Liberation Sans', sans-serif" font-size="29.5" text-anchor="start" fill="#000" textLength="20.0" lengthAdjust="spacingAndGlyphs">A</text>
<text x="643.6" y="1425.5" font-family="'Liberation Sans', sans-serif" font-size="29.5" text-anchor="start" fill="#000" textLength="138.6" lengthAdjust="spacingAndGlyphs">AB: {+30°}</text>
<text x="1143.6" y="1425.5" font-family="'Liberation Sans', sans-serif" font-size="29.5" text-anchor="start" fill="#000" textLength="229.2" lengthAdjust="spacingAndGlyphs">ABA: {+30°, -30°}</text>
<text x="1639.7" y="1425.5" font-family="'Liberation Sans', sans-serif" font-size="29.5" text-anchor="start" fill="#000" textLength="327.2" lengthAdjust="spacingAndGlyphs">ABAB: {+30°, -30°, +30°}</text>
</svg>
</body></html>
